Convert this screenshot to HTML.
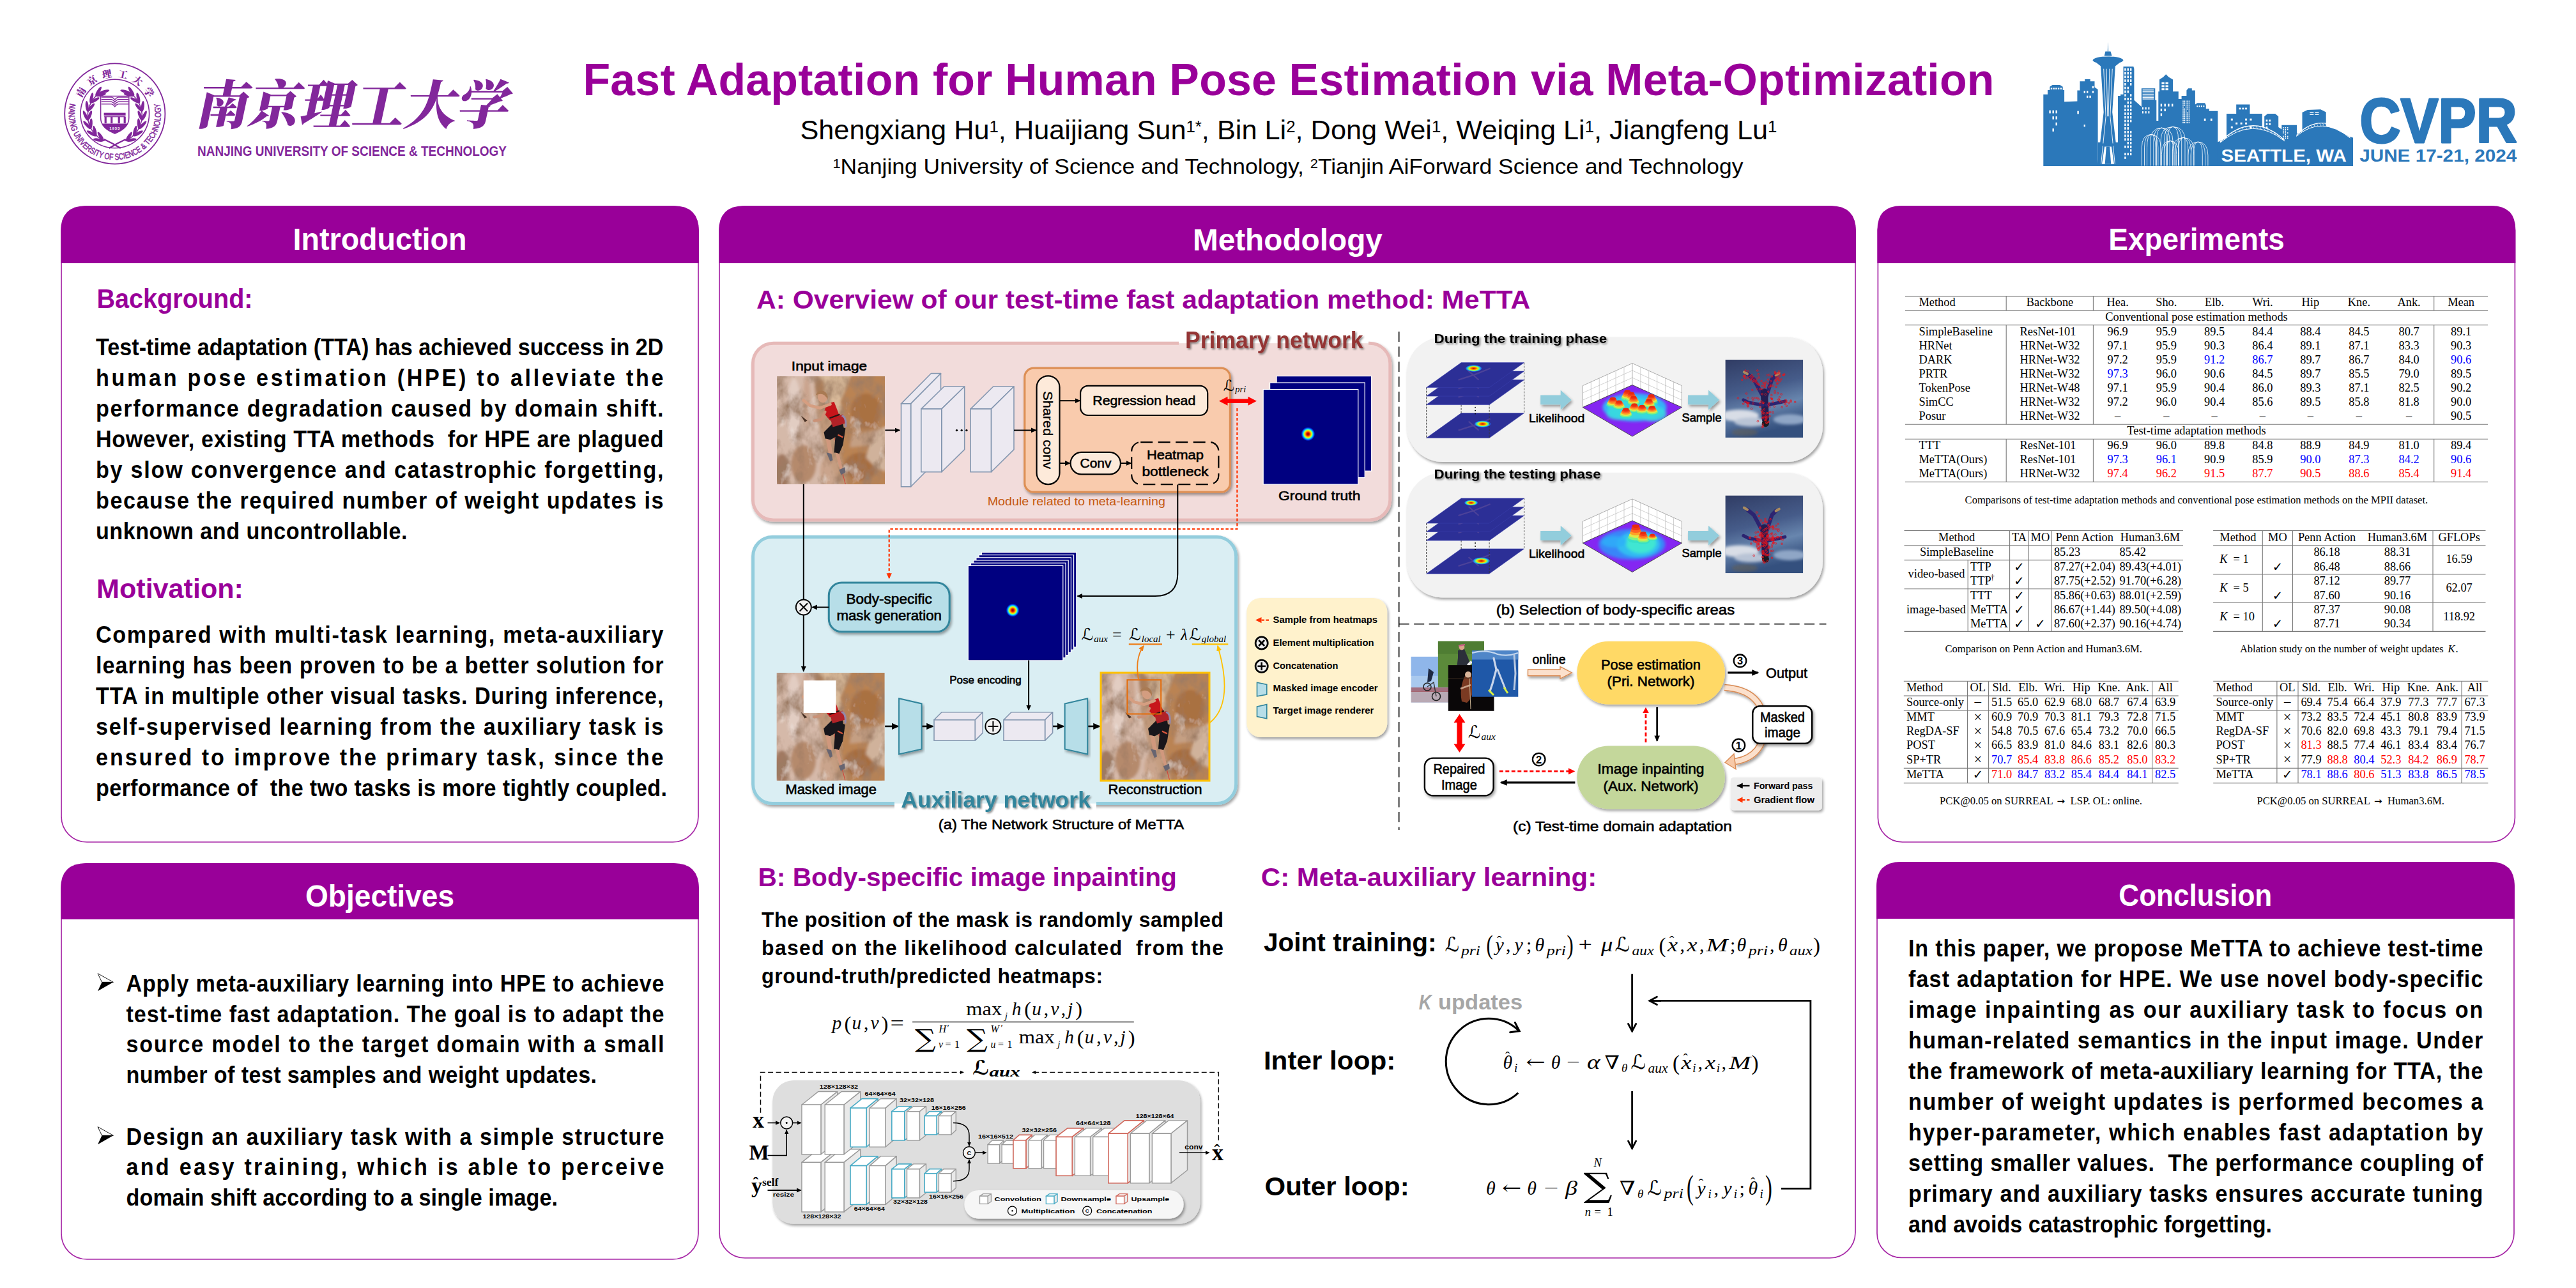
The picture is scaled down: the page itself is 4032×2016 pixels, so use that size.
<!DOCTYPE html>
<html lang="en">
<head>
<meta charset="utf-8">
<title>Fast Adaptation for Human Pose Estimation via Meta-Optimization</title>
<style>
html,body{margin:0;padding:0;background:#fff;}
body{width:4032px;height:2016px;overflow:hidden;font-family:"Liberation Sans", "DejaVu Sans", sans-serif;}
svg{display:block;position:absolute;left:0;top:0;}
text{white-space:pre;}
</style>
</head>
<body>
<svg width="4032" height="2016" viewBox="0 0 4032 2016">
<rect width="4032" height="2016" fill="#fff"/>
<g id="header">
<g id="njust-emblem">
<circle cx="179.8" cy="178.0" r="78.6" fill="#fff" stroke="#82279b" stroke-width="1.8"/>
<circle cx="179.8" cy="178.0" r="53.8" fill="none" stroke="#82279b" stroke-width="1.6"/>
<path id="embArcB" d="M109.74,160.53 A72.2,72.2 0 1 0 249.86,160.53" fill="none"/>
<text font-family='"Liberation Sans", "DejaVu Sans", sans-serif' font-size="13.6" fill="#82279b" stroke="#82279b" stroke-width="0.5" textLength="259.1" lengthAdjust="spacingAndGlyphs"><textPath href="#embArcB" startOffset="1.5">NANJING UNIVERSITY OF SCIENCE &amp; TECHNOLOGY</textPath></text>
<path id="embArcT" d="M127.27,154.61 A57.5,57.5 0 0 1 232.33,154.61" fill="none"/>
<text font-family='"Liberation Serif","Noto Serif CJK SC",serif' font-weight="900" font-size="15" fill="#82279b" textLength="130.5" lengthAdjust="spacing"><textPath href="#embArcT" startOffset="1">南京理工大学</textPath></text>
<path d="M157.6,150.6 L201.8,150.6 L201.8,184.6 Q201.8,200.6 179.8,209.0 Q157.6,200.6 157.6,184.6 Z" fill="#fff" stroke="#82279b" stroke-width="1.5"/>
<path d="M160.1,193.6 L199.3,193.6 Q196.8,202.6 179.8,208.6 Q162.6,202.6 160.1,193.6 Z" fill="#82279b"/>
<text x="179.80" y="202.60" font-family='"Liberation Sans", "DejaVu Sans", sans-serif' font-size="6.2" font-weight="bold" fill="#fff" text-anchor="middle" letter-spacing="0.8">1953</text>
<path d="M158.6,152.1 L174.8,152.1 Q177.8,153.1 179.8,156.1 Q181.8,153.1 184.8,152.1 L200.8,152.1" fill="none" stroke="#82279b" stroke-width="1.4"/>
<path d="M158.6,155.7 L174.8,155.7 Q177.8,156.7 179.8,159.7 Q181.8,156.7 184.8,155.7 L200.8,155.7" fill="none" stroke="#82279b" stroke-width="1.4"/>
<path d="M158.6,159.29999999999998 L174.8,159.29999999999998 Q177.8,160.29999999999998 179.8,163.29999999999998 Q181.8,160.29999999999998 184.8,159.29999999999998 L200.8,159.29999999999998" fill="none" stroke="#82279b" stroke-width="1.4"/>
<path d="M158.6,162.9 L174.8,162.9 Q177.8,163.9 179.8,166.9 Q181.8,163.9 184.8,162.9 L200.8,162.9" fill="none" stroke="#82279b" stroke-width="1.4"/>
<rect x="162.60" y="176.60" width="34.00" height="4.20" fill="#82279b"/>
<rect x="163.10" y="182.10" width="33.00" height="1.20" fill="#82279b"/>
<rect x="163.60" y="182.60" width="3.20" height="10.50" fill="#82279b"/>
<rect x="173.10" y="182.60" width="3.20" height="10.50" fill="#82279b"/>
<rect x="184.60" y="182.60" width="3.20" height="10.50" fill="#82279b"/>
<rect x="193.60" y="182.60" width="3.20" height="10.50" fill="#82279b"/>
<path d="M195.7,220.4 A42.5,42.5 0 0 0 201.1,144.2" fill="none" stroke="#82279b" stroke-width="1.5"/>
<ellipse cx="205.5" cy="219.1" rx="2.4" ry="8.4" fill="#82279b" transform="rotate(80.0 205.5 219.1)"/>
<ellipse cx="201.9" cy="213.7" rx="2.4" ry="8.4" fill="#82279b" transform="rotate(34.0 201.9 213.7)"/>
<ellipse cx="216.4" cy="208.9" rx="2.4" ry="8.4" fill="#82279b" transform="rotate(61.3 216.4 208.9)"/>
<ellipse cx="211.2" cy="205.0" rx="2.4" ry="8.4" fill="#82279b" transform="rotate(15.3 211.2 205.0)"/>
<ellipse cx="223.4" cy="195.7" rx="2.4" ry="8.4" fill="#82279b" transform="rotate(42.7 223.4 195.7)"/>
<ellipse cx="217.2" cy="193.6" rx="2.4" ry="8.4" fill="#82279b" transform="rotate(-3.3 217.2 193.6)"/>
<ellipse cx="225.8" cy="181.0" rx="2.4" ry="8.4" fill="#82279b" transform="rotate(24.0 225.8 181.0)"/>
<ellipse cx="219.3" cy="181.0" rx="2.4" ry="8.4" fill="#82279b" transform="rotate(-22.0 219.3 181.0)"/>
<ellipse cx="223.4" cy="166.3" rx="2.4" ry="8.4" fill="#82279b" transform="rotate(5.3 223.4 166.3)"/>
<ellipse cx="217.2" cy="168.4" rx="2.4" ry="8.4" fill="#82279b" transform="rotate(-40.7 217.2 168.4)"/>
<ellipse cx="216.4" cy="153.1" rx="2.4" ry="8.4" fill="#82279b" transform="rotate(-13.3 216.4 153.1)"/>
<ellipse cx="211.2" cy="157.0" rx="2.4" ry="8.4" fill="#82279b" transform="rotate(-59.3 211.2 157.0)"/>
<ellipse cx="205.5" cy="142.9" rx="2.4" ry="8.4" fill="#82279b" transform="rotate(-32.0 205.5 142.9)"/>
<ellipse cx="201.9" cy="148.3" rx="2.4" ry="8.4" fill="#82279b" transform="rotate(-78.0 201.9 148.3)"/>
<ellipse cx="196.5" cy="143.5" rx="2.4" ry="8.5" fill="#82279b" transform="rotate(-74.0 196.5 143.5)"/>
<path d="M196.8,218.0 Q183.8,224.0 170.8,232.0" stroke="#82279b" stroke-width="2.4" fill="none"/>
<g transform="translate(359.6,0) scale(-1,1)"><path d="M195.7,220.4 A42.5,42.5 0 0 0 201.1,144.2" fill="none" stroke="#82279b" stroke-width="1.5"/><ellipse cx="205.5" cy="219.1" rx="2.4" ry="8.4" fill="#82279b" transform="rotate(80.0 205.5 219.1)"/><ellipse cx="201.9" cy="213.7" rx="2.4" ry="8.4" fill="#82279b" transform="rotate(34.0 201.9 213.7)"/><ellipse cx="216.4" cy="208.9" rx="2.4" ry="8.4" fill="#82279b" transform="rotate(61.3 216.4 208.9)"/><ellipse cx="211.2" cy="205.0" rx="2.4" ry="8.4" fill="#82279b" transform="rotate(15.3 211.2 205.0)"/><ellipse cx="223.4" cy="195.7" rx="2.4" ry="8.4" fill="#82279b" transform="rotate(42.7 223.4 195.7)"/><ellipse cx="217.2" cy="193.6" rx="2.4" ry="8.4" fill="#82279b" transform="rotate(-3.3 217.2 193.6)"/><ellipse cx="225.8" cy="181.0" rx="2.4" ry="8.4" fill="#82279b" transform="rotate(24.0 225.8 181.0)"/><ellipse cx="219.3" cy="181.0" rx="2.4" ry="8.4" fill="#82279b" transform="rotate(-22.0 219.3 181.0)"/><ellipse cx="223.4" cy="166.3" rx="2.4" ry="8.4" fill="#82279b" transform="rotate(5.3 223.4 166.3)"/><ellipse cx="217.2" cy="168.4" rx="2.4" ry="8.4" fill="#82279b" transform="rotate(-40.7 217.2 168.4)"/><ellipse cx="216.4" cy="153.1" rx="2.4" ry="8.4" fill="#82279b" transform="rotate(-13.3 216.4 153.1)"/><ellipse cx="211.2" cy="157.0" rx="2.4" ry="8.4" fill="#82279b" transform="rotate(-59.3 211.2 157.0)"/><ellipse cx="205.5" cy="142.9" rx="2.4" ry="8.4" fill="#82279b" transform="rotate(-32.0 205.5 142.9)"/><ellipse cx="201.9" cy="148.3" rx="2.4" ry="8.4" fill="#82279b" transform="rotate(-78.0 201.9 148.3)"/><ellipse cx="196.5" cy="143.5" rx="2.4" ry="8.5" fill="#82279b" transform="rotate(-74.0 196.5 143.5)"/><path d="M196.8,218.0 Q183.8,224.0 170.8,232.0" stroke="#82279b" stroke-width="2.4" fill="none"/></g>
</g>
<text transform="translate(304,194) skewX(-12)" font-family='"Liberation Serif","Noto Serif CJK SC",serif' font-weight="900" font-size="82" fill="#82279b" textLength="490" lengthAdjust="spacing">南京理工大学</text>
<text x="309.00" y="244.20" font-family='"Liberation Sans", "DejaVu Sans", sans-serif' font-size="22.8" font-weight="bold" fill="#82279b" textLength="484.00" lengthAdjust="spacingAndGlyphs">NANJING UNIVERSITY OF SCIENCE &amp; TECHNOLOGY</text>
<text transform="translate(912.50,148.70) scale(0.9840,1)" font-family='"Liberation Sans", "DejaVu Sans", sans-serif' font-size="71" font-weight="bold" fill="#990099" textLength="2244.92" lengthAdjust="spacing">Fast Adaptation for Human Pose Estimation via Meta-Optimization</text>
<text x="1252.40" y="217.80" font-family='"Liberation Sans", "DejaVu Sans", sans-serif' font-size="42.9" textLength="1529.00" lengthAdjust="spacingAndGlyphs">Shengxiang Hu<tspan font-size="25.5" dy="-11.3">1</tspan><tspan dy="11.3">, Huaijiang Sun</tspan><tspan font-size="25.5" dy="-11.3">1*</tspan><tspan dy="11.3">, Bin Li</tspan><tspan font-size="25.5" dy="-11.3">2</tspan><tspan dy="11.3">, Dong Wei</tspan><tspan font-size="25.5" dy="-11.3">1</tspan><tspan dy="11.3">, Weiqing Li</tspan><tspan font-size="25.5" dy="-11.3">1</tspan><tspan dy="11.3">, Jiangfeng Lu</tspan><tspan font-size="25.5" dy="-11.3">1</tspan></text>
<text x="1303.40" y="271.70" font-family='"Liberation Sans", "DejaVu Sans", sans-serif' font-size="33.9" textLength="1425.00" lengthAdjust="spacingAndGlyphs"><tspan font-size="21" dy="-8.3">1</tspan><tspan dy="8.3">Nanjing University of Science and Technology, </tspan><tspan font-size="21" dy="-8.3">2</tspan><tspan dy="8.3">Tianjin AiForward Science and Technology</tspan></text>
</g>
<g id="cvpr-logo">
<polygon points="3198.3,260.0 3198.3,147.7 3205.0,147.7 3205.0,140.9 3208.4,140.9 3208.4,135.8 3212.5,133.1 3224.3,133.1 3228.7,135.8 3228.7,140.9 3231.1,140.9 3231.1,159.2 3251.4,158.5 3251.4,141.6 3255.5,141.6 3255.5,127.3 3263.2,127.3 3263.2,124.0 3271.7,124.0 3271.7,127.3 3278.5,127.3 3278.5,136.5 3283.6,139.9 3283.6,260.0" fill="#2b78ba"/>
<polygon points="3283.6,260.0 3283.6,222.8 3315.0,222.8 3315.0,150.0 3319.1,150.0 3319.1,147.7 3323.5,147.7 3323.5,104.3 3339.4,104.3 3340.4,107.7 3340.4,156.8 3351.9,166.9 3351.9,138.2 3373.3,138.2 3373.3,156.8 3375.3,156.8 3375.3,189.0 3378.3,189.0 3378.3,143.2 3380.0,143.2 3380.0,124.6 3386.1,120.6 3390.2,116.2 3394.3,120.6 3401.0,124.6 3401.0,143.2 3409.8,143.2 3409.8,155.1 3414.6,155.1 3414.6,150.0 3422.4,150.0 3422.4,141.6 3425.1,138.2 3430.8,138.2 3430.8,141.6 3435.9,141.6 3435.9,163.6 3439.3,161.2 3451.1,161.2 3452.8,164.6 3452.8,170.3 3457.9,170.3 3457.9,173.7 3471.4,173.7 3471.4,222.8 3471.4,260.0" fill="#2b78ba"/>
<polygon points="3470.4,260.0 3470.4,222.8 3485.0,216.0 3485.0,178.1 3500.2,178.1 3500.2,163.6 3521.5,163.6 3521.5,178.1 3540.8,178.1 3540.8,199.1 3544.2,199.1 3544.2,182.2 3549.3,178.1 3561.2,178.1 3566.2,182.2 3566.2,199.1 3571.3,202.5 3571.3,195.7 3595.0,195.7 3595.0,209.3 3603.5,205.9 3603.5,176.1 3611.9,172.0 3632.2,171.3 3640.7,175.4 3640.7,197.4 3657.6,202.5 3674.6,212.6 3683.0,215.4 3683.0,260.0" fill="#2b78ba"/>
<polygon points="3298.8,80.6 3299.5,65.4 3300.1,80.6" fill="#2b78ba"/>
<polygon points="3293.7,87.4 3295.4,80.6 3303.5,80.6 3305.6,87.4" fill="#2b78ba"/>
<ellipse cx="3299.5" cy="94.2" rx="23.7" ry="5.8" fill="#2b78ba"/>
<polygon points="3278.5,95.9 3320.5,95.9 3309.0,105.0 3290.0,105.0" fill="#2b78ba"/>
<polygon points="3288.0,102.6 3311.0,102.6 3306.2,175.4 3314.0,243.1 3316.4,260.0 3282.5,260.0 3284.9,243.1 3292.7,175.4" fill="#2b78ba"/>
<line x1="3292.70" y1="107.70" x2="3296.09" y2="182.18" stroke="#fff" stroke-width="0.9" />
<line x1="3306.24" y1="107.70" x2="3302.86" y2="182.18" stroke="#fff" stroke-width="0.9" />
<line x1="3296.09" y1="182.18" x2="3288.64" y2="256.66" stroke="#fff" stroke-width="0.9" />
<line x1="3302.86" y1="182.18" x2="3310.30" y2="256.66" stroke="#fff" stroke-width="0.9" />
<line x1="3297.10" y1="107.70" x2="3298.79" y2="182.18" stroke="#fff" stroke-width="0.9" />
<line x1="3301.84" y1="107.70" x2="3300.15" y2="182.18" stroke="#fff" stroke-width="0.9" />
<polygon points="3294.1,229.6 3304.9,229.6 3309.0,256.7 3290.0,256.7" fill="#fff"/>
<polygon points="3296.8,229.6 3302.2,229.6 3304.2,256.7 3294.7,256.7" fill="#2b78ba"/>
<polygon points="3285.9,224.5 3313.0,224.5 3313.0,228.2 3285.9,228.2" fill="#2b78ba"/>
<rect x="3325.2" y="107.0" width="2.4" height="3.7" fill="#fff"/>
<rect x="3329.6" y="107.0" width="2.4" height="3.7" fill="#fff"/>
<rect x="3334.0" y="107.0" width="2.4" height="3.7" fill="#fff"/>
<rect x="3325.2" y="112.8" width="2.4" height="3.7" fill="#fff"/>
<rect x="3329.6" y="112.8" width="2.4" height="3.7" fill="#fff"/>
<rect x="3334.0" y="112.8" width="2.4" height="3.7" fill="#fff"/>
<rect x="3325.2" y="118.5" width="2.4" height="3.7" fill="#fff"/>
<rect x="3329.6" y="118.5" width="2.4" height="3.7" fill="#fff"/>
<rect x="3334.0" y="118.5" width="2.4" height="3.7" fill="#fff"/>
<rect x="3325.2" y="124.3" width="2.4" height="3.7" fill="#fff"/>
<rect x="3329.6" y="124.3" width="2.4" height="3.7" fill="#fff"/>
<rect x="3334.0" y="124.3" width="2.4" height="3.7" fill="#fff"/>
<rect x="3325.2" y="130.0" width="2.4" height="3.7" fill="#fff"/>
<rect x="3334.0" y="130.0" width="2.4" height="3.7" fill="#fff"/>
<rect x="3325.2" y="135.8" width="2.4" height="3.7" fill="#fff"/>
<rect x="3329.6" y="135.8" width="2.4" height="3.7" fill="#fff"/>
<rect x="3325.2" y="141.6" width="2.4" height="3.7" fill="#fff"/>
<rect x="3329.6" y="141.6" width="2.4" height="3.7" fill="#fff"/>
<rect x="3325.2" y="147.3" width="2.4" height="3.7" fill="#fff"/>
<rect x="3334.0" y="147.3" width="2.4" height="3.7" fill="#fff"/>
<rect x="3325.2" y="153.1" width="2.4" height="3.7" fill="#fff"/>
<rect x="3329.6" y="153.1" width="2.4" height="3.7" fill="#fff"/>
<rect x="3334.0" y="153.1" width="2.4" height="3.7" fill="#fff"/>
<rect x="3329.6" y="158.8" width="2.4" height="3.7" fill="#fff"/>
<rect x="3334.0" y="158.8" width="2.4" height="3.7" fill="#fff"/>
<rect x="3325.2" y="164.6" width="2.4" height="3.7" fill="#fff"/>
<rect x="3329.6" y="164.6" width="2.4" height="3.7" fill="#fff"/>
<rect x="3334.0" y="164.6" width="2.4" height="3.7" fill="#fff"/>
<rect x="3325.2" y="170.3" width="2.4" height="3.7" fill="#fff"/>
<rect x="3329.6" y="170.3" width="2.4" height="3.7" fill="#fff"/>
<rect x="3334.0" y="170.3" width="2.4" height="3.7" fill="#fff"/>
<rect x="3325.2" y="176.1" width="2.4" height="3.7" fill="#fff"/>
<rect x="3329.6" y="176.1" width="2.4" height="3.7" fill="#fff"/>
<rect x="3334.0" y="176.1" width="2.4" height="3.7" fill="#fff"/>
<rect x="3325.2" y="181.8" width="2.4" height="3.7" fill="#fff"/>
<rect x="3329.6" y="181.8" width="2.4" height="3.7" fill="#fff"/>
<rect x="3334.0" y="181.8" width="2.4" height="3.7" fill="#fff"/>
<rect x="3325.2" y="187.6" width="2.4" height="3.7" fill="#fff"/>
<rect x="3329.6" y="187.6" width="2.4" height="3.7" fill="#fff"/>
<rect x="3334.0" y="187.6" width="2.4" height="3.7" fill="#fff"/>
<rect x="3325.2" y="193.4" width="2.4" height="3.7" fill="#fff"/>
<rect x="3329.6" y="193.4" width="2.4" height="3.7" fill="#fff"/>
<rect x="3325.2" y="199.1" width="2.4" height="3.7" fill="#fff"/>
<rect x="3329.6" y="199.1" width="2.4" height="3.7" fill="#fff"/>
<rect x="3325.2" y="204.9" width="2.4" height="3.7" fill="#fff"/>
<rect x="3329.6" y="204.9" width="2.4" height="3.7" fill="#fff"/>
<rect x="3334.0" y="204.9" width="2.4" height="3.7" fill="#fff"/>
<rect x="3325.2" y="210.6" width="2.4" height="3.7" fill="#fff"/>
<rect x="3329.6" y="210.6" width="2.4" height="3.7" fill="#fff"/>
<rect x="3334.0" y="210.6" width="2.4" height="3.7" fill="#fff"/>
<rect x="3325.2" y="216.4" width="2.4" height="3.7" fill="#fff"/>
<rect x="3329.6" y="216.4" width="2.4" height="3.7" fill="#fff"/>
<rect x="3334.0" y="216.4" width="2.4" height="3.7" fill="#fff"/>
<rect x="3329.6" y="222.1" width="2.4" height="3.7" fill="#fff"/>
<rect x="3334.0" y="222.1" width="2.4" height="3.7" fill="#fff"/>
<rect x="3325.2" y="227.9" width="2.4" height="3.7" fill="#fff"/>
<rect x="3329.6" y="227.9" width="2.4" height="3.7" fill="#fff"/>
<rect x="3334.0" y="227.9" width="2.4" height="3.7" fill="#fff"/>
<rect x="3334.0" y="233.6" width="2.4" height="3.7" fill="#fff"/>
<rect x="3325.2" y="239.4" width="2.4" height="3.7" fill="#fff"/>
<rect x="3329.6" y="239.4" width="2.4" height="3.7" fill="#fff"/>
<rect x="3334.0" y="239.4" width="2.4" height="3.7" fill="#fff"/>
<rect x="3325.2" y="245.1" width="2.4" height="3.7" fill="#fff"/>
<rect x="3353.6" y="140.2" width="17.6" height="1.2" fill="#fff"/>
<rect x="3353.6" y="142.6" width="17.6" height="1.2" fill="#fff"/>
<rect x="3353.6" y="144.9" width="17.6" height="1.2" fill="#fff"/>
<rect x="3353.6" y="147.3" width="17.6" height="1.2" fill="#fff"/>
<rect x="3353.6" y="149.7" width="17.6" height="1.2" fill="#fff"/>
<rect x="3353.6" y="152.1" width="17.6" height="1.2" fill="#fff"/>
<rect x="3353.6" y="154.4" width="17.6" height="1.2" fill="#fff"/>
<rect x="3416.3" y="157.5" width="1.4" height="2.0" fill="#fff"/>
<rect x="3418.6" y="157.5" width="1.4" height="2.0" fill="#fff"/>
<rect x="3421.0" y="157.5" width="1.4" height="2.0" fill="#fff"/>
<rect x="3423.4" y="157.5" width="1.4" height="2.0" fill="#fff"/>
<rect x="3425.7" y="157.5" width="1.4" height="2.0" fill="#fff"/>
<rect x="3416.3" y="160.5" width="1.4" height="2.0" fill="#fff"/>
<rect x="3418.6" y="160.5" width="1.4" height="2.0" fill="#fff"/>
<rect x="3421.0" y="160.5" width="1.4" height="2.0" fill="#fff"/>
<rect x="3423.4" y="160.5" width="1.4" height="2.0" fill="#fff"/>
<rect x="3425.7" y="160.5" width="1.4" height="2.0" fill="#fff"/>
<rect x="3416.3" y="163.6" width="1.4" height="2.0" fill="#fff"/>
<rect x="3418.6" y="163.6" width="1.4" height="2.0" fill="#fff"/>
<rect x="3421.0" y="163.6" width="1.4" height="2.0" fill="#fff"/>
<rect x="3423.4" y="163.6" width="1.4" height="2.0" fill="#fff"/>
<rect x="3425.7" y="163.6" width="1.4" height="2.0" fill="#fff"/>
<rect x="3416.3" y="166.6" width="1.4" height="2.0" fill="#fff"/>
<rect x="3421.0" y="166.6" width="1.4" height="2.0" fill="#fff"/>
<rect x="3423.4" y="166.6" width="1.4" height="2.0" fill="#fff"/>
<rect x="3425.7" y="166.6" width="1.4" height="2.0" fill="#fff"/>
<rect x="3416.3" y="169.7" width="1.4" height="2.0" fill="#fff"/>
<rect x="3418.6" y="169.7" width="1.4" height="2.0" fill="#fff"/>
<rect x="3421.0" y="169.7" width="1.4" height="2.0" fill="#fff"/>
<rect x="3423.4" y="169.7" width="1.4" height="2.0" fill="#fff"/>
<rect x="3425.7" y="169.7" width="1.4" height="2.0" fill="#fff"/>
<rect x="3416.3" y="172.7" width="1.4" height="2.0" fill="#fff"/>
<rect x="3418.6" y="172.7" width="1.4" height="2.0" fill="#fff"/>
<rect x="3421.0" y="172.7" width="1.4" height="2.0" fill="#fff"/>
<rect x="3425.7" y="172.7" width="1.4" height="2.0" fill="#fff"/>
<rect x="3416.3" y="175.7" width="1.4" height="2.0" fill="#fff"/>
<rect x="3418.6" y="175.7" width="1.4" height="2.0" fill="#fff"/>
<rect x="3421.0" y="175.7" width="1.4" height="2.0" fill="#fff"/>
<rect x="3423.4" y="175.7" width="1.4" height="2.0" fill="#fff"/>
<rect x="3425.7" y="175.7" width="1.4" height="2.0" fill="#fff"/>
<rect x="3416.3" y="178.8" width="1.4" height="2.0" fill="#fff"/>
<rect x="3418.6" y="178.8" width="1.4" height="2.0" fill="#fff"/>
<rect x="3421.0" y="178.8" width="1.4" height="2.0" fill="#fff"/>
<rect x="3423.4" y="178.8" width="1.4" height="2.0" fill="#fff"/>
<rect x="3425.7" y="178.8" width="1.4" height="2.0" fill="#fff"/>
<rect x="3416.3" y="181.8" width="1.4" height="2.0" fill="#fff"/>
<rect x="3418.6" y="181.8" width="1.4" height="2.0" fill="#fff"/>
<rect x="3421.0" y="181.8" width="1.4" height="2.0" fill="#fff"/>
<rect x="3423.4" y="181.8" width="1.4" height="2.0" fill="#fff"/>
<rect x="3425.7" y="181.8" width="1.4" height="2.0" fill="#fff"/>
<rect x="3416.3" y="184.9" width="1.4" height="2.0" fill="#fff"/>
<rect x="3418.6" y="184.9" width="1.4" height="2.0" fill="#fff"/>
<rect x="3421.0" y="184.9" width="1.4" height="2.0" fill="#fff"/>
<rect x="3423.4" y="184.9" width="1.4" height="2.0" fill="#fff"/>
<rect x="3425.7" y="184.9" width="1.4" height="2.0" fill="#fff"/>
<rect x="3416.3" y="187.9" width="1.4" height="2.0" fill="#fff"/>
<rect x="3418.6" y="187.9" width="1.4" height="2.0" fill="#fff"/>
<rect x="3421.0" y="187.9" width="1.4" height="2.0" fill="#fff"/>
<rect x="3423.4" y="187.9" width="1.4" height="2.0" fill="#fff"/>
<rect x="3425.7" y="187.9" width="1.4" height="2.0" fill="#fff"/>
<rect x="3416.3" y="191.0" width="1.4" height="2.0" fill="#fff"/>
<rect x="3418.6" y="191.0" width="1.4" height="2.0" fill="#fff"/>
<rect x="3421.0" y="191.0" width="1.4" height="2.0" fill="#fff"/>
<rect x="3423.4" y="191.0" width="1.4" height="2.0" fill="#fff"/>
<rect x="3425.7" y="191.0" width="1.4" height="2.0" fill="#fff"/>
<rect x="3209.8" y="137.5" width="2.4" height="2.4" fill="#fff"/>
<rect x="3213.5" y="137.5" width="2.4" height="2.4" fill="#fff"/>
<rect x="3217.2" y="137.5" width="2.4" height="2.4" fill="#fff"/>
<rect x="3220.9" y="137.5" width="2.4" height="2.4" fill="#fff"/>
<rect x="3224.7" y="137.5" width="2.4" height="2.4" fill="#fff"/>
<rect x="3207.4" y="172.7" width="2.4" height="4.7" fill="#fff"/>
<rect x="3212.5" y="172.7" width="2.4" height="4.7" fill="#fff"/>
<rect x="3217.5" y="172.7" width="2.4" height="4.7" fill="#fff"/>
<rect x="3212.5" y="182.2" width="2.4" height="4.7" fill="#fff"/>
<rect x="3217.5" y="182.2" width="2.4" height="4.7" fill="#fff"/>
<rect x="3217.5" y="191.7" width="2.4" height="4.7" fill="#fff"/>
<rect x="3212.5" y="201.1" width="2.4" height="4.7" fill="#fff"/>
<rect x="3274.8" y="134.8" width="2.4" height="3.4" fill="#fff"/>
<rect x="3261.6" y="142.2" width="2.4" height="3.4" fill="#fff"/>
<rect x="3266.0" y="142.2" width="2.4" height="3.4" fill="#fff"/>
<rect x="3274.8" y="142.2" width="2.4" height="3.4" fill="#fff"/>
<rect x="3266.0" y="149.7" width="2.4" height="3.4" fill="#fff"/>
<rect x="3270.4" y="149.7" width="2.4" height="3.4" fill="#fff"/>
<rect x="3383.4" y="128.7" width="4.4" height="3.0" fill="#fff"/>
<rect x="3389.5" y="128.7" width="4.4" height="3.0" fill="#fff"/>
<rect x="3383.4" y="133.4" width="4.4" height="3.0" fill="#fff"/>
<rect x="3389.5" y="133.4" width="4.4" height="3.0" fill="#fff"/>
<rect x="3383.4" y="138.2" width="4.4" height="3.0" fill="#fff"/>
<rect x="3389.5" y="138.2" width="4.4" height="3.0" fill="#fff"/>
<rect x="3381.7" y="162.5" width="2.4" height="4.1" fill="#fff"/>
<rect x="3387.5" y="162.5" width="2.4" height="4.1" fill="#fff"/>
<rect x="3393.2" y="162.5" width="2.4" height="4.1" fill="#fff"/>
<rect x="3399.0" y="162.5" width="2.4" height="4.1" fill="#fff"/>
<rect x="3381.7" y="170.0" width="2.4" height="4.1" fill="#fff"/>
<rect x="3387.5" y="170.0" width="2.4" height="4.1" fill="#fff"/>
<rect x="3381.7" y="177.4" width="2.4" height="4.1" fill="#fff"/>
<rect x="3353.0" y="168.0" width="2.0" height="3.4" fill="#fff"/>
<rect x="3357.7" y="168.0" width="2.0" height="3.4" fill="#fff"/>
<rect x="3362.4" y="168.0" width="2.0" height="3.4" fill="#fff"/>
<rect x="3353.0" y="174.1" width="2.0" height="3.4" fill="#fff"/>
<rect x="3357.7" y="174.1" width="2.0" height="3.4" fill="#fff"/>
<rect x="3362.4" y="174.1" width="2.0" height="3.4" fill="#fff"/>
<rect x="3438.3" y="165.3" width="2.0" height="2.0" fill="#fff"/>
<rect x="3441.7" y="165.3" width="2.0" height="2.0" fill="#fff"/>
<rect x="3445.0" y="165.3" width="2.0" height="2.0" fill="#fff"/>
<rect x="3448.4" y="165.3" width="2.0" height="2.0" fill="#fff"/>
<rect x="3449.8" y="185.6" width="2.7" height="3.4" fill="#fff"/>
<rect x="3459.9" y="185.6" width="2.7" height="3.4" fill="#fff"/>
<rect x="3504.6" y="168.6" width="3.0" height="2.7" fill="#fff"/>
<rect x="3509.4" y="168.6" width="3.0" height="2.7" fill="#fff"/>
<rect x="3514.1" y="168.6" width="3.0" height="2.7" fill="#fff"/>
<rect x="3491.8" y="185.6" width="3.0" height="3.0" fill="#fff"/>
<rect x="3514.1" y="185.6" width="3.0" height="3.0" fill="#fff"/>
<rect x="3521.5" y="185.6" width="3.0" height="3.0" fill="#fff"/>
<rect x="3499.2" y="191.7" width="3.0" height="3.0" fill="#fff"/>
<rect x="3506.6" y="191.7" width="3.0" height="3.0" fill="#fff"/>
<rect x="3514.1" y="191.7" width="3.0" height="3.0" fill="#fff"/>
<rect x="3491.8" y="197.8" width="3.0" height="3.0" fill="#fff"/>
<rect x="3521.5" y="197.8" width="3.0" height="3.0" fill="#fff"/>
<rect x="3546.6" y="187.3" width="2.7" height="3.0" fill="#fff"/>
<rect x="3551.3" y="187.3" width="2.7" height="3.0" fill="#fff"/>
<rect x="3546.6" y="192.7" width="2.7" height="3.0" fill="#fff"/>
<rect x="3551.3" y="192.7" width="2.7" height="3.0" fill="#fff"/>
<rect x="3546.6" y="198.1" width="2.7" height="3.0" fill="#fff"/>
<rect x="3573.0" y="199.1" width="1.7" height="1.7" fill="#fff"/>
<rect x="3576.4" y="199.1" width="1.7" height="1.7" fill="#fff"/>
<rect x="3579.8" y="199.1" width="1.7" height="1.7" fill="#fff"/>
<rect x="3573.0" y="201.8" width="1.7" height="1.7" fill="#fff"/>
<rect x="3576.4" y="201.8" width="1.7" height="1.7" fill="#fff"/>
<rect x="3579.8" y="201.8" width="1.7" height="1.7" fill="#fff"/>
<rect x="3573.0" y="204.5" width="1.7" height="1.7" fill="#fff"/>
<rect x="3576.4" y="204.5" width="1.7" height="1.7" fill="#fff"/>
<rect x="3573.0" y="207.2" width="1.7" height="1.7" fill="#fff"/>
<rect x="3576.4" y="207.2" width="1.7" height="1.7" fill="#fff"/>
<rect x="3579.8" y="207.2" width="1.7" height="1.7" fill="#fff"/>
<rect x="3576.4" y="209.9" width="1.7" height="1.7" fill="#fff"/>
<rect x="3573.0" y="212.6" width="1.7" height="1.7" fill="#fff"/>
<rect x="3576.4" y="212.6" width="1.7" height="1.7" fill="#fff"/>
<rect x="3579.8" y="212.6" width="1.7" height="1.7" fill="#fff"/>
<rect x="3573.0" y="215.4" width="1.7" height="1.7" fill="#fff"/>
<rect x="3576.4" y="215.4" width="1.7" height="1.7" fill="#fff"/>
<rect x="3579.8" y="215.4" width="1.7" height="1.7" fill="#fff"/>
<rect x="3615.3" y="175.4" width="6.1" height="1.4" fill="#fff"/>
<rect x="3623.4" y="175.4" width="6.1" height="1.4" fill="#fff"/>
<rect x="3615.3" y="178.5" width="6.1" height="1.4" fill="#fff"/>
<rect x="3623.4" y="178.5" width="6.1" height="1.4" fill="#fff"/>
<rect x="3251.4" y="173.7" width="2.4" height="4.7" fill="#fff"/>
<rect x="3261.6" y="195.0" width="2.4" height="3.4" fill="#fff"/>
<path d="M3474.8,222.1 Q3525.6,172.7 3575.7,219.4" fill="none" stroke="#fff" stroke-width="1.3"/>
<path d="M3474.8,223.5 Q3525.6,180.3 3575.7,220.8" fill="none" stroke="#fff" stroke-width="1.0"/>
<line x1="3480.47" y1="216.93" x2="3483.29" y2="216.84" stroke="#fff" stroke-width="0.7" />
<line x1="3486.10" y1="212.33" x2="3488.92" y2="213.06" stroke="#fff" stroke-width="0.7" />
<line x1="3491.73" y1="208.32" x2="3494.55" y2="209.80" stroke="#fff" stroke-width="0.7" />
<line x1="3497.36" y1="204.91" x2="3500.17" y2="207.06" stroke="#fff" stroke-width="0.7" />
<line x1="3502.99" y1="202.09" x2="3505.80" y2="204.84" stroke="#fff" stroke-width="0.7" />
<line x1="3508.60" y1="199.86" x2="3511.41" y2="203.13" stroke="#fff" stroke-width="0.7" />
<line x1="3514.22" y1="198.22" x2="3517.03" y2="201.95" stroke="#fff" stroke-width="0.7" />
<line x1="3519.83" y1="197.18" x2="3522.63" y2="201.28" stroke="#fff" stroke-width="0.7" />
<line x1="3525.44" y1="196.74" x2="3528.24" y2="201.13" stroke="#fff" stroke-width="0.7" />
<line x1="3531.04" y1="196.88" x2="3533.84" y2="201.49" stroke="#fff" stroke-width="0.7" />
<line x1="3536.64" y1="197.62" x2="3539.43" y2="202.38" stroke="#fff" stroke-width="0.7" />
<line x1="3542.23" y1="198.96" x2="3545.03" y2="203.79" stroke="#fff" stroke-width="0.7" />
<line x1="3547.82" y1="200.88" x2="3550.61" y2="205.71" stroke="#fff" stroke-width="0.7" />
<line x1="3553.41" y1="203.40" x2="3556.20" y2="208.15" stroke="#fff" stroke-width="0.7" />
<line x1="3558.99" y1="206.52" x2="3561.78" y2="211.11" stroke="#fff" stroke-width="0.7" />
<line x1="3564.57" y1="210.22" x2="3567.35" y2="214.58" stroke="#fff" stroke-width="0.7" />
<line x1="3570.14" y1="214.52" x2="3572.92" y2="218.58" stroke="#fff" stroke-width="0.7" />
<path d="M3594.3,212.0 Q3633.9,172.0 3678.6,214.7" fill="none" stroke="#fff" stroke-width="1.3"/>
<path d="M3594.3,213.4 Q3633.9,179.6 3678.6,216.1" fill="none" stroke="#fff" stroke-width="1.0"/>
<line x1="3598.74" y1="207.79" x2="3600.96" y2="208.17" stroke="#fff" stroke-width="0.7" />
<line x1="3603.19" y1="204.11" x2="3605.43" y2="205.28" stroke="#fff" stroke-width="0.7" />
<line x1="3607.67" y1="200.95" x2="3609.92" y2="202.82" stroke="#fff" stroke-width="0.7" />
<line x1="3612.18" y1="198.30" x2="3614.45" y2="200.80" stroke="#fff" stroke-width="0.7" />
<line x1="3616.72" y1="196.15" x2="3619.00" y2="199.21" stroke="#fff" stroke-width="0.7" />
<line x1="3621.30" y1="194.52" x2="3623.59" y2="198.06" stroke="#fff" stroke-width="0.7" />
<line x1="3625.90" y1="193.39" x2="3628.21" y2="197.34" stroke="#fff" stroke-width="0.7" />
<line x1="3630.54" y1="192.78" x2="3632.87" y2="197.05" stroke="#fff" stroke-width="0.7" />
<line x1="3635.20" y1="192.67" x2="3637.55" y2="197.20" stroke="#fff" stroke-width="0.7" />
<line x1="3639.90" y1="193.08" x2="3642.26" y2="197.79" stroke="#fff" stroke-width="0.7" />
<line x1="3644.63" y1="194.00" x2="3647.01" y2="198.81" stroke="#fff" stroke-width="0.7" />
<line x1="3649.39" y1="195.42" x2="3651.79" y2="200.26" stroke="#fff" stroke-width="0.7" />
<line x1="3654.19" y1="197.36" x2="3656.59" y2="202.15" stroke="#fff" stroke-width="0.7" />
<line x1="3659.01" y1="199.80" x2="3661.43" y2="204.48" stroke="#fff" stroke-width="0.7" />
<line x1="3663.86" y1="202.75" x2="3666.30" y2="207.24" stroke="#fff" stroke-width="0.7" />
<line x1="3668.75" y1="206.22" x2="3671.21" y2="210.43" stroke="#fff" stroke-width="0.7" />
<line x1="3673.67" y1="210.19" x2="3676.14" y2="214.06" stroke="#fff" stroke-width="0.7" />
<path d="M3352.3,259.4 L3352.3,231.3 Q3352.3,211.0 3367.2,210.3 Q3382.1,211.0 3382.1,231.3 L3382.1,259.4" fill="none" stroke="#fff" stroke-width="0.8"/>
<path d="M3356.5,259.4 L3356.5,231.3 Q3356.5,211.0 3367.2,210.3 Q3377.9,211.0 3377.9,231.3 L3377.9,259.4" fill="none" stroke="#fff" stroke-width="0.8"/>
<path d="M3360.5,259.4 L3360.5,231.3 Q3360.5,211.0 3367.2,210.3 Q3373.9,211.0 3373.9,231.3 L3373.9,259.4" fill="none" stroke="#fff" stroke-width="0.8"/>
<path d="M3365.8,259.4 L3365.8,221.1 Q3365.8,200.8 3383.4,200.1 Q3401.0,200.8 3401.0,221.1 L3401.0,259.4" fill="none" stroke="#fff" stroke-width="0.8"/>
<path d="M3370.8,259.4 L3370.8,221.1 Q3370.8,200.8 3383.4,200.1 Q3396.1,200.8 3396.1,221.1 L3396.1,259.4" fill="none" stroke="#fff" stroke-width="0.8"/>
<path d="M3375.5,259.4 L3375.5,221.1 Q3375.5,200.8 3383.4,200.1 Q3391.3,200.8 3391.3,221.1 L3391.3,259.4" fill="none" stroke="#fff" stroke-width="0.8"/>
<path d="M3382.1,259.4 L3382.1,219.4 Q3382.1,199.1 3401.0,198.4 Q3420.0,199.1 3420.0,219.4 L3420.0,259.4" fill="none" stroke="#fff" stroke-width="0.8"/>
<path d="M3387.4,259.4 L3387.4,219.4 Q3387.4,199.1 3401.0,198.4 Q3414.7,199.1 3414.7,219.4 L3414.7,259.4" fill="none" stroke="#fff" stroke-width="0.8"/>
<path d="M3392.5,259.4 L3392.5,219.4 Q3392.5,199.1 3401.0,198.4 Q3409.6,199.1 3409.6,219.4 L3409.6,259.4" fill="none" stroke="#fff" stroke-width="0.8"/>
<path d="M3400.4,259.4 L3400.4,236.3 Q3400.4,216.0 3417.3,215.4 Q3434.2,216.0 3434.2,236.3 L3434.2,259.4" fill="none" stroke="#fff" stroke-width="0.8"/>
<path d="M3405.1,259.4 L3405.1,236.3 Q3405.1,216.0 3417.3,215.4 Q3429.5,216.0 3429.5,236.3 L3429.5,259.4" fill="none" stroke="#fff" stroke-width="0.8"/>
<path d="M3409.7,259.4 L3409.7,236.3 Q3409.7,216.0 3417.3,215.4 Q3424.9,216.0 3424.9,236.3 L3424.9,259.4" fill="none" stroke="#fff" stroke-width="0.8"/>
<path d="M3424.7,259.4 L3424.7,243.1 Q3424.7,222.8 3440.3,222.1 Q3455.9,222.8 3455.9,243.1 L3455.9,259.4" fill="none" stroke="#fff" stroke-width="0.8"/>
<path d="M3429.1,259.4 L3429.1,243.1 Q3429.1,222.8 3440.3,222.1 Q3451.5,222.8 3451.5,243.1 L3451.5,259.4" fill="none" stroke="#fff" stroke-width="0.8"/>
<path d="M3433.3,259.4 L3433.3,243.1 Q3433.3,222.8 3440.3,222.1 Q3447.3,222.8 3447.3,243.1 L3447.3,259.4" fill="none" stroke="#fff" stroke-width="0.8"/>
<path d="M3383.4,259.4 L3383.4,241.4 Q3383.4,221.1 3397.0,220.4 Q3410.5,221.1 3410.5,241.4 L3410.5,259.4" fill="none" stroke="#fff" stroke-width="0.8"/>
<path d="M3387.2,259.4 L3387.2,241.4 Q3387.2,221.1 3397.0,220.4 Q3406.7,221.1 3406.7,241.4 L3406.7,259.4" fill="none" stroke="#fff" stroke-width="0.8"/>
<path d="M3390.9,259.4 L3390.9,241.4 Q3390.9,221.1 3397.0,220.4 Q3403.1,221.1 3403.1,241.4 L3403.1,259.4" fill="none" stroke="#fff" stroke-width="0.8"/>
<text x="3476.52" y="252.59" font-family='"Liberation Sans", "DejaVu Sans", sans-serif' font-size="27.6" font-weight="bold" fill="#fff" textLength="196.34" lengthAdjust="spacingAndGlyphs">SEATTLE, WA</text>
<text x="3693.51" y="222.80" font-family='"Liberation Sans", "DejaVu Sans", sans-serif' font-size="98.4" font-weight="bold" fill="#2b78ba" textLength="246.11" lengthAdjust="spacingAndGlyphs" stroke="#2b78ba" stroke-width="3.2" stroke-linejoin="round">CVPR</text>
<text x="3693.18" y="252.59" font-family='"Liberation Sans", "DejaVu Sans", sans-serif' font-size="27.6" font-weight="bold" fill="#2b78ba" textLength="246.11" lengthAdjust="spacingAndGlyphs">JUNE 17-21, 2024</text>
</g>
<g id="introduction">
<rect x="96.00" y="323.00" width="997.00" height="995.00" fill="#fff" rx="40" stroke="#a626a6" stroke-width="1.7"/>
<path d="M95,412 L95,362 Q95,322 135,322 L1054,322 Q1094,322 1094,362 L1094,412 Z" fill="#990099"/>
<text transform="translate(594.50,391.00) scale(0.9300,1)" font-family='"Liberation Sans", "DejaVu Sans", sans-serif' font-size="48" font-weight="bold" fill="#fff" text-anchor="middle" textLength="292.47" lengthAdjust="spacingAndGlyphs">Introduction</text>
<text x="151.50" y="482.20" font-family='"Liberation Sans", "DejaVu Sans", sans-serif' font-size="42.3" font-weight="bold" fill="#990099" textLength="244.00" lengthAdjust="spacingAndGlyphs">Background:</text>
<text transform="translate(150.00,555.70) scale(0.9430,1)" font-family='"Liberation Sans", "DejaVu Sans", sans-serif' font-size="36.2" font-weight="bold" textLength="942.21" lengthAdjust="spacing">Test-time adaptation (TTA) has achieved success in 2D</text>
<text transform="translate(150.00,603.70) scale(0.9430,1)" font-family='"Liberation Sans", "DejaVu Sans", sans-serif' font-size="36.2" font-weight="bold" textLength="942.21" lengthAdjust="spacing">human pose estimation (HPE) to alleviate the</text>
<text transform="translate(150.00,651.70) scale(0.9430,1)" font-family='"Liberation Sans", "DejaVu Sans", sans-serif' font-size="36.2" font-weight="bold" textLength="942.21" lengthAdjust="spacing">performance degradation caused by domain shift.</text>
<text transform="translate(150.00,699.70) scale(0.9430,1)" font-family='"Liberation Sans", "DejaVu Sans", sans-serif' font-size="36.2" font-weight="bold" textLength="942.21" lengthAdjust="spacing">However, existing TTA methods  for HPE are plagued</text>
<text transform="translate(150.00,747.70) scale(0.9430,1)" font-family='"Liberation Sans", "DejaVu Sans", sans-serif' font-size="36.2" font-weight="bold" textLength="942.21" lengthAdjust="spacing">by slow convergence and catastrophic forgetting,</text>
<text transform="translate(150.00,795.70) scale(0.9430,1)" font-family='"Liberation Sans", "DejaVu Sans", sans-serif' font-size="36.2" font-weight="bold" textLength="942.21" lengthAdjust="spacing">because the required number of weight updates is</text>
<text transform="translate(150.00,843.70) scale(0.9430,1)" font-family='"Liberation Sans", "DejaVu Sans", sans-serif' font-size="36.2" font-weight="bold" textLength="516.86" lengthAdjust="spacing">unknown and uncontrollable.</text>
<text x="151.00" y="936.20" font-family='"Liberation Sans", "DejaVu Sans", sans-serif' font-size="42.3" font-weight="bold" fill="#990099" textLength="230.00" lengthAdjust="spacingAndGlyphs">Motivation:</text>
<text transform="translate(150.00,1006.20) scale(0.9430,1)" font-family='"Liberation Sans", "DejaVu Sans", sans-serif' font-size="36.2" font-weight="bold" textLength="942.21" lengthAdjust="spacing">Compared with multi-task learning, meta-auxiliary</text>
<text transform="translate(150.00,1054.20) scale(0.9430,1)" font-family='"Liberation Sans", "DejaVu Sans", sans-serif' font-size="36.2" font-weight="bold" textLength="942.21" lengthAdjust="spacing">learning has been proven to be a better solution for</text>
<text transform="translate(150.00,1102.20) scale(0.9430,1)" font-family='"Liberation Sans", "DejaVu Sans", sans-serif' font-size="36.2" font-weight="bold" textLength="942.21" lengthAdjust="spacing">TTA in multiple other visual tasks. During inference,</text>
<text transform="translate(150.00,1150.20) scale(0.9430,1)" font-family='"Liberation Sans", "DejaVu Sans", sans-serif' font-size="36.2" font-weight="bold" textLength="942.21" lengthAdjust="spacing">self-supervised learning from the auxiliary task is</text>
<text transform="translate(150.00,1198.20) scale(0.9430,1)" font-family='"Liberation Sans", "DejaVu Sans", sans-serif' font-size="36.2" font-weight="bold" textLength="942.21" lengthAdjust="spacing">ensured to improve the primary task, since the</text>
<text transform="translate(150.00,1246.20) scale(0.9430,1)" font-family='"Liberation Sans", "DejaVu Sans", sans-serif' font-size="36.2" font-weight="bold" textLength="948.04" lengthAdjust="spacing">performance of  the two tasks is more tightly coupled.</text>
</g>
<g id="objectives">
<rect x="96.00" y="1352.00" width="997.00" height="619.00" fill="#fff" rx="40" stroke="#a626a6" stroke-width="1.7"/>
<path d="M95,1439 L95,1391 Q95,1351 135,1351 L1054,1351 Q1094,1351 1094,1391 L1094,1439 Z" fill="#990099"/>
<text transform="translate(594.50,1419.00) scale(0.9300,1)" font-family='"Liberation Sans", "DejaVu Sans", sans-serif' font-size="48" font-weight="bold" fill="#fff" text-anchor="middle" textLength="250.54" lengthAdjust="spacingAndGlyphs">Objectives</text>
<text transform="translate(197.50,1552.00) scale(0.9430,1)" font-family='"Liberation Sans", "DejaVu Sans", sans-serif' font-size="36.2" font-weight="bold" textLength="892.90" lengthAdjust="spacing">Apply meta-auxiliary learning into HPE to achieve</text>
<text transform="translate(197.50,1599.70) scale(0.9430,1)" font-family='"Liberation Sans", "DejaVu Sans", sans-serif' font-size="36.2" font-weight="bold" textLength="892.90" lengthAdjust="spacing">test-time fast adaptation. The goal is to adapt the</text>
<text transform="translate(197.50,1647.40) scale(0.9430,1)" font-family='"Liberation Sans", "DejaVu Sans", sans-serif' font-size="36.2" font-weight="bold" textLength="892.90" lengthAdjust="spacing">source model to the target domain with a small</text>
<text transform="translate(197.50,1695.10) scale(0.9430,1)" font-family='"Liberation Sans", "DejaVu Sans", sans-serif' font-size="36.2" font-weight="bold" textLength="781.02" lengthAdjust="spacing">number of test samples and weight updates.</text>
<text transform="translate(197.50,1791.70) scale(0.9430,1)" font-family='"Liberation Sans", "DejaVu Sans", sans-serif' font-size="36.2" font-weight="bold" textLength="892.90" lengthAdjust="spacing">Design an auxiliary task with a simple structure</text>
<text transform="translate(197.50,1839.45) scale(0.9430,1)" font-family='"Liberation Sans", "DejaVu Sans", sans-serif' font-size="36.2" font-weight="bold" textLength="892.90" lengthAdjust="spacing">and easy training, which is able to perceive</text>
<text transform="translate(197.50,1887.20) scale(0.9430,1)" font-family='"Liberation Sans", "DejaVu Sans", sans-serif' font-size="36.2" font-weight="bold" textLength="716.33" lengthAdjust="spacing">domain shift according to a single image.</text>
<path d="M153,1523.7 L177.4,1537.3 L159.5,1537.3 Z" fill="#fff" stroke="#000" stroke-width="0.9" stroke-linejoin="miter"/>
<path d="M159.5,1537.3 L177.4,1537.3 L153,1551.3 Z" fill="#000"/>
<path d="M153,1763.7 L177.4,1777.3 L159.5,1777.3 Z" fill="#fff" stroke="#000" stroke-width="0.9" stroke-linejoin="miter"/>
<path d="M159.5,1777.3 L177.4,1777.3 L153,1791.3 Z" fill="#000"/>
</g>
<g id="methodology">
<rect x="1126.00" y="323.00" width="1778.00" height="1646.00" fill="#fff" rx="40" stroke="#a626a6" stroke-width="1.7"/>
<path d="M1125,412 L1125,362 Q1125,322 1165,322 L2865,322 Q2905,322 2905,362 L2905,412 Z" fill="#990099"/>
<text transform="translate(2015.40,392.00) scale(0.9300,1)" font-family='"Liberation Sans", "DejaVu Sans", sans-serif' font-size="48" font-weight="bold" fill="#fff" text-anchor="middle" textLength="319.35" lengthAdjust="spacingAndGlyphs">Methodology</text>
<defs>
<radialGradient id="jet"><stop offset="0" stop-color="#7f0000"/><stop offset="0.2" stop-color="#e01000"/><stop offset="0.38" stop-color="#ff9a00"/><stop offset="0.5" stop-color="#f2f000"/><stop offset="0.62" stop-color="#50ffb0"/><stop offset="0.74" stop-color="#00b0ff"/><stop offset="0.87" stop-color="#0030e0"/><stop offset="1" stop-color="#000080"/></radialGradient>
<filter id="b1" x="-5%" y="-5%" width="110%" height="110%"><feGaussianBlur stdDeviation="0.45"/></filter>
<filter id="b3" x="-10%" y="-10%" width="120%" height="120%"><feGaussianBlur stdDeviation="2.3"/></filter>
<filter id="b6" x="-20%" y="-20%" width="140%" height="140%"><feGaussianBlur stdDeviation="6"/></filter>
<filter id="sh" x="-10%" y="-10%" width="125%" height="130%"><feGaussianBlur in="SourceAlpha" stdDeviation="2.2"/><feOffset dx="2" dy="2.5"/><feComponentTransfer><feFuncA type="linear" slope="0.38"/></feComponentTransfer><feMerge><feMergeNode/><feMergeNode in="SourceGraphic"/></feMerge></filter>
<filter id="tsh" x="-5%" y="-20%" width="112%" height="150%"><feGaussianBlur in="SourceAlpha" stdDeviation="1.4"/><feOffset dx="1.6" dy="1.8"/><feComponentTransfer><feFuncA type="linear" slope="0.45"/></feComponentTransfer><feMerge><feMergeNode/><feMergeNode in="SourceGraphic"/></feMerge></filter>
<filter id="rock" x="0" y="0" width="100%" height="100%"><feTurbulence type="fractalNoise" baseFrequency="0.045 0.03" numOctaves="4" seed="11" result="n"/><feColorMatrix in="n" type="matrix" values="0 0 0 0 0.36  0 0 0 0 0.22  0 0 0 0 0.14  2.3 0 0 0 -0.95" result="dark"/><feColorMatrix in="n" type="matrix" values="0 0 0 0 1  0 0 0 0 0.93  0 0 0 0 0.88  0 -2.0 0 0 0.76" result="light"/><feMerge><feMergeNode in="SourceGraphic"/><feMergeNode in="dark"/><feMergeNode in="light"/></feMerge></filter>
<clipPath id="c170"><rect width="170" height="170"/></clipPath>
<marker id="ah" viewBox="0 0 10 10" refX="8.5" refY="5" markerWidth="4.4" markerHeight="4.4" orient="auto-start-reverse"><path d="M0,0.5 L10,5 L0,9.5 Z" fill="#000"/></marker>
<marker id="ah3" viewBox="0 0 10 10" refX="8.5" refY="5" markerWidth="3.4" markerHeight="3.4" orient="auto-start-reverse"><path d="M0,0.5 L10,5 L0,9.5 Z" fill="#000"/></marker>
<marker id="ahr" viewBox="0 0 10 10" refX="8.5" refY="5" markerWidth="4.2" markerHeight="4.2" orient="auto-start-reverse"><path d="M0,0.5 L10,5 L0,9.5 Z" fill="#ff3300"/></marker>
<marker id="aho" viewBox="0 0 10 10" refX="8.5" refY="5" markerWidth="5" markerHeight="5" orient="auto-start-reverse"><path d="M0,0.5 L10,5 L0,9.5 Z" fill="#ee7d16"/></marker>
<marker id="ahy" viewBox="0 0 10 10" refX="8.5" refY="5" markerWidth="5" markerHeight="5" orient="auto-start-reverse"><path d="M0,0.5 L10,5 L0,9.5 Z" fill="#ffc000"/></marker>
<symbol id="climber" viewBox="0 0 170 170"><g clip-path="url(#c170)"><rect width="170" height="170" fill="#c79f80"/><g filter="url(#rock)"><g filter="url(#b3)"><polygon points="-5,-5 58,-5 62,55 74,115 100,175 -5,175" fill="#dfc3b3"/><ellipse cx="27" cy="55" rx="11" ry="52" fill="#efdcd2" opacity="0.85"/><ellipse cx="47" cy="40" rx="6" ry="40" fill="#cfa88f" opacity="0.8"/><polygon points="66,-5 120,-5 104,40 92,80 84,60" fill="#e2c3a2"/><polygon points="118,-5 175,-5 175,175 112,175 100,118 108,70 100,40" fill="#c28a58"/><ellipse cx="140" cy="55" rx="24" ry="28" fill="#aa6f3e" opacity="0.75"/><ellipse cx="132" cy="142" rx="26" ry="22" fill="#a86c3f" opacity="0.8"/><polygon points="152,86 175,78 175,150 158,146 140,128" fill="#d9bca4"/><polygon points="118,92 160,84 150,108 115,112" fill="#cfae98" opacity="0.8"/><ellipse cx="42" cy="138" rx="20" ry="30" fill="#b48462" opacity="0.8"/><ellipse cx="8" cy="150" rx="12" ry="28" fill="#9a6e52" opacity="0.8"/><ellipse cx="82" cy="150" rx="14" ry="26" fill="#cfa88c" opacity="0.8"/><ellipse cx="68" cy="18" rx="8" ry="14" fill="#a87650" opacity="0.7"/></g></g><g filter="url(#b1)"><path d="M38,62 l10,8 l-4,2 z" fill="#4a3326"/><path d="M86,74 L100,140 L108,170" stroke="#d9483d" stroke-width="1.1" fill="none"/><path d="M98,78 L108,82 L104,108 L98,122 L90,120 L92,96 Z" fill="#17171a"/><path d="M92,120 L98,122 L104,148 L100,150 Z" fill="#d9a084"/><path d="M98,147 l9,-4 l1,8 l-7,4 z" fill="#6b6a78"/><path d="M86,76 L104,74 L106,88 L84,100 L76,98 L74,88 Z" fill="#17171a"/><path d="M77,98 L84,100 L88,122 L82,124 Z" fill="#d9a084"/><path d="M78,120 l8,2 l2,10 l-4,2 z" fill="#6b6a78"/><path d="M84,66 L104,60 L108,74 L88,80 Z" fill="#b8242a"/><path d="M102,62 q8,2 6,18" stroke="#9a8fb5" stroke-width="3" fill="none"/><path d="M96,92 l8,4" stroke="#e05a40" stroke-width="2.4"/><path d="M78,44 L90,40 L97,58 L98,64 L84,70 L74,58 Z" fill="#d0161f"/><path d="M83,66 L99,60" stroke="#2a1518" stroke-width="2.2"/><path d="M84,44 L68,50 L52,46 L42,38" stroke="#dfa689" stroke-width="4.6" fill="none" stroke-linecap="round" stroke-linejoin="round"/><path d="M76,56 L70,68 L59,70" stroke="#d39a7e" stroke-width="4.2" fill="none" stroke-linecap="round" stroke-linejoin="round"/><ellipse cx="72" cy="33" rx="7.6" ry="8.6" fill="#dca587" transform="rotate(-18 72 33)"/><path d="M61,30 q4,-9 12,-7 q8,3 7,14 q-4,-9 -11,-9 q-5,0 -8,2 z" fill="#b08058"/></g><rect width="170" height="170" fill="#402018" opacity="0.06"/></g></symbol>
</defs>
<text x="1184.00" y="483.00" font-family='"Liberation Sans", "DejaVu Sans", sans-serif' font-size="40.8" font-weight="bold" fill="#990099" textLength="1211.20" lengthAdjust="spacingAndGlyphs">A: Overview of our test-time fast adaptation method: MeTTA</text>
<text x="1186.50" y="1387.10" font-family='"Liberation Sans", "DejaVu Sans", sans-serif' font-size="40.8" font-weight="bold" fill="#990099" textLength="655.40" lengthAdjust="spacingAndGlyphs">B: Body-specific image inpainting</text>
<text x="1973.80" y="1387.10" font-family='"Liberation Sans", "DejaVu Sans", sans-serif' font-size="40.8" font-weight="bold" fill="#990099" textLength="525.40" lengthAdjust="spacingAndGlyphs">C: Meta-auxiliary learning:</text>
<g id="fig-a">
<rect x="1178.40" y="537.20" width="997.40" height="276.80" fill="#f2dcdb" rx="32" stroke="#e6b9b8" stroke-width="5" filter="url(#sh)"/>
<rect x="1845.00" y="530.00" width="297.00" height="8.00" fill="#fff"/>
<rect x="1845.00" y="537.20" width="297.00" height="6.00" fill="#f2dcdb"/>
<text x="1855.00" y="544.80" font-family='"Liberation Sans", "DejaVu Sans", sans-serif' font-size="37.5" font-weight="bold" fill="#943634" textLength="278.50" lengthAdjust="spacingAndGlyphs" filter="url(#tsh)">Primary network</text>
<text x="1298.00" y="579.90" font-family='"Liberation Sans", "DejaVu Sans", sans-serif' font-size="20.5" text-anchor="middle" textLength="118.30" lengthAdjust="spacingAndGlyphs" stroke="#000" stroke-width="0.6" >Input image</text>
<use href="#climber" x="1215.6" y="588.9" width="169.8" height="169.2"/>
<line x1="1385.40" y1="673.40" x2="1408.00" y2="673.40" stroke="#000" stroke-width="2" marker-end="url(#ah)"/>
<path d="M1410.5,631.9 L1457.4,584.5 L1472.5,584.5 L1425.6,631.9 Z" fill="#ece9f1" stroke="#8497b0" stroke-width="1.6" stroke-linejoin="round"/>
<path d="M1425.6,631.9 L1472.5,584.5 L1472.5,714.4 L1425.6,761.8 Z" fill="#ece9f1" stroke="#8497b0" stroke-width="1.6" stroke-linejoin="round"/>
<rect x="1410.50" y="631.90" width="15.10" height="129.90" fill="#ece9f1" stroke="#8497b0" stroke-width="1.6"/>
<path d="M1441.8,640.1 L1477.7,605.0 L1509.7,605.0 L1473.8,640.1 Z" fill="#ece9f1" stroke="#8497b0" stroke-width="1.6" stroke-linejoin="round"/>
<path d="M1473.8,640.1 L1509.7,605.0 L1509.7,703.6 L1473.8,738.7 Z" fill="#ece9f1" stroke="#8497b0" stroke-width="1.6" stroke-linejoin="round"/>
<rect x="1441.80" y="640.10" width="32.00" height="98.60" fill="#ece9f1" stroke="#8497b0" stroke-width="1.6"/>
<circle cx="1497.5" cy="673.6" r="1.7" fill="#000"/>
<circle cx="1505.2" cy="673.6" r="1.7" fill="#000"/>
<circle cx="1512.9" cy="673.6" r="1.7" fill="#000"/>
<path d="M1519.1,640.1 L1554.6999999999998,605.0 L1586.9999999999998,605.0 L1551.3999999999999,640.1 Z" fill="#ece9f1" stroke="#8497b0" stroke-width="1.6" stroke-linejoin="round"/>
<path d="M1551.3999999999999,640.1 L1586.9999999999998,605.0 L1586.9999999999998,703.6 L1551.3999999999999,738.7 Z" fill="#ece9f1" stroke="#8497b0" stroke-width="1.6" stroke-linejoin="round"/>
<rect x="1519.10" y="640.10" width="32.30" height="98.60" fill="#ece9f1" stroke="#8497b0" stroke-width="1.6"/>
<rect x="1603.80" y="576.20" width="321.60" height="194.00" fill="#f9cbad" rx="14" stroke="#dd8f55" stroke-width="3.2" filter="url(#sh)"/>
<line x1="1587.00" y1="673.40" x2="1621.50" y2="673.40" stroke="#000" stroke-width="2" marker-end="url(#ah)"/>
<rect x="1622.60" y="588.30" width="35.90" height="169.80" fill="#fdeada" rx="17.9" stroke="#000" stroke-width="2.2"/>
<text transform="translate(1633.2,673.2) rotate(90)" font-family='"Liberation Sans", "DejaVu Sans", sans-serif' font-size="21" text-anchor="middle" textLength="122" lengthAdjust="spacingAndGlyphs" stroke="#000" stroke-width="0.35">Shared conv</text>
<line x1="1658.50" y1="627.20" x2="1690.00" y2="627.20" stroke="#000" stroke-width="2" marker-end="url(#ah)"/>
<rect x="1691.10" y="603.80" width="199.10" height="46.20" fill="#fdeada" rx="12" stroke="#000" stroke-width="2.2"/>
<text x="1790.80" y="633.70" font-family='"Liberation Sans", "DejaVu Sans", sans-serif' font-size="20.5" text-anchor="middle" textLength="161.00" lengthAdjust="spacingAndGlyphs" stroke="#000" stroke-width="0.6" >Regression head</text>
<line x1="1658.50" y1="725.00" x2="1674.50" y2="725.00" stroke="#000" stroke-width="2" marker-end="url(#ah)"/>
<rect x="1675.60" y="707.90" width="78.30" height="34.50" fill="#fdeada" rx="17.2" stroke="#000" stroke-width="2.2"/>
<text x="1715.00" y="732.30" font-family='"Liberation Sans", "DejaVu Sans", sans-serif' font-size="20.5" text-anchor="middle" textLength="49.00" lengthAdjust="spacingAndGlyphs" stroke="#000" stroke-width="0.6" >Conv</text>
<line x1="1753.90" y1="725.00" x2="1770.00" y2="725.00" stroke="#000" stroke-width="2" marker-end="url(#ah)"/>
<rect x="1771.20" y="692.10" width="136.20" height="66.00" fill="none" rx="14" stroke="#000" stroke-width="2.2" stroke-dasharray="19 8.5"/>
<text x="1839.40" y="718.70" font-family='"Liberation Sans", "DejaVu Sans", sans-serif' font-size="20.5" text-anchor="middle" textLength="89.00" lengthAdjust="spacingAndGlyphs" stroke="#000" stroke-width="0.6" >Heatmap</text>
<text x="1839.40" y="744.60" font-family='"Liberation Sans", "DejaVu Sans", sans-serif' font-size="20.5" text-anchor="middle" textLength="104.00" lengthAdjust="spacingAndGlyphs" stroke="#000" stroke-width="0.6" >bottleneck</text>
<text x="1684.80" y="791.30" font-family='"Liberation Sans", "DejaVu Sans", sans-serif' font-size="18.6" fill="#c55a11" text-anchor="middle" textLength="278.20" lengthAdjust="spacingAndGlyphs">Module related to meta-learning</text>
<text x="1915.0" y="611.5" font-family='"DejaVu Sans","DejaVu Serif",sans-serif' font-size="24">ℒ<tspan font-family='"Liberation Serif", "DejaVu Serif", serif' font-style="italic" font-size="14.5" dy="2.9" dx="1">pri</tspan></text>
<path d="M1908,627.7 L1921.5,620.7 L1921.5,624.5 L1953.5,624.5 L1953.5,620.7 L1967,627.7 L1953.5,634.7 L1953.5,630.9 L1921.5,630.9 L1921.5,634.7 Z" fill="#ff0000"/>
<rect x="1998.10" y="588.60" width="148.60" height="148.60" fill="#000080" stroke="#fff" stroke-width="1.2"/>
<rect x="1987.60" y="599.00" width="148.60" height="148.60" fill="#000080" stroke="#fff" stroke-width="1.2"/>
<rect x="1977.20" y="609.50" width="148.60" height="148.60" fill="#000080" stroke="#fff" stroke-width="1.2"/>
<circle cx="2047.3" cy="679.3" r="11" fill="url(#jet)"/>
<text x="2065.20" y="783.40" font-family='"Liberation Sans", "DejaVu Sans", sans-serif' font-size="20.5" text-anchor="middle" textLength="128.30" lengthAdjust="spacingAndGlyphs" stroke="#000" stroke-width="0.6" >Ground truth</text>
<rect x="1178.60" y="840.60" width="756.00" height="417.00" fill="#daeef3" rx="30" stroke="#93cddd" stroke-width="5" filter="url(#sh)"/>
<rect x="1400.00" y="1252.00" width="316.00" height="18.00" fill="#fff"/>
<rect x="1400.00" y="1250.00" width="316.00" height="7.60" fill="#daeef3"/>
<path d="M1936.4,639 L1936.4,828 L1391.7,828 L1391.7,905" fill="none" stroke="#ff3300" stroke-width="2.2" stroke-dasharray="4.5 3" marker-end="url(#ahr)"/>
<line x1="1257.80" y1="758.00" x2="1257.80" y2="938.50" stroke="#000" stroke-width="2" />
<line x1="1257.80" y1="962.50" x2="1257.80" y2="1050.50" stroke="#000" stroke-width="2" marker-end="url(#ah)"/>
<circle cx="1257.8" cy="950.5" r="12" fill="#f2f2f2" stroke="#000" stroke-width="2"/>
<line x1="1251.60" y1="944.30" x2="1264.00" y2="956.70" stroke="#000" stroke-width="2" />
<line x1="1264.00" y1="944.30" x2="1251.60" y2="956.70" stroke="#000" stroke-width="2" />
<rect x="1297.30" y="912.00" width="188.90" height="76.80" fill="#b7dee8" rx="20" stroke="#31859c" stroke-width="3" filter="url(#sh)"/>
<text x="1391.70" y="945.20" font-family='"Liberation Sans", "DejaVu Sans", sans-serif' font-size="21.5" text-anchor="middle" textLength="134.50" lengthAdjust="spacingAndGlyphs" stroke="#000" stroke-width="0.6" >Body-specific</text>
<text x="1391.70" y="971.40" font-family='"Liberation Sans", "DejaVu Sans", sans-serif' font-size="21.5" text-anchor="middle" textLength="164.50" lengthAdjust="spacingAndGlyphs" stroke="#000" stroke-width="0.6" >mask generation</text>
<line x1="1297.30" y1="950.50" x2="1271.50" y2="950.50" stroke="#000" stroke-width="2" marker-end="url(#ah)"/>
<rect x="1536.30" y="864.40" width="148.50" height="148.50" fill="#000080" stroke="#fff" stroke-width="1.2"/>
<rect x="1532.10" y="868.60" width="148.50" height="148.50" fill="#000080" stroke="#fff" stroke-width="1.2"/>
<rect x="1527.90" y="872.80" width="148.50" height="148.50" fill="#000080" stroke="#fff" stroke-width="1.2"/>
<rect x="1523.70" y="877.00" width="148.50" height="148.50" fill="#000080" stroke="#fff" stroke-width="1.2"/>
<rect x="1519.50" y="881.20" width="148.50" height="148.50" fill="#000080" stroke="#fff" stroke-width="1.2"/>
<rect x="1515.30" y="885.40" width="148.50" height="148.50" fill="#000080" stroke="#fff" stroke-width="1.2"/>
<circle cx="1585.1" cy="955.2" r="10.5" fill="url(#jet)"/>
<path d="M1843.3,758.5 L1843.3,898 Q1843.3,933 1808,933 L1686.5,933" fill="none" stroke="#000" stroke-width="2" marker-end="url(#ah)"/>
<text x="1542.50" y="1069.50" font-family='"Liberation Sans", "DejaVu Sans", sans-serif' font-size="17" text-anchor="middle" textLength="112.60" lengthAdjust="spacingAndGlyphs" stroke="#000" stroke-width="0.6" >Pose encoding</text>
<line x1="1610.10" y1="1033.50" x2="1610.10" y2="1111.00" stroke="#000" stroke-width="2" marker-end="url(#ah)"/>
<text x="1692.5" y="1001.7" font-family='"DejaVu Sans","DejaVu Serif",sans-serif' font-size="26">ℒ<tspan font-family='"Liberation Serif", "DejaVu Serif", serif' font-style="italic" font-size="15" dy="3.1" dx="1">aux</tspan></text>
<text x="1741.00" y="1001.70" font-family='"Liberation Serif", "DejaVu Serif", serif' font-size="26">=</text>
<text x="1767.0" y="1001.7" font-family='"DejaVu Sans","DejaVu Serif",sans-serif' font-size="26">ℒ<tspan font-family='"Liberation Serif", "DejaVu Serif", serif' font-style="italic" font-size="15" dy="3.1" dx="1">local</tspan></text>
<text x="1825.00" y="1001.70" font-family='"Liberation Serif", "DejaVu Serif", serif' font-size="26">+</text>
<text x="1848.00" y="1001.70" font-family='"Liberation Serif", "DejaVu Serif", serif' font-size="25" font-style="italic">λ</text>
<text x="1861.0" y="1001.7" font-family='"DejaVu Sans","DejaVu Serif",sans-serif' font-size="26">ℒ<tspan font-family='"Liberation Serif", "DejaVu Serif", serif' font-style="italic" font-size="15" dy="3.1" dx="1">global</tspan></text>
<line x1="1766.80" y1="1008.30" x2="1819.00" y2="1008.30" stroke="#ee7d16" stroke-width="2.2" />
<line x1="1865.70" y1="1008.30" x2="1922.30" y2="1008.30" stroke="#ffc000" stroke-width="2.2" />
<use href="#climber" x="1215.3" y="1052.9" width="169.6" height="168.8"/>
<rect x="1257.70" y="1065.10" width="50.90" height="50.80" fill="#fff"/>
<text x="1300.70" y="1242.70" font-family='"Liberation Sans", "DejaVu Sans", sans-serif' font-size="21.5" text-anchor="middle" textLength="142.60" lengthAdjust="spacingAndGlyphs" stroke="#000" stroke-width="0.6" >Masked image</text>
<line x1="1385.20" y1="1136.90" x2="1405.50" y2="1136.90" stroke="#000" stroke-width="2.6" marker-end="url(#ah)"/>
<path d="M1407.1,1093.3 L1442.6,1101.4 L1442.6,1172.4 L1407.1,1180.5 Z" fill="#b7dee8" stroke="#31859c" stroke-width="2" filter="url(#sh)"/>
<line x1="1443.50" y1="1136.90" x2="1460.00" y2="1136.90" stroke="#000" stroke-width="2.6" marker-end="url(#ah)"/>
<path d="M1462,1126.8 L1474,1114.8 L1538.2,1114.8 L1526.2,1126.8 Z" fill="#ece9f1" stroke="#8497b0" stroke-width="1.6" stroke-linejoin="round"/>
<path d="M1526.2,1126.8 L1538.2,1114.8 L1538.2,1147.1 L1526.2,1159.1 Z" fill="#ece9f1" stroke="#8497b0" stroke-width="1.6" stroke-linejoin="round"/>
<rect x="1462.00" y="1126.80" width="64.20" height="32.30" fill="#ece9f1" stroke="#8497b0" stroke-width="1.6"/>
<circle cx="1554.4" cy="1136.9" r="12" fill="#f2f2f2" stroke="#000" stroke-width="2"/>
<line x1="1546.40" y1="1136.90" x2="1562.40" y2="1136.90" stroke="#000" stroke-width="2" />
<line x1="1554.40" y1="1128.90" x2="1554.40" y2="1144.90" stroke="#000" stroke-width="2" />
<path d="M1571,1126.8 L1583,1114.8 L1647.6,1114.8 L1635.6,1126.8 Z" fill="#ece9f1" stroke="#8497b0" stroke-width="1.6" stroke-linejoin="round"/>
<path d="M1635.6,1126.8 L1647.6,1114.8 L1647.6,1147.1 L1635.6,1159.1 Z" fill="#ece9f1" stroke="#8497b0" stroke-width="1.6" stroke-linejoin="round"/>
<rect x="1571.00" y="1126.80" width="64.60" height="32.30" fill="#ece9f1" stroke="#8497b0" stroke-width="1.6"/>
<line x1="1648.00" y1="1136.90" x2="1664.50" y2="1136.90" stroke="#000" stroke-width="2.6" marker-end="url(#ah)"/>
<path d="M1666.7,1101.4 L1702.2,1093.3 L1702.2,1180.5 L1666.7,1172.4 Z" fill="#b7dee8" stroke="#31859c" stroke-width="2" filter="url(#sh)"/>
<line x1="1703.30" y1="1136.90" x2="1721.00" y2="1136.90" stroke="#000" stroke-width="2.6" marker-end="url(#ah)"/>
<use href="#climber" x="1723" y="1053" width="170" height="169"/>
<rect x="1723.00" y="1053.00" width="170.00" height="169.00" fill="none" stroke="#ffc000" stroke-width="3"/>
<rect x="1764.40" y="1064.20" width="52.80" height="53.30" fill="none" stroke="#e46c0a" stroke-width="2"/>
<text x="1808.00" y="1242.70" font-family='"Liberation Sans", "DejaVu Sans", sans-serif' font-size="21.5" text-anchor="middle" textLength="147.00" lengthAdjust="spacingAndGlyphs" stroke="#000" stroke-width="0.6" >Reconstruction</text>
<path d="M1782,1064 Q1776,1030 1790,1011" fill="none" stroke="#ee7d16" stroke-width="1.8" marker-end="url(#aho)"/>
<path d="M1894,1131 Q1932,1100 1906,1011" fill="none" stroke="#ffc000" stroke-width="1.8" marker-end="url(#ahy)"/>
<text x="1410.30" y="1264.10" font-family='"Liberation Sans", "DejaVu Sans", sans-serif' font-size="35.5" font-weight="bold" fill="#31859c" textLength="296.70" lengthAdjust="spacingAndGlyphs" filter="url(#tsh)">Auxiliary network</text>
<text x="1661.00" y="1297.60" font-family='"Liberation Sans", "DejaVu Sans", sans-serif' font-size="22.5" text-anchor="middle" textLength="384.40" lengthAdjust="spacingAndGlyphs" stroke="#000" stroke-width="0.6" >(a) The Network Structure of MeTTA</text>
<rect x="1951.30" y="935.90" width="220.00" height="218.00" fill="#fff2cc" rx="22" filter="url(#sh)"/>
<line x1="1986.00" y1="970.60" x2="1973.00" y2="970.60" stroke="#ff3300" stroke-width="2.4" stroke-dasharray="4.5 2.5"/>
<path d="M1965,970.6 L1974.5,966 L1974.5,975.2 Z" fill="#ff3300"/>
<text x="1992.50" y="975.30" font-family='"Liberation Sans", "DejaVu Sans", sans-serif' font-size="15.3" font-weight="bold" textLength="163.50" lengthAdjust="spacingAndGlyphs">Sample from heatmaps</text>
<circle cx="1974.7" cy="1006.5" r="9.6" fill="#efefef" stroke="#000" stroke-width="2.7"/>
<line x1="1970.20" y1="1002.00" x2="1979.20" y2="1011.00" stroke="#000" stroke-width="2.6" />
<line x1="1979.20" y1="1002.00" x2="1970.20" y2="1011.00" stroke="#000" stroke-width="2.6" />
<circle cx="1974.7" cy="1042.8" r="9.6" fill="#efefef" stroke="#000" stroke-width="2.7"/>
<line x1="1968.40" y1="1042.80" x2="1981.00" y2="1042.80" stroke="#000" stroke-width="2.6" />
<line x1="1974.70" y1="1036.50" x2="1974.70" y2="1049.10" stroke="#000" stroke-width="2.6" />
<text x="1992.50" y="1011.30" font-family='"Liberation Sans", "DejaVu Sans", sans-serif' font-size="15.3" font-weight="bold" textLength="158.00" lengthAdjust="spacingAndGlyphs">Element multiplication</text>
<text x="1992.50" y="1046.80" font-family='"Liberation Sans", "DejaVu Sans", sans-serif' font-size="15.3" font-weight="bold" textLength="102.00" lengthAdjust="spacingAndGlyphs">Concatenation</text>
<path d="M1967.5,1068.3 L1982.8,1071.5 L1982.8,1087 L1967.5,1089.8 Z" fill="#b7dee8" stroke="#31859c" stroke-width="1.6"/>
<text x="1992.50" y="1082.30" font-family='"Liberation Sans", "DejaVu Sans", sans-serif' font-size="15.3" font-weight="bold" textLength="164.00" lengthAdjust="spacingAndGlyphs">Masked image encoder</text>
<path d="M1967.5,1106 L1982.8,1102.6 L1982.8,1124.8 L1967.5,1121.5 Z" fill="#b7dee8" stroke="#31859c" stroke-width="1.6"/>
<text x="1992.50" y="1117.40" font-family='"Liberation Sans", "DejaVu Sans", sans-serif' font-size="15.3" font-weight="bold" textLength="158.00" lengthAdjust="spacingAndGlyphs">Target image renderer</text>
</g>
<g id="fig-b">
<linearGradient id="skyg" x1="0" y1="0" x2="0.25" y2="1"><stop offset="0" stop-color="#303c64"/><stop offset="0.45" stop-color="#465c8a"/><stop offset="0.7" stop-color="#6886ae"/><stop offset="0.85" stop-color="#4a6692"/><stop offset="1" stop-color="#34507e"/></linearGradient>
<radialGradient id="jet2"><stop offset="0" stop-color="#c01000"/><stop offset="0.3" stop-color="#ff7000"/><stop offset="0.5" stop-color="#e8f000"/><stop offset="0.7" stop-color="#30e8c0"/><stop offset="0.88" stop-color="#2070ff" stop-opacity="0.8"/><stop offset="1" stop-color="#2c2f96" stop-opacity="0"/></radialGradient>
<line x1="2189.70" y1="519.00" x2="2189.70" y2="1299.00" stroke="#000" stroke-width="1.6" stroke-dasharray="16 7.5"/>
<line x1="2189.70" y1="976.80" x2="2858.50" y2="976.80" stroke="#000" stroke-width="1.6" stroke-dasharray="16 7.5"/>
<rect x="2202.00" y="527.70" width="651.00" height="195.20" fill="#f2f2f2" rx="56" filter="url(#sh)"/>
<text x="2244.60" y="536.60" font-family='"Liberation Sans", "DejaVu Sans", sans-serif' font-size="20.6" font-weight="bold" textLength="270.60" lengthAdjust="spacingAndGlyphs" filter="url(#tsh)">During the training phase</text>
<path d="M2232.6,685.6 L2331.1,685.6 L2385.6,646.6 L2287.1,646.6 Z" fill="#2c2f96" stroke="#3b3fae" stroke-width="0.6"/>
<path d="M2282.6,673.6 L2307.6,665.6 L2332.6,655.6 M2298.6,659.6 L2314.6,673.6" fill="none" stroke="#5a4a9a" stroke-width="2.2" opacity="0.7"/>
<ellipse cx="2320.6" cy="663.6" rx="13.5" ry="5.6" fill="url(#jet2)"/>
<line x1="2232.60" y1="606.60" x2="2232.60" y2="685.60" stroke="#333" stroke-width="0.9" stroke-dasharray="3 2"/>
<line x1="2331.10" y1="606.60" x2="2331.10" y2="685.60" stroke="#333" stroke-width="0.9" stroke-dasharray="3 2"/>
<line x1="2385.60" y1="567.60" x2="2385.60" y2="646.60" stroke="#333" stroke-width="0.9" stroke-dasharray="3 2"/>
<line x1="2287.10" y1="633.60" x2="2287.10" y2="646.60" stroke="#333" stroke-width="0.9" stroke-dasharray="3 2"/>
<path d="M2232.6,633.6 L2331.1,633.6 L2385.6,594.6 L2287.1,594.6 Z" fill="#2c2f96" stroke="#3b3fae" stroke-width="0.6"/>
<path d="M2282.6,621.6 L2307.6,613.6 L2332.6,603.6 M2298.6,607.6 L2314.6,621.6" fill="none" stroke="#5a4a9a" stroke-width="2.2" opacity="0.7"/>
<path d="M2232.6,620.1 L2331.1,620.1 L2385.6,581.1 L2287.1,581.1 Z" fill="#2c2f96" stroke="#3b3fae" stroke-width="0.6"/>
<path d="M2282.6,608.1 L2307.6,600.1 L2332.6,590.1 M2298.6,594.1 L2314.6,608.1" fill="none" stroke="#5a4a9a" stroke-width="2.2" opacity="0.7"/>
<path d="M2232.6,606.6 L2331.1,606.6 L2385.6,567.6 L2287.1,567.6 Z" fill="#2c2f96" stroke="#3b3fae" stroke-width="0.6"/>
<path d="M2282.6,594.6 L2307.6,586.6 L2332.6,576.6 M2298.6,580.6 L2314.6,594.6" fill="none" stroke="#5a4a9a" stroke-width="2.2" opacity="0.7"/>
<ellipse cx="2306.6" cy="576.6" rx="13.5" ry="5.6" fill="url(#jet2)"/>
<circle cx="2309.1" cy="637.6" r="0.9" fill="#000"/>
<circle cx="2309.1" cy="642.6" r="0.9" fill="#000"/>
<circle cx="2309.1" cy="647.6" r="0.9" fill="#000"/>
<path d="M2411.2,618.5 L2442.7,618.5 L2442.7,610.4 L2459.7,625.9 L2442.7,641.4 L2442.7,633.3 L2411.2,633.3 Z" fill="#92cddc" filter="url(#sh)"/>
<text x="2436.60" y="660.80" font-family='"Liberation Sans", "DejaVu Sans", sans-serif' font-size="18.6" text-anchor="middle" textLength="87.40" lengthAdjust="spacingAndGlyphs" stroke="#000" stroke-width="0.6" >Likelihood</text>
<path d="M2477.4,603.6 L2554.9,568.6 L2632.4,603.6 L2632.4,637.6 L2554.9,602.6 L2477.4,637.6 Z" fill="#fff" stroke="#8a8a8a" stroke-width="0.7"/>
<line x1="2490.32" y1="597.77" x2="2490.32" y2="631.77" stroke="#aaa" stroke-width="0.55" />
<line x1="2567.82" y1="574.43" x2="2567.82" y2="608.43" stroke="#aaa" stroke-width="0.55" />
<line x1="2503.23" y1="591.93" x2="2503.23" y2="625.93" stroke="#aaa" stroke-width="0.55" />
<line x1="2580.73" y1="580.27" x2="2580.73" y2="614.27" stroke="#aaa" stroke-width="0.55" />
<line x1="2516.15" y1="586.10" x2="2516.15" y2="620.10" stroke="#aaa" stroke-width="0.55" />
<line x1="2593.65" y1="586.10" x2="2593.65" y2="620.10" stroke="#aaa" stroke-width="0.55" />
<line x1="2529.07" y1="580.27" x2="2529.07" y2="614.27" stroke="#aaa" stroke-width="0.55" />
<line x1="2606.57" y1="591.93" x2="2606.57" y2="625.93" stroke="#aaa" stroke-width="0.55" />
<line x1="2541.98" y1="574.43" x2="2541.98" y2="608.43" stroke="#aaa" stroke-width="0.55" />
<line x1="2619.48" y1="597.77" x2="2619.48" y2="631.77" stroke="#aaa" stroke-width="0.55" />
<path d="M2477.4,614.9 L2554.9,579.9 L2632.4,614.9" fill="none" stroke="#aaa" stroke-width="0.55"/>
<path d="M2477.4,626.2 L2554.9,591.2 L2632.4,626.2" fill="none" stroke="#aaa" stroke-width="0.55"/>
<line x1="2554.90" y1="568.60" x2="2554.90" y2="602.60" stroke="#8a8a8a" stroke-width="0.7" />
<path d="M2477.4,637.6 L2554.9,602.6 L2632.4,637.6 L2554.9,683.1 Z" fill="#8426f2" stroke="#444" stroke-width="0.9"/>
<clipPath id="dc0"><path d="M2474.4,637.6 L2474.4,567.6 L2635.4,567.6 L2635.4,637.6 L2554.9,683.6 Z"/></clipPath>
<g clip-path="url(#dc0)">
<g filter="url(#b3)">
<ellipse cx="2558.4" cy="637.6" rx="50" ry="22" fill="#30b8f8" opacity="0.95"/>
<ellipse cx="2556.4" cy="639.6" rx="40" ry="17" fill="#38d8e0" opacity="0.95"/>
<ellipse cx="2586.4" cy="647.6" rx="22" ry="12" fill="#38d8e0" opacity="0.9"/>
<ellipse cx="2536.4" cy="647.6" rx="22" ry="10" fill="#38d8e0" opacity="0.9"/>
</g>
<g filter="url(#b1)">
<ellipse cx="2547.3" cy="624.6" rx="10.5" ry="4.4" fill="#38e0c8"/>
<ellipse cx="2547.3" cy="622.5" rx="9.5" ry="4.0" fill="#86f080"/>
<ellipse cx="2547.3" cy="620.5" rx="8.6" ry="3.7" fill="#e0e848"/>
<ellipse cx="2547.3" cy="618.4" rx="7.6" ry="3.3" fill="#ffa028"/>
<ellipse cx="2547.3" cy="616.4" rx="6.6" ry="2.9" fill="#ff6424"/>
<ellipse cx="2547.3" cy="614.3" rx="5.6" ry="2.5" fill="#f23a18"/>
<ellipse cx="2547.3" cy="612.3" rx="4.6" ry="2.1" fill="#e82a10"/>
<ellipse cx="2553.3" cy="626.4" rx="10.0" ry="4.2" fill="#38e0c8"/>
<ellipse cx="2553.3" cy="624.6" rx="9.1" ry="3.8" fill="#86f080"/>
<ellipse cx="2553.3" cy="622.8" rx="8.1" ry="3.5" fill="#e0e848"/>
<ellipse cx="2553.3" cy="621.0" rx="7.2" ry="3.1" fill="#ffa028"/>
<ellipse cx="2553.3" cy="619.2" rx="6.3" ry="2.8" fill="#ff6424"/>
<ellipse cx="2553.3" cy="617.4" rx="5.4" ry="2.4" fill="#f23a18"/>
<ellipse cx="2553.3" cy="615.6" rx="4.4" ry="2.0" fill="#e82a10"/>
<ellipse cx="2584.6" cy="630.0" rx="10.5" ry="4.4" fill="#38e0c8"/>
<ellipse cx="2584.6" cy="628.2" rx="9.5" ry="4.0" fill="#86f080"/>
<ellipse cx="2584.6" cy="626.4" rx="8.6" ry="3.7" fill="#e0e848"/>
<ellipse cx="2584.6" cy="624.6" rx="7.6" ry="3.3" fill="#ffa028"/>
<ellipse cx="2584.6" cy="622.8" rx="6.6" ry="2.9" fill="#ff6424"/>
<ellipse cx="2584.6" cy="621.0" rx="5.6" ry="2.5" fill="#f23a18"/>
<ellipse cx="2584.6" cy="619.2" rx="4.6" ry="2.1" fill="#e82a10"/>
<ellipse cx="2556.9" cy="631.5" rx="10.0" ry="4.2" fill="#38e0c8"/>
<ellipse cx="2556.9" cy="629.8" rx="9.1" ry="3.8" fill="#86f080"/>
<ellipse cx="2556.9" cy="628.2" rx="8.1" ry="3.5" fill="#e0e848"/>
<ellipse cx="2556.9" cy="626.5" rx="7.2" ry="3.1" fill="#ffa028"/>
<ellipse cx="2556.9" cy="624.8" rx="6.3" ry="2.8" fill="#ff6424"/>
<ellipse cx="2556.9" cy="623.1" rx="5.4" ry="2.4" fill="#f23a18"/>
<ellipse cx="2556.9" cy="621.5" rx="4.4" ry="2.0" fill="#e82a10"/>
<ellipse cx="2524.5" cy="633.9" rx="10.5" ry="4.4" fill="#38e0c8"/>
<ellipse cx="2524.5" cy="632.2" rx="9.5" ry="4.0" fill="#86f080"/>
<ellipse cx="2524.5" cy="630.6" rx="8.6" ry="3.7" fill="#e0e848"/>
<ellipse cx="2524.5" cy="628.9" rx="7.6" ry="3.3" fill="#ffa028"/>
<ellipse cx="2524.5" cy="627.2" rx="6.6" ry="2.9" fill="#ff6424"/>
<ellipse cx="2524.5" cy="625.5" rx="5.6" ry="2.5" fill="#f23a18"/>
<ellipse cx="2524.5" cy="623.9" rx="4.6" ry="2.1" fill="#e82a10"/>
<ellipse cx="2581.0" cy="635.4" rx="10.0" ry="4.2" fill="#38e0c8"/>
<ellipse cx="2581.0" cy="633.9" rx="9.1" ry="3.8" fill="#86f080"/>
<ellipse cx="2581.0" cy="632.3" rx="8.1" ry="3.5" fill="#e0e848"/>
<ellipse cx="2581.0" cy="630.8" rx="7.2" ry="3.1" fill="#ffa028"/>
<ellipse cx="2581.0" cy="629.2" rx="6.3" ry="2.8" fill="#ff6424"/>
<ellipse cx="2581.0" cy="627.7" rx="5.4" ry="2.4" fill="#f23a18"/>
<ellipse cx="2581.0" cy="626.1" rx="4.4" ry="2.0" fill="#e82a10"/>
<ellipse cx="2534.1" cy="637.8" rx="10.0" ry="4.2" fill="#38e0c8"/>
<ellipse cx="2534.1" cy="636.3" rx="9.1" ry="3.8" fill="#86f080"/>
<ellipse cx="2534.1" cy="634.7" rx="8.1" ry="3.5" fill="#e0e848"/>
<ellipse cx="2534.1" cy="633.2" rx="7.2" ry="3.1" fill="#ffa028"/>
<ellipse cx="2534.1" cy="631.6" rx="6.3" ry="2.8" fill="#ff6424"/>
<ellipse cx="2534.1" cy="630.1" rx="5.4" ry="2.4" fill="#f23a18"/>
<ellipse cx="2534.1" cy="628.5" rx="4.4" ry="2.0" fill="#e82a10"/>
<ellipse cx="2558.1" cy="642.6" rx="10.0" ry="4.2" fill="#38e0c8"/>
<ellipse cx="2558.1" cy="641.1" rx="9.1" ry="3.8" fill="#86f080"/>
<ellipse cx="2558.1" cy="639.5" rx="8.1" ry="3.5" fill="#e0e848"/>
<ellipse cx="2558.1" cy="638.0" rx="7.2" ry="3.1" fill="#ffa028"/>
<ellipse cx="2558.1" cy="636.4" rx="6.3" ry="2.8" fill="#ff6424"/>
<ellipse cx="2558.1" cy="634.9" rx="5.4" ry="2.4" fill="#f23a18"/>
<ellipse cx="2558.1" cy="633.3" rx="4.4" ry="2.0" fill="#e82a10"/>
<ellipse cx="2570.2" cy="645.0" rx="10.0" ry="4.2" fill="#38e0c8"/>
<ellipse cx="2570.2" cy="643.5" rx="9.1" ry="3.8" fill="#86f080"/>
<ellipse cx="2570.2" cy="641.9" rx="8.1" ry="3.5" fill="#e0e848"/>
<ellipse cx="2570.2" cy="640.4" rx="7.2" ry="3.1" fill="#ffa028"/>
<ellipse cx="2570.2" cy="638.8" rx="6.3" ry="2.8" fill="#ff6424"/>
<ellipse cx="2570.2" cy="637.3" rx="5.4" ry="2.4" fill="#f23a18"/>
<ellipse cx="2570.2" cy="635.7" rx="4.4" ry="2.0" fill="#e82a10"/>
<ellipse cx="2585.8" cy="646.2" rx="10.0" ry="4.2" fill="#38e0c8"/>
<ellipse cx="2585.8" cy="644.7" rx="9.1" ry="3.8" fill="#86f080"/>
<ellipse cx="2585.8" cy="643.1" rx="8.1" ry="3.5" fill="#e0e848"/>
<ellipse cx="2585.8" cy="641.6" rx="7.2" ry="3.1" fill="#ffa028"/>
<ellipse cx="2585.8" cy="640.0" rx="6.3" ry="2.8" fill="#ff6424"/>
<ellipse cx="2585.8" cy="638.5" rx="5.4" ry="2.4" fill="#f23a18"/>
<ellipse cx="2585.8" cy="636.9" rx="4.4" ry="2.0" fill="#e82a10"/>
<ellipse cx="2544.9" cy="650.7" rx="10.5" ry="4.4" fill="#38e0c8"/>
<ellipse cx="2544.9" cy="649.0" rx="9.5" ry="4.0" fill="#86f080"/>
<ellipse cx="2544.9" cy="647.4" rx="8.6" ry="3.7" fill="#e0e848"/>
<ellipse cx="2544.9" cy="645.7" rx="7.6" ry="3.3" fill="#ffa028"/>
<ellipse cx="2544.9" cy="644.0" rx="6.6" ry="2.9" fill="#ff6424"/>
<ellipse cx="2544.9" cy="642.3" rx="5.6" ry="2.5" fill="#f23a18"/>
<ellipse cx="2544.9" cy="640.7" rx="4.6" ry="2.1" fill="#e82a10"/>
</g></g>
<path d="M2642.1,618.5 L2674.1,618.5 L2674.1,610.4 L2691.1,625.9 L2674.1,641.4 L2674.1,633.3 L2642.1,633.3 Z" fill="#92cddc" filter="url(#sh)"/>
<text x="2663.50" y="659.60" font-family='"Liberation Sans", "DejaVu Sans", sans-serif' font-size="18.6" text-anchor="middle" textLength="62.20" lengthAdjust="spacingAndGlyphs" stroke="#000" stroke-width="0.6" >Sample</text>
<g transform="translate(2700.4,563.0) scale(1.0158)">
<clipPath id="ck11"><rect width="120" height="120"/></clipPath>
<g clip-path="url(#ck11)">
<rect width="120" height="120" fill="url(#skyg)"/>
<g filter="url(#b3)">
<ellipse cx="22" cy="86" rx="30" ry="9" fill="#d8dde6"/>
<ellipse cx="40" cy="96" rx="26" ry="7" fill="#b9c4d6"/>
<ellipse cx="100" cy="92" rx="26" ry="8" fill="#8fa6c6"/>
<ellipse cx="30" cy="112" rx="20" ry="6" fill="#6a604e" opacity="0.5"/>
</g>
<g stroke-linecap="round" fill="none">
<path d="M60,60 L44,30 L34,22" stroke="#2c2470" stroke-width="6"/>
<path d="M62,60 L72,30 L78,24" stroke="#2c2470" stroke-width="6"/>
<path d="M60,50 L62,92" stroke="#231d52" stroke-width="11"/>
<path d="M58,70 L36,66 L28,62" stroke="#2c2470" stroke-width="5"/>
<path d="M64,70 L84,66 L92,64" stroke="#2c2470" stroke-width="5"/>
<circle cx="62" cy="98" r="5.5" fill="#1a1a22" stroke="none"/>
<path d="M34,22 l-5,-3 M78,24 l5,-3" stroke="#a88a60" stroke-width="4"/>
</g>
<circle cx="31.0" cy="28.6" r="1.3" fill="none" stroke="#e8141c" stroke-width="0.8"/>
<circle cx="51.0" cy="22.4" r="1.3" fill="none" stroke="#e8141c" stroke-width="0.8"/>
<circle cx="30.0" cy="25.5" r="1.3" fill="none" stroke="#e8141c" stroke-width="0.8"/>
<circle cx="46.3" cy="33.7" r="1.3" fill="none" stroke="#e8141c" stroke-width="0.8"/>
<circle cx="31.1" cy="16.9" r="1.3" fill="none" stroke="#e8141c" stroke-width="0.8"/>
<circle cx="48.4" cy="29.3" r="1.3" fill="none" stroke="#e8141c" stroke-width="0.8"/>
<circle cx="55.8" cy="32.9" r="1.3" fill="none" stroke="#e8141c" stroke-width="0.8"/>
<circle cx="41.1" cy="24.1" r="1.3" fill="none" stroke="#e8141c" stroke-width="0.8"/>
<circle cx="65.1" cy="24.0" r="1.3" fill="none" stroke="#e8141c" stroke-width="0.8"/>
<circle cx="34.9" cy="18.0" r="1.3" fill="none" stroke="#e8141c" stroke-width="0.8"/>
<circle cx="42.9" cy="27.0" r="1.3" fill="none" stroke="#e8141c" stroke-width="0.8"/>
<circle cx="38.9" cy="25.6" r="1.3" fill="none" stroke="#e8141c" stroke-width="0.8"/>
<circle cx="44.5" cy="30.8" r="1.3" fill="none" stroke="#e8141c" stroke-width="0.8"/>
<circle cx="51.9" cy="27.5" r="1.3" fill="none" stroke="#e8141c" stroke-width="0.8"/>
<circle cx="25.9" cy="30.9" r="1.3" fill="none" stroke="#e8141c" stroke-width="0.8"/>
<circle cx="29.2" cy="24.8" r="1.3" fill="none" stroke="#e8141c" stroke-width="0.8"/>
<circle cx="28.7" cy="26.0" r="1.3" fill="none" stroke="#e8141c" stroke-width="0.8"/>
<circle cx="35.0" cy="27.5" r="1.3" fill="none" stroke="#e8141c" stroke-width="0.8"/>
<circle cx="71.7" cy="25.7" r="1.3" fill="none" stroke="#e8141c" stroke-width="0.8"/>
<circle cx="49.6" cy="16.7" r="1.3" fill="none" stroke="#e8141c" stroke-width="0.8"/>
<circle cx="39.4" cy="30.6" r="1.3" fill="none" stroke="#e8141c" stroke-width="0.8"/>
<circle cx="41.2" cy="28.6" r="1.3" fill="none" stroke="#e8141c" stroke-width="0.8"/>
<circle cx="76.8" cy="19.0" r="1.3" fill="none" stroke="#e8141c" stroke-width="0.8"/>
<circle cx="80.5" cy="20.3" r="1.3" fill="none" stroke="#e8141c" stroke-width="0.8"/>
<circle cx="91.0" cy="22.5" r="1.3" fill="none" stroke="#e8141c" stroke-width="0.8"/>
<circle cx="81.5" cy="26.0" r="1.3" fill="none" stroke="#e8141c" stroke-width="0.8"/>
<circle cx="83.6" cy="21.8" r="1.3" fill="none" stroke="#e8141c" stroke-width="0.8"/>
<circle cx="84.0" cy="25.1" r="1.3" fill="none" stroke="#e8141c" stroke-width="0.8"/>
<circle cx="86.1" cy="30.4" r="1.3" fill="none" stroke="#e8141c" stroke-width="0.8"/>
<circle cx="77.1" cy="20.5" r="1.3" fill="none" stroke="#e8141c" stroke-width="0.8"/>
<circle cx="82.1" cy="29.3" r="1.3" fill="none" stroke="#e8141c" stroke-width="0.8"/>
<circle cx="89.1" cy="23.4" r="1.3" fill="none" stroke="#e8141c" stroke-width="0.8"/>
<circle cx="80.4" cy="29.6" r="1.3" fill="none" stroke="#e8141c" stroke-width="0.8"/>
<circle cx="78.3" cy="27.5" r="1.3" fill="none" stroke="#e8141c" stroke-width="0.8"/>
<circle cx="77.5" cy="21.8" r="1.3" fill="none" stroke="#e8141c" stroke-width="0.8"/>
<circle cx="67.9" cy="23.2" r="1.3" fill="none" stroke="#e8141c" stroke-width="0.8"/>
<circle cx="80.7" cy="36.6" r="1.3" fill="none" stroke="#e8141c" stroke-width="0.8"/>
<circle cx="83.8" cy="33.4" r="1.3" fill="none" stroke="#e8141c" stroke-width="0.8"/>
<circle cx="82.2" cy="30.9" r="1.3" fill="none" stroke="#e8141c" stroke-width="0.8"/>
<circle cx="77.5" cy="31.4" r="1.3" fill="none" stroke="#e8141c" stroke-width="0.8"/>
<circle cx="90.2" cy="23.7" r="1.3" fill="none" stroke="#e8141c" stroke-width="0.8"/>
<circle cx="70.4" cy="39.7" r="1.3" fill="none" stroke="#e8141c" stroke-width="0.8"/>
<circle cx="78.0" cy="32.8" r="1.3" fill="none" stroke="#e8141c" stroke-width="0.8"/>
<circle cx="83.0" cy="18.0" r="1.3" fill="none" stroke="#e8141c" stroke-width="0.8"/>
<circle cx="53.5" cy="72.9" r="1.3" fill="none" stroke="#e8141c" stroke-width="0.8"/>
<circle cx="35.4" cy="67.8" r="1.3" fill="none" stroke="#e8141c" stroke-width="0.8"/>
<circle cx="35.0" cy="59.6" r="1.3" fill="none" stroke="#e8141c" stroke-width="0.8"/>
<circle cx="33.1" cy="65.9" r="1.3" fill="none" stroke="#e8141c" stroke-width="0.8"/>
<circle cx="42.9" cy="67.5" r="1.3" fill="none" stroke="#e8141c" stroke-width="0.8"/>
<circle cx="34.5" cy="70.8" r="1.3" fill="none" stroke="#e8141c" stroke-width="0.8"/>
<circle cx="27.9" cy="68.0" r="1.3" fill="none" stroke="#e8141c" stroke-width="0.8"/>
<circle cx="42.9" cy="62.5" r="1.3" fill="none" stroke="#e8141c" stroke-width="0.8"/>
<circle cx="19.7" cy="59.5" r="1.3" fill="none" stroke="#e8141c" stroke-width="0.8"/>
<circle cx="35.9" cy="66.6" r="1.3" fill="none" stroke="#e8141c" stroke-width="0.8"/>
<circle cx="46.4" cy="59.0" r="1.3" fill="none" stroke="#e8141c" stroke-width="0.8"/>
<circle cx="34.0" cy="67.2" r="1.3" fill="none" stroke="#e8141c" stroke-width="0.8"/>
<circle cx="32.7" cy="52.2" r="1.3" fill="none" stroke="#e8141c" stroke-width="0.8"/>
<circle cx="40.5" cy="75.6" r="1.3" fill="none" stroke="#e8141c" stroke-width="0.8"/>
<circle cx="42.0" cy="59.4" r="1.3" fill="none" stroke="#e8141c" stroke-width="0.8"/>
<circle cx="30.7" cy="65.1" r="1.3" fill="none" stroke="#e8141c" stroke-width="0.8"/>
<circle cx="53.9" cy="67.1" r="1.3" fill="none" stroke="#e8141c" stroke-width="0.8"/>
<circle cx="34.9" cy="71.8" r="1.3" fill="none" stroke="#e8141c" stroke-width="0.8"/>
<circle cx="87.3" cy="73.3" r="1.3" fill="none" stroke="#e8141c" stroke-width="0.8"/>
<circle cx="81.8" cy="61.6" r="1.3" fill="none" stroke="#e8141c" stroke-width="0.8"/>
<circle cx="94.5" cy="71.1" r="1.3" fill="none" stroke="#e8141c" stroke-width="0.8"/>
<circle cx="93.9" cy="65.5" r="1.3" fill="none" stroke="#e8141c" stroke-width="0.8"/>
<circle cx="71.6" cy="60.4" r="1.3" fill="none" stroke="#e8141c" stroke-width="0.8"/>
<circle cx="82.5" cy="61.3" r="1.3" fill="none" stroke="#e8141c" stroke-width="0.8"/>
<circle cx="93.3" cy="62.3" r="1.3" fill="none" stroke="#e8141c" stroke-width="0.8"/>
<circle cx="95.1" cy="64.4" r="1.3" fill="none" stroke="#e8141c" stroke-width="0.8"/>
<circle cx="85.0" cy="64.6" r="1.3" fill="none" stroke="#e8141c" stroke-width="0.8"/>
<circle cx="91.9" cy="68.3" r="1.3" fill="none" stroke="#e8141c" stroke-width="0.8"/>
<circle cx="83.7" cy="62.8" r="1.3" fill="none" stroke="#e8141c" stroke-width="0.8"/>
<circle cx="75.7" cy="72.0" r="1.3" fill="none" stroke="#e8141c" stroke-width="0.8"/>
<circle cx="101.1" cy="63.1" r="1.3" fill="none" stroke="#e8141c" stroke-width="0.8"/>
<circle cx="83.7" cy="57.8" r="1.3" fill="none" stroke="#e8141c" stroke-width="0.8"/>
<circle cx="89.5" cy="65.0" r="1.3" fill="none" stroke="#e8141c" stroke-width="0.8"/>
<circle cx="107.6" cy="65.2" r="1.3" fill="none" stroke="#e8141c" stroke-width="0.8"/>
<circle cx="81.0" cy="51.8" r="1.3" fill="none" stroke="#e8141c" stroke-width="0.8"/>
<circle cx="100.7" cy="64.9" r="1.3" fill="none" stroke="#e8141c" stroke-width="0.8"/>
<circle cx="73.5" cy="64.9" r="1.3" fill="none" stroke="#e8141c" stroke-width="0.8"/>
<circle cx="73.5" cy="81.4" r="1.3" fill="none" stroke="#e8141c" stroke-width="0.8"/>
<circle cx="98.1" cy="66.9" r="1.3" fill="none" stroke="#e8141c" stroke-width="0.8"/>
<circle cx="86.4" cy="53.3" r="1.3" fill="none" stroke="#e8141c" stroke-width="0.8"/>
<circle cx="61.1" cy="36.5" r="1.3" fill="none" stroke="#e8141c" stroke-width="0.8"/>
<circle cx="66.2" cy="30.6" r="1.3" fill="none" stroke="#e8141c" stroke-width="0.8"/>
<circle cx="55.6" cy="64.2" r="1.3" fill="none" stroke="#e8141c" stroke-width="0.8"/>
<circle cx="73.5" cy="40.2" r="1.3" fill="none" stroke="#e8141c" stroke-width="0.8"/>
<circle cx="51.3" cy="60.8" r="1.3" fill="none" stroke="#e8141c" stroke-width="0.8"/>
<circle cx="68.0" cy="42.1" r="1.3" fill="none" stroke="#e8141c" stroke-width="0.8"/>
<circle cx="57.1" cy="45.1" r="1.3" fill="none" stroke="#e8141c" stroke-width="0.8"/>
<circle cx="53.7" cy="45.2" r="1.3" fill="none" stroke="#e8141c" stroke-width="0.8"/>
<circle cx="70.8" cy="58.9" r="1.3" fill="none" stroke="#e8141c" stroke-width="0.8"/>
<circle cx="76.4" cy="51.1" r="1.3" fill="none" stroke="#e8141c" stroke-width="0.8"/>
<circle cx="61.1" cy="42.2" r="1.3" fill="none" stroke="#e8141c" stroke-width="0.8"/>
<circle cx="61.1" cy="38.9" r="1.3" fill="none" stroke="#e8141c" stroke-width="0.8"/>
<circle cx="49.6" cy="59.0" r="1.3" fill="none" stroke="#e8141c" stroke-width="0.8"/>
<circle cx="72.1" cy="60.4" r="1.3" fill="none" stroke="#e8141c" stroke-width="0.8"/>
<circle cx="71.3" cy="54.5" r="1.3" fill="none" stroke="#e8141c" stroke-width="0.8"/>
<circle cx="57.0" cy="52.9" r="1.3" fill="none" stroke="#e8141c" stroke-width="0.8"/>
<circle cx="59.4" cy="40.9" r="1.3" fill="none" stroke="#e8141c" stroke-width="0.8"/>
<circle cx="50.2" cy="37.2" r="1.3" fill="none" stroke="#e8141c" stroke-width="0.8"/>
<circle cx="62.0" cy="53.5" r="1.3" fill="none" stroke="#e8141c" stroke-width="0.8"/>
<circle cx="58.7" cy="66.3" r="1.3" fill="none" stroke="#e8141c" stroke-width="0.8"/>
<circle cx="63.1" cy="93.2" r="1.3" fill="none" stroke="#e8141c" stroke-width="0.8"/>
<circle cx="69.3" cy="80.6" r="1.3" fill="none" stroke="#e8141c" stroke-width="0.8"/>
<circle cx="50.2" cy="94.8" r="1.3" fill="none" stroke="#e8141c" stroke-width="0.8"/>
<circle cx="57.9" cy="99.8" r="1.3" fill="none" stroke="#e8141c" stroke-width="0.8"/>
<circle cx="64.0" cy="97.1" r="1.3" fill="none" stroke="#e8141c" stroke-width="0.8"/>
<circle cx="66.6" cy="69.3" r="1.3" fill="none" stroke="#e8141c" stroke-width="0.8"/>
<circle cx="66.3" cy="81.9" r="1.3" fill="none" stroke="#e8141c" stroke-width="0.8"/>
<circle cx="57.5" cy="84.1" r="1.3" fill="none" stroke="#e8141c" stroke-width="0.8"/>
<circle cx="66.6" cy="96.0" r="1.3" fill="none" stroke="#e8141c" stroke-width="0.8"/>
<circle cx="68.1" cy="73.1" r="1.3" fill="none" stroke="#e8141c" stroke-width="0.8"/>
<circle cx="58.5" cy="66.6" r="1.3" fill="none" stroke="#e8141c" stroke-width="0.8"/>
<circle cx="61.4" cy="93.4" r="1.3" fill="none" stroke="#e8141c" stroke-width="0.8"/>
<circle cx="57.4" cy="90.2" r="1.3" fill="none" stroke="#e8141c" stroke-width="0.8"/>
<circle cx="63.4" cy="97.1" r="1.3" fill="none" stroke="#e8141c" stroke-width="0.8"/>
<circle cx="57.1" cy="80.5" r="1.3" fill="none" stroke="#e8141c" stroke-width="0.8"/>
<circle cx="57.4" cy="103.8" r="1.3" fill="none" stroke="#e8141c" stroke-width="0.8"/>
<circle cx="68.5" cy="86.9" r="1.3" fill="none" stroke="#e8141c" stroke-width="0.8"/>
<circle cx="63.4" cy="89.0" r="1.3" fill="none" stroke="#e8141c" stroke-width="0.8"/>
<circle cx="63.2" cy="86.1" r="1.3" fill="none" stroke="#e8141c" stroke-width="0.8"/>
<circle cx="60.0" cy="76.7" r="1.3" fill="none" stroke="#e8141c" stroke-width="0.8"/>
<circle cx="58.1" cy="102.9" r="1.3" fill="none" stroke="#e8141c" stroke-width="0.8"/>
<circle cx="65.2" cy="88.6" r="1.3" fill="none" stroke="#e8141c" stroke-width="0.8"/>
<circle cx="60.7" cy="88.6" r="1.3" fill="none" stroke="#e8141c" stroke-width="0.8"/>
<circle cx="64.1" cy="82.2" r="1.3" fill="none" stroke="#e8141c" stroke-width="0.8"/>
<circle cx="63.2" cy="90.2" r="1.3" fill="none" stroke="#e8141c" stroke-width="0.8"/>
<circle cx="57.5" cy="80.9" r="1.3" fill="none" stroke="#e8141c" stroke-width="0.8"/>
<circle cx="56.0" cy="78.4" r="1.3" fill="none" stroke="#e8141c" stroke-width="0.8"/>
<circle cx="67.3" cy="66.8" r="1.3" fill="none" stroke="#e8141c" stroke-width="0.8"/>
<circle cx="60.4" cy="82.5" r="1.3" fill="none" stroke="#e8141c" stroke-width="0.8"/>
<circle cx="58.3" cy="88.9" r="1.3" fill="none" stroke="#e8141c" stroke-width="0.8"/>
<circle cx="56.8" cy="40.5" r="1.3" fill="none" stroke="#e8141c" stroke-width="0.8"/>
<circle cx="49.2" cy="36.3" r="1.3" fill="none" stroke="#e8141c" stroke-width="0.8"/>
<circle cx="49.2" cy="45.5" r="1.3" fill="none" stroke="#e8141c" stroke-width="0.8"/>
<circle cx="47.6" cy="33.1" r="1.3" fill="none" stroke="#e8141c" stroke-width="0.8"/>
<circle cx="42.4" cy="33.4" r="1.3" fill="none" stroke="#e8141c" stroke-width="0.8"/>
<circle cx="41.7" cy="46.6" r="1.3" fill="none" stroke="#e8141c" stroke-width="0.8"/>
<circle cx="52.1" cy="38.6" r="1.3" fill="none" stroke="#e8141c" stroke-width="0.8"/>
<circle cx="58.8" cy="36.1" r="1.3" fill="none" stroke="#e8141c" stroke-width="0.8"/>
<circle cx="76.5" cy="48.8" r="1.3" fill="none" stroke="#e8141c" stroke-width="0.8"/>
<circle cx="62.7" cy="34.7" r="1.3" fill="none" stroke="#e8141c" stroke-width="0.8"/>
<circle cx="66.4" cy="49.4" r="1.3" fill="none" stroke="#e8141c" stroke-width="0.8"/>
<circle cx="79.8" cy="36.6" r="1.3" fill="none" stroke="#e8141c" stroke-width="0.8"/>
<circle cx="78.3" cy="41.7" r="1.3" fill="none" stroke="#e8141c" stroke-width="0.8"/>
<circle cx="69.6" cy="40.7" r="1.3" fill="none" stroke="#e8141c" stroke-width="0.8"/>
<circle cx="70.1" cy="33.1" r="1.3" fill="none" stroke="#e8141c" stroke-width="0.8"/>
<circle cx="66.0" cy="36.6" r="1.3" fill="none" stroke="#e8141c" stroke-width="0.8"/>
</g></g>
<rect x="2202.00" y="740.10" width="651.00" height="195.20" fill="#f2f2f2" rx="56" filter="url(#sh)"/>
<text x="2244.60" y="749.00" font-family='"Liberation Sans", "DejaVu Sans", sans-serif' font-size="20.6" font-weight="bold" textLength="261.00" lengthAdjust="spacingAndGlyphs" filter="url(#tsh)">During the testing phase</text>
<path d="M2232.6,898.0 L2331.1,898.0 L2385.6,859.0 L2287.1,859.0 Z" fill="#2c2f96" stroke="#3b3fae" stroke-width="0.6"/>
<path d="M2282.6,886.0 L2307.6,878.0 L2332.6,868.0 M2298.6,872.0 L2314.6,886.0" fill="none" stroke="#5a4a9a" stroke-width="2.2" opacity="0.7"/>
<ellipse cx="2318.6" cy="878.0" rx="14.2" ry="5.9" fill="url(#jet2)"/>
<line x1="2232.60" y1="819.00" x2="2232.60" y2="898.00" stroke="#333" stroke-width="0.9" stroke-dasharray="3 2"/>
<line x1="2331.10" y1="819.00" x2="2331.10" y2="898.00" stroke="#333" stroke-width="0.9" stroke-dasharray="3 2"/>
<line x1="2385.60" y1="780.00" x2="2385.60" y2="859.00" stroke="#333" stroke-width="0.9" stroke-dasharray="3 2"/>
<line x1="2287.10" y1="846.00" x2="2287.10" y2="859.00" stroke="#333" stroke-width="0.9" stroke-dasharray="3 2"/>
<path d="M2232.6,846.0 L2331.1,846.0 L2385.6,807.0 L2287.1,807.0 Z" fill="#2c2f96" stroke="#3b3fae" stroke-width="0.6"/>
<path d="M2282.6,834.0 L2307.6,826.0 L2332.6,816.0 M2298.6,820.0 L2314.6,834.0" fill="none" stroke="#5a4a9a" stroke-width="2.2" opacity="0.7"/>
<path d="M2232.6,832.5 L2331.1,832.5 L2385.6,793.5 L2287.1,793.5 Z" fill="#2c2f96" stroke="#3b3fae" stroke-width="0.6"/>
<path d="M2282.6,820.5 L2307.6,812.5 L2332.6,802.5 M2298.6,806.5 L2314.6,820.5" fill="none" stroke="#5a4a9a" stroke-width="2.2" opacity="0.7"/>
<path d="M2232.6,819.0 L2331.1,819.0 L2385.6,780.0 L2287.1,780.0 Z" fill="#2c2f96" stroke="#3b3fae" stroke-width="0.6"/>
<path d="M2282.6,807.0 L2307.6,799.0 L2332.6,789.0 M2298.6,793.0 L2314.6,807.0" fill="none" stroke="#5a4a9a" stroke-width="2.2" opacity="0.7"/>
<ellipse cx="2302.6" cy="787.0" rx="11.2" ry="4.7" fill="url(#jet2)"/>
<circle cx="2309.1" cy="850.0" r="0.9" fill="#000"/>
<circle cx="2309.1" cy="855.0" r="0.9" fill="#000"/>
<circle cx="2309.1" cy="860.0" r="0.9" fill="#000"/>
<path d="M2411.2,830.9 L2442.7,830.9 L2442.7,822.8 L2459.7,838.3 L2442.7,853.8 L2442.7,845.6999999999999 L2411.2,845.6999999999999 Z" fill="#92cddc" filter="url(#sh)"/>
<text x="2436.60" y="873.20" font-family='"Liberation Sans", "DejaVu Sans", sans-serif' font-size="18.6" text-anchor="middle" textLength="87.40" lengthAdjust="spacingAndGlyphs" stroke="#000" stroke-width="0.6" >Likelihood</text>
<path d="M2477.4,816.0 L2554.9,781.0 L2632.4,816.0 L2632.4,850.0 L2554.9,815.0 L2477.4,850.0 Z" fill="#fff" stroke="#8a8a8a" stroke-width="0.7"/>
<line x1="2490.32" y1="810.17" x2="2490.32" y2="844.17" stroke="#aaa" stroke-width="0.55" />
<line x1="2567.82" y1="786.83" x2="2567.82" y2="820.83" stroke="#aaa" stroke-width="0.55" />
<line x1="2503.23" y1="804.33" x2="2503.23" y2="838.33" stroke="#aaa" stroke-width="0.55" />
<line x1="2580.73" y1="792.67" x2="2580.73" y2="826.67" stroke="#aaa" stroke-width="0.55" />
<line x1="2516.15" y1="798.50" x2="2516.15" y2="832.50" stroke="#aaa" stroke-width="0.55" />
<line x1="2593.65" y1="798.50" x2="2593.65" y2="832.50" stroke="#aaa" stroke-width="0.55" />
<line x1="2529.07" y1="792.67" x2="2529.07" y2="826.67" stroke="#aaa" stroke-width="0.55" />
<line x1="2606.57" y1="804.33" x2="2606.57" y2="838.33" stroke="#aaa" stroke-width="0.55" />
<line x1="2541.98" y1="786.83" x2="2541.98" y2="820.83" stroke="#aaa" stroke-width="0.55" />
<line x1="2619.48" y1="810.17" x2="2619.48" y2="844.17" stroke="#aaa" stroke-width="0.55" />
<path d="M2477.4,827.3 L2554.9,792.3 L2632.4,827.3" fill="none" stroke="#aaa" stroke-width="0.55"/>
<path d="M2477.4,838.6 L2554.9,803.6 L2632.4,838.6" fill="none" stroke="#aaa" stroke-width="0.55"/>
<line x1="2554.90" y1="781.00" x2="2554.90" y2="815.00" stroke="#8a8a8a" stroke-width="0.7" />
<path d="M2477.4,850.0 L2554.9,815.0 L2632.4,850.0 L2554.9,895.5 Z" fill="#8426f2" stroke="#444" stroke-width="0.9"/>
<clipPath id="dc1"><path d="M2474.4,850.0 L2474.4,780.0 L2635.4,780.0 L2635.4,850.0 L2554.9,896.0 Z"/></clipPath>
<g clip-path="url(#dc1)">
<g filter="url(#b3)">
<ellipse cx="2554.4" cy="852.0" rx="52" ry="24" fill="#3090f8" opacity="0.9"/>
<ellipse cx="2564.4" cy="852.0" rx="34" ry="20" fill="#30c0f0" opacity="0.95"/>
<ellipse cx="2568.4" cy="850.0" rx="24" ry="16" fill="#40e8d0" opacity="0.95"/>
<ellipse cx="2526.4" cy="848.0" rx="20" ry="9" fill="#30b0f8" opacity="0.8"/>
</g>
<g filter="url(#b1)">
<ellipse cx="2560.4" cy="844.3" rx="13.0" ry="5.5" fill="#38e0c8"/>
<ellipse cx="2560.4" cy="840.8" rx="11.8" ry="5.0" fill="#86f080"/>
<ellipse cx="2560.4" cy="837.4" rx="10.6" ry="4.5" fill="#e0e848"/>
<ellipse cx="2560.4" cy="833.9" rx="9.4" ry="4.1" fill="#ffa028"/>
<ellipse cx="2560.4" cy="830.4" rx="8.2" ry="3.6" fill="#ff6424"/>
<ellipse cx="2560.4" cy="826.9" rx="7.0" ry="3.1" fill="#f23a18"/>
<ellipse cx="2560.4" cy="823.5" rx="5.8" ry="2.7" fill="#e82a10"/>
<ellipse cx="2571.9" cy="847.3" rx="10.5" ry="4.4" fill="#38e0c8"/>
<ellipse cx="2571.9" cy="845.1" rx="9.5" ry="4.0" fill="#86f080"/>
<ellipse cx="2571.9" cy="842.9" rx="8.6" ry="3.7" fill="#e0e848"/>
<ellipse cx="2571.9" cy="840.7" rx="7.6" ry="3.3" fill="#ffa028"/>
<ellipse cx="2571.9" cy="838.6" rx="6.6" ry="2.9" fill="#ff6424"/>
<ellipse cx="2571.9" cy="836.4" rx="5.6" ry="2.5" fill="#f23a18"/>
<ellipse cx="2571.9" cy="834.2" rx="4.6" ry="2.1" fill="#e82a10"/>
<ellipse cx="2586.4" cy="843.2" rx="8.0" ry="3.4" fill="#38e0c8"/>
<ellipse cx="2586.4" cy="842.2" rx="7.3" ry="3.1" fill="#86f080"/>
<ellipse cx="2586.4" cy="841.1" rx="6.5" ry="2.8" fill="#e0e848"/>
<ellipse cx="2586.4" cy="840.1" rx="5.8" ry="2.5" fill="#ffa028"/>
<ellipse cx="2586.4" cy="839.1" rx="5.0" ry="2.2" fill="#ff6424"/>
<ellipse cx="2586.4" cy="838.1" rx="4.3" ry="1.9" fill="#f23a18"/>
<ellipse cx="2586.4" cy="837.0" rx="3.5" ry="1.6" fill="#e82a10"/>
</g></g>
<path d="M2642.1,830.9 L2674.1,830.9 L2674.1,822.8 L2691.1,838.3 L2674.1,853.8 L2674.1,845.6999999999999 L2642.1,845.6999999999999 Z" fill="#92cddc" filter="url(#sh)"/>
<text x="2663.50" y="872.00" font-family='"Liberation Sans", "DejaVu Sans", sans-serif' font-size="18.6" text-anchor="middle" textLength="62.20" lengthAdjust="spacingAndGlyphs" stroke="#000" stroke-width="0.6" >Sample</text>
<g transform="translate(2700.4,775.4) scale(1.0158)">
<clipPath id="ck12"><rect width="120" height="120"/></clipPath>
<g clip-path="url(#ck12)">
<rect width="120" height="120" fill="url(#skyg)"/>
<g filter="url(#b3)">
<ellipse cx="22" cy="86" rx="30" ry="9" fill="#d8dde6"/>
<ellipse cx="40" cy="96" rx="26" ry="7" fill="#b9c4d6"/>
<ellipse cx="100" cy="92" rx="26" ry="8" fill="#8fa6c6"/>
<ellipse cx="30" cy="112" rx="20" ry="6" fill="#6a604e" opacity="0.5"/>
</g>
<g stroke-linecap="round" fill="none">
<path d="M60,60 L44,30 L34,22" stroke="#2c2470" stroke-width="6"/>
<path d="M62,60 L72,30 L78,24" stroke="#2c2470" stroke-width="6"/>
<path d="M60,50 L62,92" stroke="#231d52" stroke-width="11"/>
<path d="M58,70 L36,66 L28,62" stroke="#2c2470" stroke-width="5"/>
<path d="M64,70 L84,66 L92,64" stroke="#2c2470" stroke-width="5"/>
<circle cx="62" cy="98" r="5.5" fill="#1a1a22" stroke="none"/>
<path d="M34,22 l-5,-3 M78,24 l5,-3" stroke="#a88a60" stroke-width="4"/>
</g>
<circle cx="46.4" cy="64.1" r="1.3" fill="none" stroke="#e8141c" stroke-width="0.8"/>
<circle cx="55.8" cy="57.7" r="1.3" fill="none" stroke="#e8141c" stroke-width="0.8"/>
<circle cx="65.7" cy="62.6" r="1.3" fill="none" stroke="#e8141c" stroke-width="0.8"/>
<circle cx="55.8" cy="78.2" r="1.3" fill="none" stroke="#e8141c" stroke-width="0.8"/>
<circle cx="54.0" cy="50.6" r="1.3" fill="none" stroke="#e8141c" stroke-width="0.8"/>
<circle cx="47.0" cy="57.3" r="1.3" fill="none" stroke="#e8141c" stroke-width="0.8"/>
<circle cx="63.3" cy="69.7" r="1.3" fill="none" stroke="#e8141c" stroke-width="0.8"/>
<circle cx="67.1" cy="78.7" r="1.3" fill="none" stroke="#e8141c" stroke-width="0.8"/>
<circle cx="71.8" cy="68.0" r="1.3" fill="none" stroke="#e8141c" stroke-width="0.8"/>
<circle cx="68.9" cy="68.2" r="1.3" fill="none" stroke="#e8141c" stroke-width="0.8"/>
<circle cx="53.8" cy="69.8" r="1.3" fill="none" stroke="#e8141c" stroke-width="0.8"/>
<circle cx="58.9" cy="60.5" r="1.3" fill="none" stroke="#e8141c" stroke-width="0.8"/>
<circle cx="74.5" cy="69.4" r="1.3" fill="none" stroke="#e8141c" stroke-width="0.8"/>
<circle cx="54.5" cy="61.8" r="1.3" fill="none" stroke="#e8141c" stroke-width="0.8"/>
<circle cx="77.3" cy="60.2" r="1.3" fill="none" stroke="#e8141c" stroke-width="0.8"/>
<circle cx="64.4" cy="68.1" r="1.3" fill="none" stroke="#e8141c" stroke-width="0.8"/>
<circle cx="62.6" cy="67.8" r="1.3" fill="none" stroke="#e8141c" stroke-width="0.8"/>
<circle cx="54.5" cy="58.3" r="1.3" fill="none" stroke="#e8141c" stroke-width="0.8"/>
<circle cx="57.1" cy="59.2" r="1.3" fill="none" stroke="#e8141c" stroke-width="0.8"/>
<circle cx="65.0" cy="76.6" r="1.3" fill="none" stroke="#e8141c" stroke-width="0.8"/>
<circle cx="51.2" cy="67.5" r="1.3" fill="none" stroke="#e8141c" stroke-width="0.8"/>
<circle cx="50.5" cy="56.2" r="1.3" fill="none" stroke="#e8141c" stroke-width="0.8"/>
<circle cx="56.5" cy="63.5" r="1.3" fill="none" stroke="#e8141c" stroke-width="0.8"/>
<circle cx="54.9" cy="38.7" r="1.3" fill="none" stroke="#e8141c" stroke-width="0.8"/>
<circle cx="69.7" cy="60.0" r="1.3" fill="none" stroke="#e8141c" stroke-width="0.8"/>
<circle cx="53.3" cy="68.7" r="1.3" fill="none" stroke="#e8141c" stroke-width="0.8"/>
<circle cx="53.6" cy="49.5" r="1.3" fill="none" stroke="#e8141c" stroke-width="0.8"/>
<circle cx="62.4" cy="66.3" r="1.3" fill="none" stroke="#e8141c" stroke-width="0.8"/>
<circle cx="51.7" cy="70.2" r="1.3" fill="none" stroke="#e8141c" stroke-width="0.8"/>
<circle cx="61.5" cy="52.1" r="1.3" fill="none" stroke="#e8141c" stroke-width="0.8"/>
<circle cx="72.6" cy="64.9" r="1.3" fill="none" stroke="#e8141c" stroke-width="0.8"/>
<circle cx="49.2" cy="66.6" r="1.3" fill="none" stroke="#e8141c" stroke-width="0.8"/>
<circle cx="59.5" cy="71.4" r="1.3" fill="none" stroke="#e8141c" stroke-width="0.8"/>
<circle cx="47.5" cy="72.0" r="1.3" fill="none" stroke="#e8141c" stroke-width="0.8"/>
<circle cx="66.1" cy="68.8" r="1.3" fill="none" stroke="#e8141c" stroke-width="0.8"/>
<circle cx="63.4" cy="74.5" r="1.3" fill="none" stroke="#e8141c" stroke-width="0.8"/>
<circle cx="64.3" cy="63.7" r="1.3" fill="none" stroke="#e8141c" stroke-width="0.8"/>
<circle cx="51.6" cy="72.6" r="1.3" fill="none" stroke="#e8141c" stroke-width="0.8"/>
<circle cx="66.4" cy="65.2" r="1.3" fill="none" stroke="#e8141c" stroke-width="0.8"/>
<circle cx="59.7" cy="69.1" r="1.3" fill="none" stroke="#e8141c" stroke-width="0.8"/>
<circle cx="38.0" cy="65.4" r="1.3" fill="none" stroke="#e8141c" stroke-width="0.8"/>
<circle cx="38.2" cy="64.7" r="1.3" fill="none" stroke="#e8141c" stroke-width="0.8"/>
<circle cx="67.0" cy="79.8" r="1.3" fill="none" stroke="#e8141c" stroke-width="0.8"/>
<circle cx="54.6" cy="66.4" r="1.3" fill="none" stroke="#e8141c" stroke-width="0.8"/>
<circle cx="57.8" cy="42.2" r="1.3" fill="none" stroke="#e8141c" stroke-width="0.8"/>
<circle cx="64.3" cy="62.3" r="1.3" fill="none" stroke="#e8141c" stroke-width="0.8"/>
<circle cx="58.9" cy="53.8" r="1.3" fill="none" stroke="#e8141c" stroke-width="0.8"/>
<circle cx="58.1" cy="63.2" r="1.3" fill="none" stroke="#e8141c" stroke-width="0.8"/>
<circle cx="68.8" cy="65.1" r="1.3" fill="none" stroke="#e8141c" stroke-width="0.8"/>
<circle cx="86.7" cy="58.7" r="1.3" fill="none" stroke="#e8141c" stroke-width="0.8"/>
<circle cx="56.2" cy="62.0" r="1.3" fill="none" stroke="#e8141c" stroke-width="0.8"/>
<circle cx="51.8" cy="76.2" r="1.3" fill="none" stroke="#e8141c" stroke-width="0.8"/>
<circle cx="63.6" cy="50.8" r="1.3" fill="none" stroke="#e8141c" stroke-width="0.8"/>
<circle cx="59.3" cy="72.9" r="1.3" fill="none" stroke="#e8141c" stroke-width="0.8"/>
<circle cx="46.9" cy="63.8" r="1.3" fill="none" stroke="#e8141c" stroke-width="0.8"/>
<circle cx="60.7" cy="103.3" r="1.3" fill="none" stroke="#e8141c" stroke-width="0.8"/>
<circle cx="65.3" cy="81.1" r="1.3" fill="none" stroke="#e8141c" stroke-width="0.8"/>
<circle cx="58.3" cy="99.7" r="1.3" fill="none" stroke="#e8141c" stroke-width="0.8"/>
<circle cx="59.0" cy="102.9" r="1.3" fill="none" stroke="#e8141c" stroke-width="0.8"/>
<circle cx="51.2" cy="82.8" r="1.3" fill="none" stroke="#e8141c" stroke-width="0.8"/>
<circle cx="60.6" cy="78.7" r="1.3" fill="none" stroke="#e8141c" stroke-width="0.8"/>
<circle cx="60.8" cy="90.0" r="1.3" fill="none" stroke="#e8141c" stroke-width="0.8"/>
<circle cx="57.6" cy="72.8" r="1.3" fill="none" stroke="#e8141c" stroke-width="0.8"/>
<circle cx="71.9" cy="96.3" r="1.3" fill="none" stroke="#e8141c" stroke-width="0.8"/>
<circle cx="57.4" cy="86.9" r="1.3" fill="none" stroke="#e8141c" stroke-width="0.8"/>
<circle cx="44.1" cy="92.8" r="1.3" fill="none" stroke="#e8141c" stroke-width="0.8"/>
<circle cx="52.9" cy="79.9" r="1.3" fill="none" stroke="#e8141c" stroke-width="0.8"/>
<circle cx="77.7" cy="74.1" r="1.3" fill="none" stroke="#e8141c" stroke-width="0.8"/>
<circle cx="62.5" cy="75.7" r="1.3" fill="none" stroke="#e8141c" stroke-width="0.8"/>
<circle cx="49.2" cy="74.9" r="1.3" fill="none" stroke="#e8141c" stroke-width="0.8"/>
<circle cx="64.3" cy="73.8" r="1.3" fill="none" stroke="#e8141c" stroke-width="0.8"/>
<circle cx="58.1" cy="90.3" r="1.3" fill="none" stroke="#e8141c" stroke-width="0.8"/>
<circle cx="61.2" cy="73.7" r="1.3" fill="none" stroke="#e8141c" stroke-width="0.8"/>
<circle cx="73.0" cy="85.4" r="1.3" fill="none" stroke="#e8141c" stroke-width="0.8"/>
<circle cx="72.3" cy="75.9" r="1.3" fill="none" stroke="#e8141c" stroke-width="0.8"/>
<circle cx="74.3" cy="73.4" r="1.3" fill="none" stroke="#e8141c" stroke-width="0.8"/>
<circle cx="49.9" cy="80.9" r="1.3" fill="none" stroke="#e8141c" stroke-width="0.8"/>
<circle cx="59.7" cy="86.5" r="1.3" fill="none" stroke="#e8141c" stroke-width="0.8"/>
<circle cx="58.3" cy="89.5" r="1.3" fill="none" stroke="#e8141c" stroke-width="0.8"/>
<circle cx="71.8" cy="79.1" r="1.3" fill="none" stroke="#e8141c" stroke-width="0.8"/>
<circle cx="52.6" cy="81.1" r="1.3" fill="none" stroke="#e8141c" stroke-width="0.8"/>
<circle cx="68.1" cy="91.0" r="1.3" fill="none" stroke="#e8141c" stroke-width="0.8"/>
<circle cx="59.9" cy="76.4" r="1.3" fill="none" stroke="#e8141c" stroke-width="0.8"/>
<circle cx="62.2" cy="92.2" r="1.3" fill="none" stroke="#e8141c" stroke-width="0.8"/>
<circle cx="57.3" cy="94.9" r="1.3" fill="none" stroke="#e8141c" stroke-width="0.8"/>
<circle cx="63.9" cy="86.7" r="1.3" fill="none" stroke="#e8141c" stroke-width="0.8"/>
<circle cx="57.9" cy="95.4" r="1.3" fill="none" stroke="#e8141c" stroke-width="0.8"/>
<circle cx="62.6" cy="72.3" r="1.3" fill="none" stroke="#e8141c" stroke-width="0.8"/>
<circle cx="68.1" cy="81.0" r="1.3" fill="none" stroke="#e8141c" stroke-width="0.8"/>
<circle cx="70.0" cy="85.7" r="1.3" fill="none" stroke="#e8141c" stroke-width="0.8"/>
<circle cx="57.9" cy="85.7" r="1.3" fill="none" stroke="#e8141c" stroke-width="0.8"/>
<circle cx="58.8" cy="77.7" r="1.3" fill="none" stroke="#e8141c" stroke-width="0.8"/>
<circle cx="62.5" cy="91.1" r="1.3" fill="none" stroke="#e8141c" stroke-width="0.8"/>
<circle cx="62.8" cy="83.7" r="1.3" fill="none" stroke="#e8141c" stroke-width="0.8"/>
<circle cx="58.4" cy="89.0" r="1.3" fill="none" stroke="#e8141c" stroke-width="0.8"/>
<circle cx="64.2" cy="92.1" r="1.3" fill="none" stroke="#e8141c" stroke-width="0.8"/>
<circle cx="64.9" cy="101.6" r="1.3" fill="none" stroke="#e8141c" stroke-width="0.8"/>
<circle cx="51.2" cy="83.9" r="1.3" fill="none" stroke="#e8141c" stroke-width="0.8"/>
<circle cx="66.1" cy="91.6" r="1.3" fill="none" stroke="#e8141c" stroke-width="0.8"/>
<circle cx="51.4" cy="74.5" r="1.3" fill="none" stroke="#e8141c" stroke-width="0.8"/>
<circle cx="72.0" cy="64.9" r="1.3" fill="none" stroke="#e8141c" stroke-width="0.8"/>
<circle cx="81.2" cy="44.1" r="1.3" fill="none" stroke="#e8141c" stroke-width="0.8"/>
<circle cx="73.4" cy="65.8" r="1.3" fill="none" stroke="#e8141c" stroke-width="0.8"/>
<circle cx="72.6" cy="48.0" r="1.3" fill="none" stroke="#e8141c" stroke-width="0.8"/>
<circle cx="66.5" cy="45.5" r="1.3" fill="none" stroke="#e8141c" stroke-width="0.8"/>
<circle cx="82.0" cy="54.2" r="1.3" fill="none" stroke="#e8141c" stroke-width="0.8"/>
<circle cx="68.9" cy="49.3" r="1.3" fill="none" stroke="#e8141c" stroke-width="0.8"/>
<circle cx="71.2" cy="49.0" r="1.3" fill="none" stroke="#e8141c" stroke-width="0.8"/>
<circle cx="64.4" cy="56.0" r="1.3" fill="none" stroke="#e8141c" stroke-width="0.8"/>
<circle cx="70.5" cy="60.0" r="1.3" fill="none" stroke="#e8141c" stroke-width="0.8"/>
<circle cx="73.5" cy="65.9" r="1.3" fill="none" stroke="#e8141c" stroke-width="0.8"/>
<circle cx="72.0" cy="58.5" r="1.3" fill="none" stroke="#e8141c" stroke-width="0.8"/>
<circle cx="74.2" cy="49.8" r="1.3" fill="none" stroke="#e8141c" stroke-width="0.8"/>
<circle cx="82.0" cy="51.8" r="1.3" fill="none" stroke="#e8141c" stroke-width="0.8"/>
<circle cx="59.5" cy="66.4" r="1.3" fill="none" stroke="#e8141c" stroke-width="0.8"/>
<circle cx="77.6" cy="51.8" r="1.3" fill="none" stroke="#e8141c" stroke-width="0.8"/>
<circle cx="80.1" cy="64.1" r="1.3" fill="none" stroke="#e8141c" stroke-width="0.8"/>
<circle cx="78.0" cy="46.8" r="1.3" fill="none" stroke="#e8141c" stroke-width="0.8"/>
<circle cx="73.8" cy="47.9" r="1.3" fill="none" stroke="#e8141c" stroke-width="0.8"/>
<circle cx="67.4" cy="51.8" r="1.3" fill="none" stroke="#e8141c" stroke-width="0.8"/>
<circle cx="65.5" cy="60.3" r="1.3" fill="none" stroke="#e8141c" stroke-width="0.8"/>
<circle cx="66.0" cy="61.4" r="1.3" fill="none" stroke="#e8141c" stroke-width="0.8"/>
<circle cx="73.7" cy="51.4" r="1.3" fill="none" stroke="#e8141c" stroke-width="0.8"/>
<circle cx="73.7" cy="61.9" r="1.3" fill="none" stroke="#e8141c" stroke-width="0.8"/>
<circle cx="81.6" cy="54.2" r="1.3" fill="none" stroke="#e8141c" stroke-width="0.8"/>
<circle cx="56.8" cy="71.1" r="1.3" fill="none" stroke="#e8141c" stroke-width="0.8"/>
<circle cx="53.8" cy="61.4" r="1.3" fill="none" stroke="#e8141c" stroke-width="0.8"/>
<circle cx="39.8" cy="74.3" r="1.3" fill="none" stroke="#e8141c" stroke-width="0.8"/>
<circle cx="44.9" cy="70.6" r="1.3" fill="none" stroke="#e8141c" stroke-width="0.8"/>
<circle cx="53.5" cy="60.9" r="1.3" fill="none" stroke="#e8141c" stroke-width="0.8"/>
<circle cx="49.0" cy="78.0" r="1.3" fill="none" stroke="#e8141c" stroke-width="0.8"/>
<circle cx="51.1" cy="68.7" r="1.3" fill="none" stroke="#e8141c" stroke-width="0.8"/>
<circle cx="49.7" cy="68.2" r="1.3" fill="none" stroke="#e8141c" stroke-width="0.8"/>
<circle cx="50.9" cy="74.8" r="1.3" fill="none" stroke="#e8141c" stroke-width="0.8"/>
<circle cx="44.9" cy="71.1" r="1.3" fill="none" stroke="#e8141c" stroke-width="0.8"/>
<circle cx="48.1" cy="72.0" r="1.3" fill="none" stroke="#e8141c" stroke-width="0.8"/>
<circle cx="51.3" cy="62.8" r="1.3" fill="none" stroke="#e8141c" stroke-width="0.8"/>
<circle cx="87.3" cy="74.6" r="1.3" fill="none" stroke="#e8141c" stroke-width="0.8"/>
<circle cx="73.6" cy="68.8" r="1.3" fill="none" stroke="#e8141c" stroke-width="0.8"/>
<circle cx="71.4" cy="68.7" r="1.3" fill="none" stroke="#e8141c" stroke-width="0.8"/>
<circle cx="82.2" cy="64.4" r="1.3" fill="none" stroke="#e8141c" stroke-width="0.8"/>
<circle cx="75.6" cy="65.8" r="1.3" fill="none" stroke="#e8141c" stroke-width="0.8"/>
<circle cx="76.0" cy="66.3" r="1.3" fill="none" stroke="#e8141c" stroke-width="0.8"/>
<circle cx="73.8" cy="73.1" r="1.3" fill="none" stroke="#e8141c" stroke-width="0.8"/>
<circle cx="78.9" cy="66.1" r="1.3" fill="none" stroke="#e8141c" stroke-width="0.8"/>
<circle cx="86.2" cy="67.4" r="1.3" fill="none" stroke="#e8141c" stroke-width="0.8"/>
<circle cx="85.7" cy="64.0" r="1.3" fill="none" stroke="#e8141c" stroke-width="0.8"/>
<circle cx="88.7" cy="67.9" r="1.3" fill="none" stroke="#e8141c" stroke-width="0.8"/>
<circle cx="74.5" cy="72.3" r="1.3" fill="none" stroke="#e8141c" stroke-width="0.8"/>
<circle cx="52.2" cy="31.6" r="1.3" fill="none" stroke="#e8141c" stroke-width="0.8"/>
<circle cx="61.7" cy="36.4" r="1.3" fill="none" stroke="#e8141c" stroke-width="0.8"/>
<circle cx="62.7" cy="41.5" r="1.3" fill="none" stroke="#e8141c" stroke-width="0.8"/>
<circle cx="61.8" cy="41.4" r="1.3" fill="none" stroke="#e8141c" stroke-width="0.8"/>
<circle cx="64.5" cy="40.3" r="1.3" fill="none" stroke="#e8141c" stroke-width="0.8"/>
<circle cx="66.9" cy="47.9" r="1.3" fill="none" stroke="#e8141c" stroke-width="0.8"/>
<circle cx="48.4" cy="26.2" r="1.3" fill="none" stroke="#e8141c" stroke-width="0.8"/>
<circle cx="69.6" cy="36.7" r="1.3" fill="none" stroke="#e8141c" stroke-width="0.8"/>
<circle cx="61.4" cy="39.4" r="1.3" fill="none" stroke="#e8141c" stroke-width="0.8"/>
<circle cx="61.9" cy="58.1" r="1.3" fill="none" stroke="#e8141c" stroke-width="0.8"/>
</g></g>
<text x="2528.40" y="962.40" font-family='"Liberation Sans", "DejaVu Sans", sans-serif' font-size="22.5" text-anchor="middle" textLength="373.40" lengthAdjust="spacingAndGlyphs" stroke="#000" stroke-width="0.6" >(b) Selection of body-specific areas</text>
</g>
<g id="fig-c">
<g>
<rect x="2208.70" y="1027.90" width="72.00" height="71.60" fill="#a9c9ee"/>
<rect x="2208.70" y="1027.90" width="72.00" height="30.00" fill="#8fb6ea"/>
<rect x="2208.70" y="1082.00" width="72.00" height="17.50" fill="#b9a9b4"/>
<rect x="2208.70" y="1076.00" width="72.00" height="7.00" fill="#a04a52" opacity="0.7"/>
<path d="M2236,1046 l8,6 l-4,14 l-6,2 z" fill="#1e2a44"/>
<circle cx="2234" cy="1075" r="6" fill="none" stroke="#222" stroke-width="1.6"/><circle cx="2248" cy="1090" r="6.5" fill="none" stroke="#222" stroke-width="1.6"/>
<path d="M2234,1075 L2244,1068 L2248,1090" fill="none" stroke="#333" stroke-width="1.4"/>
<rect x="2250.90" y="1003.70" width="72.00" height="72.00" fill="#5b8a3a"/>
<rect x="2250.90" y="1003.70" width="72.00" height="20.00" fill="#4f7d33"/>
<path d="M2282,1018 l10,-2 l6,14 l4,12 l-22,4 l2,-16 z" fill="#2b2f3a"/>
<circle cx="2288" cy="1013" r="4.4" fill="#d9a38a"/>
<path d="M2283,1011 l10,-2" fill="none" stroke="#d05a8a" stroke-width="2.2"/>
<path d="M2296,1040 l6,-6 l3,3 l-6,6 z" fill="#e8e8e8"/>
<rect x="2266.80" y="1041.10" width="71.70" height="71.70" fill="#0a0708"/>
<path d="M2292,1060 q6,-10 12,0 l2,18 q-2,16 -10,22 l-8,-2 q-4,-20 4,-38 z" fill="#7a3a22"/>
<circle cx="2298" cy="1056" r="5" fill="#d8b49a"/>
<path d="M2286,1078 l16,-6" fill="none" stroke="#c9a088" stroke-width="2.6"/>
<line x1="2300.00" y1="1062.00" x2="2302.00" y2="1110.00" stroke="#c8b090" stroke-width="1" />
<line x1="2267.00" y1="1062.00" x2="2338.00" y2="1060.00" stroke="#3a2a20" stroke-width="1" />
<rect x="2304.00" y="1018.40" width="72.30" height="72.30" fill="#1f58a8"/>
<rect x="2304.00" y="1018.40" width="72.30" height="14.00" fill="#4f86c8"/>
<path d="M2304,1022 q20,-6 40,2 q16,4 32,-2" fill="none" stroke="#dfeaf8" stroke-width="2.2" opacity="0.8"/>
<path d="M2338,1030 l4,18 l-6,22 l-4,12" fill="none" stroke="#c8d4ea" stroke-width="3.2" stroke-linecap="round"/>
<path d="M2344,1048 l8,20 l4,10" fill="none" stroke="#c8d4ea" stroke-width="3" stroke-linecap="round"/>
<path d="M2330,1080 l8,8 M2354,1076 l6,9" fill="none" stroke="#d8f040" stroke-width="3"/>
<path d="M2370,1024 l2,30 l-2,26" fill="none" stroke="#b8c8e0" stroke-width="3"/>
</g>
<text x="2424.50" y="1039.40" font-family='"Liberation Sans", "DejaVu Sans", sans-serif' font-size="21" text-anchor="middle" textLength="52.20" lengthAdjust="spacingAndGlyphs" stroke="#000" stroke-width="0.6" >online</text>
<path d="M2391.5,1048 L2442,1048 L2442,1043.5 L2460.3,1052.9 L2442,1062.3 L2442,1057.8 L2391.5,1057.8 Z" fill="#fbe0cc" stroke="#d98a52" stroke-width="1.4" filter="url(#sh)"/>
<path d="M2699,1076 Q2760,1080 2762,1135 Q2762,1184 2716,1192" fill="none" stroke="#d98a52" stroke-width="10.5" fill="none" filter="url(#sh)"/>
<path d="M2699,1076 Q2760,1080 2762,1135 Q2762,1184 2716,1192" fill="none" stroke="#fbe0cc" stroke-width="7.5"/>
<path d="M2700,1193.5 L2714,1180 L2717,1204 Z" fill="#f7c9a8" stroke="#d98a52" stroke-width="1.4"/>
<rect x="2468.30" y="1003.70" width="231.60" height="98.80" fill="#ffd966" rx="49.4" filter="url(#sh)"/>
<text x="2584.00" y="1047.60" font-family='"Liberation Sans", "DejaVu Sans", sans-serif' font-size="21.5" text-anchor="middle" textLength="156.00" lengthAdjust="spacingAndGlyphs" stroke="#000" stroke-width="0.6" >Pose estimation</text>
<text x="2584.00" y="1074.20" font-family='"Liberation Sans", "DejaVu Sans", sans-serif' font-size="21.5" text-anchor="middle" textLength="137.00" lengthAdjust="spacingAndGlyphs" stroke="#000" stroke-width="0.6" >(Pri. Network)</text>
<rect x="2468.30" y="1167.40" width="231.60" height="98.80" fill="#c4d79b" rx="49.4" filter="url(#sh)"/>
<text x="2584.00" y="1211.40" font-family='"Liberation Sans", "DejaVu Sans", sans-serif' font-size="21.5" text-anchor="middle" textLength="167.00" lengthAdjust="spacingAndGlyphs" stroke="#000" stroke-width="0.6" >Image inpainting</text>
<text x="2584.00" y="1237.90" font-family='"Liberation Sans", "DejaVu Sans", sans-serif' font-size="21.5" text-anchor="middle" textLength="149.00" lengthAdjust="spacingAndGlyphs" stroke="#000" stroke-width="0.6" >(Aux. Network)</text>
<circle cx="2723.5" cy="1034.3" r="9.8" fill="none" stroke="#000" stroke-width="2.3"/>
<text x="2723.50" y="1040.30" font-family='"Liberation Sans", "DejaVu Sans", sans-serif' font-size="16.5" font-weight="bold" text-anchor="middle">3</text>
<line x1="2704.30" y1="1052.90" x2="2751.50" y2="1052.90" stroke="#000" stroke-width="3.2" marker-end="url(#ah3)"/>
<text x="2796.60" y="1060.90" font-family='"Liberation Sans", "DejaVu Sans", sans-serif' font-size="21.5" text-anchor="middle" textLength="65.00" lengthAdjust="spacingAndGlyphs" stroke="#000" stroke-width="0.6" >Output</text>
<rect x="2743.30" y="1105.20" width="92.90" height="58.40" fill="#fff" rx="11" stroke="#000" stroke-width="2.4" filter="url(#sh)"/>
<text x="2789.90" y="1130.00" font-family='"Liberation Sans", "DejaVu Sans", sans-serif' font-size="21.5" text-anchor="middle" textLength="70.00" lengthAdjust="spacingAndGlyphs" stroke="#000" stroke-width="0.6" >Masked</text>
<text x="2789.90" y="1154.40" font-family='"Liberation Sans", "DejaVu Sans", sans-serif' font-size="21.5" text-anchor="middle" textLength="56.00" lengthAdjust="spacingAndGlyphs" stroke="#000" stroke-width="0.6" >image</text>
<circle cx="2721.4" cy="1166.5" r="9.8" fill="none" stroke="#000" stroke-width="2.3"/>
<text x="2721.40" y="1172.50" font-family='"Liberation Sans", "DejaVu Sans", sans-serif' font-size="16.5" font-weight="bold" text-anchor="middle">1</text>
<line x1="2593.70" y1="1106.90" x2="2593.70" y2="1159.50" stroke="#000" stroke-width="2.8" marker-end="url(#ah3)"/>
<line x1="2576.00" y1="1162.00" x2="2576.00" y2="1114.00" stroke="#ff0000" stroke-width="2.8" stroke-dasharray="6 3.5"/>
<path d="M2576,1107 L2580.8,1116 L2571.2,1116 Z" fill="#ff0000"/>
<circle cx="2408.7" cy="1188.6" r="9.8" fill="none" stroke="#000" stroke-width="2.3"/>
<text x="2408.70" y="1194.60" font-family='"Liberation Sans", "DejaVu Sans", sans-serif' font-size="16.5" font-weight="bold" text-anchor="middle">2</text>
<line x1="2346.80" y1="1207.20" x2="2455.00" y2="1207.20" stroke="#ff0000" stroke-width="2.8" stroke-dasharray="6 3.5"/>
<path d="M2465.4,1207.2 L2455,1202.2 L2455,1212.2 Z" fill="#ff0000"/>
<line x1="2465.40" y1="1224.90" x2="2349.50" y2="1224.90" stroke="#000" stroke-width="3.2" marker-end="url(#ah3)"/>
<rect x="2229.90" y="1186.60" width="107.70" height="58.70" fill="#fff" rx="13" stroke="#000" stroke-width="2.4" filter="url(#sh)"/>
<text x="2283.90" y="1211.40" font-family='"Liberation Sans", "DejaVu Sans", sans-serif' font-size="21.5" text-anchor="middle" textLength="81.00" lengthAdjust="spacingAndGlyphs" stroke="#000" stroke-width="0.6" >Repaired</text>
<text x="2283.90" y="1235.60" font-family='"Liberation Sans", "DejaVu Sans", sans-serif' font-size="21.5" text-anchor="middle" textLength="56.00" lengthAdjust="spacingAndGlyphs" stroke="#000" stroke-width="0.6" >Image</text>
<path d="M2284.5,1117.8 L2293.5,1131 L2288.6,1131 L2288.6,1164.5 L2293.5,1164.5 L2284.5,1177.7 L2275.5,1164.5 L2280.4,1164.5 L2280.4,1131 L2275.5,1131 Z" fill="#ff0000"/>
<text x="2298.0" y="1154.7" font-family='"DejaVu Sans","DejaVu Serif",sans-serif' font-size="27">ℒ<tspan font-family='"Liberation Serif", "DejaVu Serif", serif' font-style="italic" font-size="15.5" dy="3.2" dx="1">aux</tspan></text>
<rect x="2708.80" y="1216.70" width="143.00" height="51.60" fill="#ededed" rx="5" filter="url(#sh)"/>
<line x1="2738.50" y1="1229.90" x2="2719.50" y2="1229.90" stroke="#000" stroke-width="2.2" marker-end="url(#ah)"/>
<text x="2745.00" y="1235.00" font-family='"Liberation Sans", "DejaVu Sans", sans-serif' font-size="14.6" font-weight="bold" textLength="92.40" lengthAdjust="spacingAndGlyphs">Forward pass</text>
<line x1="2738.50" y1="1252.10" x2="2726.00" y2="1252.10" stroke="#ff3300" stroke-width="2.4" stroke-dasharray="4.5 2.5"/>
<path d="M2718.5,1252.1 L2727.5,1247.6 L2727.5,1256.6 Z" fill="#ff3300"/>
<text x="2745.00" y="1257.10" font-family='"Liberation Sans", "DejaVu Sans", sans-serif' font-size="14.6" font-weight="bold" textLength="95.00" lengthAdjust="spacingAndGlyphs">Gradient flow</text>
<text x="2539.40" y="1300.50" font-family='"Liberation Sans", "DejaVu Sans", sans-serif' font-size="22.5" text-anchor="middle" textLength="342.80" lengthAdjust="spacingAndGlyphs" stroke="#000" stroke-width="0.6" >(c) Test-time domain adaptation</text>
</g>
<g id="sec-b">
<text transform="translate(1192.10,1450.70) scale(0.9430,1)" font-family='"Liberation Sans", "DejaVu Sans", sans-serif' font-size="33.8" font-weight="bold" textLength="766.60" lengthAdjust="spacing">The position of the mask is randomly sampled</text>
<text transform="translate(1192.10,1494.70) scale(0.9430,1)" font-family='"Liberation Sans", "DejaVu Sans", sans-serif' font-size="33.8" font-weight="bold" textLength="766.60" lengthAdjust="spacing">based on the likelihood calculated  from the</text>
<text transform="translate(1192.10,1538.70) scale(0.9430,1)" font-family='"Liberation Sans", "DejaVu Sans", sans-serif' font-size="33.8" font-weight="bold" textLength="566.28" lengthAdjust="spacing">ground-truth/predicted heatmaps:</text>
<text x="1302.50" y="1611.00" font-family='"Liberation Serif", "DejaVu Serif", serif' font-size="29.5" font-style="italic">p</text>
<text x="1321.50" y="1612.50" font-family='"Liberation Serif", "DejaVu Serif", serif' font-size="32.5">(</text>
<text x="1333.50" y="1611.00" font-family='"Liberation Serif", "DejaVu Serif", serif' font-size="29.5" font-style="italic">u</text>
<text x="1352.00" y="1611.00" font-family='"Liberation Serif", "DejaVu Serif", serif' font-size="29.5">,</text>
<text x="1362.50" y="1611.00" font-family='"Liberation Serif", "DejaVu Serif", serif' font-size="29.5" font-style="italic">v</text>
<text x="1379.50" y="1612.50" font-family='"Liberation Serif", "DejaVu Serif", serif' font-size="32.5">)</text>
<text x="1393.60" y="1611.50" font-family='"Liberation Serif", "DejaVu Serif", serif' font-size="31" textLength="21.50" lengthAdjust="spacingAndGlyphs">=</text>
<line x1="1428.10" y1="1599.70" x2="1774.80" y2="1599.70" stroke="#000" stroke-width="1.3" />
<text x="1512.20" y="1588.80" font-family='"Liberation Serif", "DejaVu Serif", serif' font-size="29.5" textLength="56.00" lengthAdjust="spacingAndGlyphs">max</text>
<text x="1572.70" y="1594.80" font-family='"Liberation Serif", "DejaVu Serif", serif' font-size="15.5" font-style="italic">j</text>
<text x="1583.70" y="1588.80" font-family='"Liberation Serif", "DejaVu Serif", serif' font-size="29.5" font-style="italic">h</text>
<text x="1603.20" y="1590.30" font-family='"Liberation Serif", "DejaVu Serif", serif' font-size="32.5">(</text>
<text x="1615.20" y="1588.80" font-family='"Liberation Serif", "DejaVu Serif", serif' font-size="29.5" font-style="italic">u</text>
<text x="1633.70" y="1588.80" font-family='"Liberation Serif", "DejaVu Serif", serif' font-size="29.5">,</text>
<text x="1644.50" y="1588.80" font-family='"Liberation Serif", "DejaVu Serif", serif' font-size="29.5" font-style="italic">v</text>
<text x="1660.70" y="1588.80" font-family='"Liberation Serif", "DejaVu Serif", serif' font-size="29.5">,</text>
<text x="1671.00" y="1588.80" font-family='"Liberation Serif", "DejaVu Serif", serif' font-size="29.5" font-style="italic">j</text>
<text x="1683.20" y="1590.30" font-family='"Liberation Serif", "DejaVu Serif", serif' font-size="32.5">)</text>
<text transform="translate(1432,1638.6) scale(1.18,1)" font-family='"DejaVu Serif","DejaVu Sans",serif' font-size="39">∑</text>
<text x="1469.50" y="1615.60" font-family='"Liberation Serif", "DejaVu Serif", serif' font-size="16" font-style="italic">H</text>
<text x="1482.50" y="1614.10" font-family='"Liberation Serif", "DejaVu Serif", serif' font-size="15">′</text>
<text x="1469.00" y="1640.10" font-family='"Liberation Serif", "DejaVu Serif", serif' font-size="16" font-style="italic">v</text>
<text x="1479.50" y="1640.10" font-family='"Liberation Serif", "DejaVu Serif", serif' font-size="16">=</text>
<text x="1494.00" y="1640.10" font-family='"Liberation Serif", "DejaVu Serif", serif' font-size="16">1</text>
<text transform="translate(1513,1638.6) scale(1.18,1)" font-family='"DejaVu Serif","DejaVu Sans",serif' font-size="39">∑</text>
<text x="1550.50" y="1615.60" font-family='"Liberation Serif", "DejaVu Serif", serif' font-size="16" font-style="italic">W</text>
<text x="1566.50" y="1614.10" font-family='"Liberation Serif", "DejaVu Serif", serif' font-size="15">′</text>
<text x="1550.50" y="1640.10" font-family='"Liberation Serif", "DejaVu Serif", serif' font-size="16" font-style="italic">u</text>
<text x="1562.00" y="1640.10" font-family='"Liberation Serif", "DejaVu Serif", serif' font-size="16">=</text>
<text x="1576.50" y="1640.10" font-family='"Liberation Serif", "DejaVu Serif", serif' font-size="16">1</text>
<text x="1594.80" y="1633.10" font-family='"Liberation Serif", "DejaVu Serif", serif' font-size="29.5" textLength="56.00" lengthAdjust="spacingAndGlyphs">max</text>
<text x="1655.30" y="1639.10" font-family='"Liberation Serif", "DejaVu Serif", serif' font-size="15.5" font-style="italic">j</text>
<text x="1666.30" y="1633.10" font-family='"Liberation Serif", "DejaVu Serif", serif' font-size="29.5" font-style="italic">h</text>
<text x="1685.80" y="1634.60" font-family='"Liberation Serif", "DejaVu Serif", serif' font-size="32.5">(</text>
<text x="1697.80" y="1633.10" font-family='"Liberation Serif", "DejaVu Serif", serif' font-size="29.5" font-style="italic">u</text>
<text x="1716.30" y="1633.10" font-family='"Liberation Serif", "DejaVu Serif", serif' font-size="29.5">,</text>
<text x="1727.10" y="1633.10" font-family='"Liberation Serif", "DejaVu Serif", serif' font-size="29.5" font-style="italic">v</text>
<text x="1743.30" y="1633.10" font-family='"Liberation Serif", "DejaVu Serif", serif' font-size="29.5">,</text>
<text x="1753.60" y="1633.10" font-family='"Liberation Serif", "DejaVu Serif", serif' font-size="29.5" font-style="italic">j</text>
<text x="1765.80" y="1634.60" font-family='"Liberation Serif", "DejaVu Serif", serif' font-size="32.5">)</text>
<rect x="1209.20" y="1691.00" width="669.20" height="224.60" fill="#dedede" rx="33" filter="url(#sh)"/>
<path d="M1190.5,1741.8 L1190.5,1678.4 L1508,1678.4" fill="none" stroke="#000" stroke-width="1.4" stroke-dasharray="8 4.5" marker-end="url(#ah)"/>
<path d="M1907.4,1784.7 L1907.4,1678.4 L1616,1678.4" fill="none" stroke="#000" stroke-width="1.4" stroke-dasharray="8 4.5" marker-end="url(#ah)"/>
<text x="1522" y="1682" font-family='"DejaVu Sans",sans-serif' font-weight="bold" font-size="31">ℒ<tspan font-family='"Liberation Serif", "DejaVu Serif", serif' font-style="italic" font-weight="bold" font-size="22" dy="3" textLength="48" lengthAdjust="spacingAndGlyphs">aux</tspan></text>
<path d="M1254.9,1819.4 L1280.7,1798.8 L1310.7,1798.8 L1284.9,1819.4 Z" fill="#fff" stroke="#9a9a9a" stroke-width="1.4" stroke-linejoin="round"/>
<path d="M1284.9,1819.4 L1310.7,1798.8 L1310.7,1876.4 L1284.9,1896.9 Z" fill="#e9e9e9" stroke="#9a9a9a" stroke-width="1.4" stroke-linejoin="round"/>
<rect x="1254.92" y="1819.36" width="29.99" height="77.58" fill="#fff" stroke="#9a9a9a" stroke-width="1.4"/>
<path d="M1291.2,1819.4 L1317.0,1798.8 L1346.8,1798.8 L1321.0,1819.4 Z" fill="#fff" stroke="#9a9a9a" stroke-width="1.4" stroke-linejoin="round"/>
<path d="M1321.0,1819.4 L1346.8,1798.8 L1346.8,1876.4 L1321.0,1896.9 Z" fill="#e9e9e9" stroke="#9a9a9a" stroke-width="1.4" stroke-linejoin="round"/>
<rect x="1291.20" y="1819.36" width="29.78" height="77.58" fill="#fff" stroke="#9a9a9a" stroke-width="1.4"/>
<path d="M1331.0,1824.6 L1348.9,1809.9 L1374.0,1809.9 L1356.2,1824.6 Z" fill="#fff" stroke="#4bacc6" stroke-width="1.6" stroke-linejoin="round"/>
<path d="M1356.2,1824.6 L1374.0,1809.9 L1374.0,1870.7 L1356.2,1885.4 Z" fill="#e9e9e9" stroke="#4bacc6" stroke-width="1.6" stroke-linejoin="round"/>
<rect x="1331.04" y="1824.60" width="25.16" height="60.81" fill="#fff" stroke="#4bacc6" stroke-width="1.6"/>
<path d="M1361.2,1824.6 L1378.4,1809.9 L1403.2,1809.9 L1386.0,1824.6 Z" fill="#fff" stroke="#9a9a9a" stroke-width="1.4" stroke-linejoin="round"/>
<path d="M1386.0,1824.6 L1403.2,1809.9 L1403.2,1870.7 L1386.0,1885.4 Z" fill="#e9e9e9" stroke="#9a9a9a" stroke-width="1.4" stroke-linejoin="round"/>
<rect x="1361.24" y="1824.60" width="24.74" height="60.81" fill="#fff" stroke="#9a9a9a" stroke-width="1.4"/>
<path d="M1395.8,1829.8 L1406.3,1821.9 L1426.2,1821.9 L1415.8,1829.8 Z" fill="#fff" stroke="#4bacc6" stroke-width="1.6" stroke-linejoin="round"/>
<path d="M1415.8,1829.8 L1426.2,1821.9 L1426.2,1867.0 L1415.8,1874.9 Z" fill="#e9e9e9" stroke="#4bacc6" stroke-width="1.6" stroke-linejoin="round"/>
<rect x="1395.83" y="1829.85" width="19.92" height="45.08" fill="#fff" stroke="#4bacc6" stroke-width="1.6"/>
<path d="M1419.5,1829.8 L1429.6,1821.9 L1449.5,1821.9 L1439.4,1829.8 Z" fill="#fff" stroke="#9a9a9a" stroke-width="1.4" stroke-linejoin="round"/>
<path d="M1439.4,1829.8 L1449.5,1821.9 L1449.5,1867.0 L1439.4,1874.9 Z" fill="#e9e9e9" stroke="#9a9a9a" stroke-width="1.4" stroke-linejoin="round"/>
<rect x="1419.53" y="1829.85" width="19.92" height="45.08" fill="#fff" stroke="#9a9a9a" stroke-width="1.4"/>
<path d="M1447.2,1836.8 L1454.8,1829.8 L1473.6,1829.8 L1466.1,1836.8 Z" fill="#fff" stroke="#4bacc6" stroke-width="1.6" stroke-linejoin="round"/>
<path d="M1466.1,1836.8 L1473.6,1829.8 L1473.6,1859.2 L1466.1,1866.1 Z" fill="#e9e9e9" stroke="#4bacc6" stroke-width="1.6" stroke-linejoin="round"/>
<rect x="1447.21" y="1836.77" width="18.87" height="29.36" fill="#fff" stroke="#4bacc6" stroke-width="1.6"/>
<path d="M1469.4,1836.8 L1477.0,1829.8 L1496.3,1829.8 L1488.7,1836.8 Z" fill="#fff" stroke="#9a9a9a" stroke-width="1.4" stroke-linejoin="round"/>
<path d="M1488.7,1836.8 L1496.3,1829.8 L1496.3,1859.2 L1488.7,1866.1 Z" fill="#e9e9e9" stroke="#9a9a9a" stroke-width="1.4" stroke-linejoin="round"/>
<rect x="1469.43" y="1836.77" width="19.29" height="29.36" fill="#fff" stroke="#9a9a9a" stroke-width="1.4"/>
<path d="M1254.9,1729.2 L1280.7,1708.6 L1310.7,1708.6 L1284.9,1729.2 Z" fill="#fff" stroke="#9a9a9a" stroke-width="1.4" stroke-linejoin="round"/>
<path d="M1284.9,1729.2 L1310.7,1708.6 L1310.7,1786.2 L1284.9,1806.8 Z" fill="#e9e9e9" stroke="#9a9a9a" stroke-width="1.4" stroke-linejoin="round"/>
<rect x="1254.92" y="1729.20" width="29.99" height="77.58" fill="#fff" stroke="#9a9a9a" stroke-width="1.4"/>
<path d="M1291.2,1729.2 L1317.0,1708.6 L1346.8,1708.6 L1321.0,1729.2 Z" fill="#fff" stroke="#9a9a9a" stroke-width="1.4" stroke-linejoin="round"/>
<path d="M1321.0,1729.2 L1346.8,1708.6 L1346.8,1786.2 L1321.0,1806.8 Z" fill="#e9e9e9" stroke="#9a9a9a" stroke-width="1.4" stroke-linejoin="round"/>
<rect x="1291.20" y="1729.20" width="29.78" height="77.58" fill="#fff" stroke="#9a9a9a" stroke-width="1.4"/>
<path d="M1331.0,1734.4 L1348.9,1719.8 L1374.0,1719.8 L1356.2,1734.4 Z" fill="#fff" stroke="#4bacc6" stroke-width="1.6" stroke-linejoin="round"/>
<path d="M1356.2,1734.4 L1374.0,1719.8 L1374.0,1780.6 L1356.2,1795.2 Z" fill="#e9e9e9" stroke="#4bacc6" stroke-width="1.6" stroke-linejoin="round"/>
<rect x="1331.04" y="1734.44" width="25.16" height="60.81" fill="#fff" stroke="#4bacc6" stroke-width="1.6"/>
<path d="M1361.2,1734.4 L1378.4,1719.8 L1403.2,1719.8 L1386.0,1734.4 Z" fill="#fff" stroke="#9a9a9a" stroke-width="1.4" stroke-linejoin="round"/>
<path d="M1386.0,1734.4 L1403.2,1719.8 L1403.2,1780.6 L1386.0,1795.2 Z" fill="#e9e9e9" stroke="#9a9a9a" stroke-width="1.4" stroke-linejoin="round"/>
<rect x="1361.24" y="1734.44" width="24.74" height="60.81" fill="#fff" stroke="#9a9a9a" stroke-width="1.4"/>
<path d="M1395.8,1739.7 L1406.3,1731.7 L1426.2,1731.7 L1415.8,1739.7 Z" fill="#fff" stroke="#4bacc6" stroke-width="1.6" stroke-linejoin="round"/>
<path d="M1415.8,1739.7 L1426.2,1731.7 L1426.2,1776.8 L1415.8,1784.8 Z" fill="#e9e9e9" stroke="#4bacc6" stroke-width="1.6" stroke-linejoin="round"/>
<rect x="1395.83" y="1739.68" width="19.92" height="45.08" fill="#fff" stroke="#4bacc6" stroke-width="1.6"/>
<path d="M1419.5,1739.7 L1429.6,1731.7 L1449.5,1731.7 L1439.4,1739.7 Z" fill="#fff" stroke="#9a9a9a" stroke-width="1.4" stroke-linejoin="round"/>
<path d="M1439.4,1739.7 L1449.5,1731.7 L1449.5,1776.8 L1439.4,1784.8 Z" fill="#e9e9e9" stroke="#9a9a9a" stroke-width="1.4" stroke-linejoin="round"/>
<rect x="1419.53" y="1739.68" width="19.92" height="45.08" fill="#fff" stroke="#9a9a9a" stroke-width="1.4"/>
<path d="M1447.2,1746.6 L1454.8,1739.7 L1473.6,1739.7 L1466.1,1746.6 Z" fill="#fff" stroke="#4bacc6" stroke-width="1.6" stroke-linejoin="round"/>
<path d="M1466.1,1746.6 L1473.6,1739.7 L1473.6,1769.0 L1466.1,1776.0 Z" fill="#e9e9e9" stroke="#4bacc6" stroke-width="1.6" stroke-linejoin="round"/>
<rect x="1447.21" y="1746.60" width="18.87" height="29.36" fill="#fff" stroke="#4bacc6" stroke-width="1.6"/>
<path d="M1469.4,1746.6 L1477.0,1739.7 L1496.3,1739.7 L1488.7,1746.6 Z" fill="#fff" stroke="#9a9a9a" stroke-width="1.4" stroke-linejoin="round"/>
<path d="M1488.7,1746.6 L1496.3,1739.7 L1496.3,1769.0 L1488.7,1776.0 Z" fill="#e9e9e9" stroke="#9a9a9a" stroke-width="1.4" stroke-linejoin="round"/>
<rect x="1469.43" y="1746.60" width="19.29" height="29.36" fill="#fff" stroke="#9a9a9a" stroke-width="1.4"/>
<text x="1178.00" y="1764.80" font-family='"Liberation Serif", "DejaVu Serif", serif' font-size="36" font-weight="bold">x</text>
<line x1="1201.50" y1="1757.50" x2="1220.00" y2="1757.50" stroke="#000" stroke-width="1.6" marker-end="url(#ah)"/>
<circle cx="1231.2" cy="1757.5" r="9.4" fill="#f4f4f4" stroke="#000" stroke-width="1.5"/><circle cx="1231.2" cy="1757.5" r="1.5" fill="#000"/>
<line x1="1241.00" y1="1757.50" x2="1253.50" y2="1757.50" stroke="#000" stroke-width="1.6" marker-end="url(#ah)"/>
<text x="1172.50" y="1815.20" font-family='"Liberation Serif", "DejaVu Serif", serif' font-size="33" font-weight="bold">M</text>
<path d="M1201.5,1808.5 L1231.2,1808.5 L1231.2,1769" fill="none" stroke="#000" stroke-width="1.6" marker-end="url(#ah)"/>
<text x="1176.00" y="1866.50" font-family='"Liberation Serif", "DejaVu Serif", serif' font-size="34" font-weight="bold">y</text>
<text x="1178.50" y="1860.00" font-family='"Liberation Serif", "DejaVu Serif", serif' font-size="26" font-weight="bold">ˆ</text>
<text x="1193.00" y="1856.00" font-family='"Liberation Serif", "DejaVu Serif", serif' font-size="17.5" font-weight="bold">self</text>
<text x="1209.80" y="1872.60" font-family='"Liberation Sans", "DejaVu Sans", sans-serif' font-size="8.6" font-weight="bold" textLength="33.20" lengthAdjust="spacingAndGlyphs">resize</text>
<line x1="1201.50" y1="1863.00" x2="1253.50" y2="1863.00" stroke="#000" stroke-width="1.8" marker-end="url(#ah)"/>
<path d="M1491.9,1757.5 Q1517.0,1757.5 1517.0,1777.4 L1517.0,1793.4" fill="none" stroke="#000" stroke-width="1.5" marker-end="url(#ah)"/>
<path d="M1491.9,1848.7 Q1517.0,1848.7 1517.0,1829.8 L1517.0,1815.2" fill="none" stroke="#000" stroke-width="1.5" marker-end="url(#ah)"/>
<circle cx="1516.9" cy="1804.2" r="9.4" fill="#f4f4f4" stroke="#000" stroke-width="1.5"/>
<text x="1516.90" y="1807.60" font-family='"Liberation Sans", "DejaVu Sans", sans-serif' font-size="9.5" font-weight="bold" text-anchor="middle">C</text>
<line x1="1527.00" y1="1804.20" x2="1543.50" y2="1804.20" stroke="#000" stroke-width="1.6" marker-end="url(#ah)"/>
<path d="M1546.1,1791.7 L1552.4,1785.4 L1570.9,1785.4 L1564.6,1791.7 Z" fill="#fff" stroke="#9a9a9a" stroke-width="1.4" stroke-linejoin="round"/>
<path d="M1564.6,1791.7 L1570.9,1785.4 L1570.9,1814.7 L1564.6,1821.0 Z" fill="#e9e9e9" stroke="#9a9a9a" stroke-width="1.4" stroke-linejoin="round"/>
<rect x="1546.12" y="1791.66" width="18.45" height="29.35" fill="#fff" stroke="#9a9a9a" stroke-width="1.4"/>
<path d="M1568.1,1791.7 L1574.4,1785.4 L1592.2,1785.4 L1586.0,1791.7 Z" fill="#fff" stroke="#9a9a9a" stroke-width="1.4" stroke-linejoin="round"/>
<path d="M1586.0,1791.7 L1592.2,1785.4 L1592.2,1814.7 L1586.0,1821.0 Z" fill="#e9e9e9" stroke="#9a9a9a" stroke-width="1.4" stroke-linejoin="round"/>
<rect x="1568.14" y="1791.66" width="17.82" height="29.35" fill="#fff" stroke="#9a9a9a" stroke-width="1.4"/>
<path d="M1586.0,1784.7 L1595.4,1776.4 L1615.3,1776.4 L1605.9,1784.7 Z" fill="#fff" stroke="#d0685c" stroke-width="1.6" stroke-linejoin="round"/>
<path d="M1605.9,1784.7 L1615.3,1776.4 L1615.3,1820.4 L1605.9,1828.8 Z" fill="#e9e9e9" stroke="#d0685c" stroke-width="1.6" stroke-linejoin="round"/>
<rect x="1585.96" y="1784.74" width="19.92" height="44.03" fill="#fff" stroke="#d0685c" stroke-width="1.6"/>
<path d="M1610.1,1784.7 L1619.5,1776.4 L1639.4,1776.4 L1630.0,1784.7 Z" fill="#fff" stroke="#9a9a9a" stroke-width="1.4" stroke-linejoin="round"/>
<path d="M1630.0,1784.7 L1639.4,1776.4 L1639.4,1820.4 L1630.0,1828.8 Z" fill="#e9e9e9" stroke="#9a9a9a" stroke-width="1.4" stroke-linejoin="round"/>
<rect x="1610.07" y="1784.74" width="19.92" height="44.03" fill="#fff" stroke="#9a9a9a" stroke-width="1.4"/>
<path d="M1633.5,1784.7 L1643.0,1776.4 L1662.5,1776.4 L1653.0,1784.7 Z" fill="#fff" stroke="#9a9a9a" stroke-width="1.4" stroke-linejoin="round"/>
<path d="M1653.0,1784.7 L1662.5,1776.4 L1662.5,1820.4 L1653.0,1828.8 Z" fill="#e9e9e9" stroke="#9a9a9a" stroke-width="1.4" stroke-linejoin="round"/>
<rect x="1633.55" y="1784.74" width="19.50" height="44.03" fill="#fff" stroke="#9a9a9a" stroke-width="1.4"/>
<path d="M1653.0,1779.5 L1670.9,1765.9 L1696.0,1765.9 L1678.2,1779.5 Z" fill="#fff" stroke="#d0685c" stroke-width="1.6" stroke-linejoin="round"/>
<path d="M1678.2,1779.5 L1696.0,1765.9 L1696.0,1826.7 L1678.2,1840.3 Z" fill="#e9e9e9" stroke="#d0685c" stroke-width="1.6" stroke-linejoin="round"/>
<rect x="1653.05" y="1779.50" width="25.16" height="60.80" fill="#fff" stroke="#d0685c" stroke-width="1.6"/>
<path d="M1682.4,1779.5 L1700.2,1765.9 L1724.3,1765.9 L1706.5,1779.5 Z" fill="#fff" stroke="#9a9a9a" stroke-width="1.4" stroke-linejoin="round"/>
<path d="M1706.5,1779.5 L1724.3,1765.9 L1724.3,1826.7 L1706.5,1840.3 Z" fill="#e9e9e9" stroke="#9a9a9a" stroke-width="1.4" stroke-linejoin="round"/>
<rect x="1682.40" y="1779.50" width="24.11" height="60.80" fill="#fff" stroke="#9a9a9a" stroke-width="1.4"/>
<path d="M1710.7,1779.5 L1728.5,1765.9 L1752.6,1765.9 L1734.8,1779.5 Z" fill="#fff" stroke="#9a9a9a" stroke-width="1.4" stroke-linejoin="round"/>
<path d="M1734.8,1779.5 L1752.6,1765.9 L1752.6,1826.7 L1734.8,1840.3 Z" fill="#e9e9e9" stroke="#9a9a9a" stroke-width="1.4" stroke-linejoin="round"/>
<rect x="1710.70" y="1779.50" width="24.11" height="60.80" fill="#fff" stroke="#9a9a9a" stroke-width="1.4"/>
<path d="M1734.8,1774.3 L1760.0,1753.9 L1790.4,1753.9 L1765.2,1774.3 Z" fill="#fff" stroke="#d0685c" stroke-width="1.6" stroke-linejoin="round"/>
<path d="M1765.2,1774.3 L1790.4,1753.9 L1790.4,1831.5 L1765.2,1851.8 Z" fill="#e9e9e9" stroke="#d0685c" stroke-width="1.6" stroke-linejoin="round"/>
<rect x="1734.81" y="1774.26" width="30.40" height="77.57" fill="#fff" stroke="#d0685c" stroke-width="1.6"/>
<path d="M1769.4,1774.3 L1794.6,1753.9 L1823.9,1753.9 L1798.8,1774.3 Z" fill="#fff" stroke="#9a9a9a" stroke-width="1.4" stroke-linejoin="round"/>
<path d="M1798.8,1774.3 L1823.9,1753.9 L1823.9,1831.5 L1798.8,1851.8 Z" fill="#e9e9e9" stroke="#9a9a9a" stroke-width="1.4" stroke-linejoin="round"/>
<rect x="1769.40" y="1774.26" width="29.35" height="77.57" fill="#fff" stroke="#9a9a9a" stroke-width="1.4"/>
<path d="M1803.4,1774.3 L1828.9,1753.9 L1858.5,1753.9 L1832.9,1774.3 Z" fill="#fff" stroke="#9a9a9a" stroke-width="1.4" stroke-linejoin="round"/>
<path d="M1832.9,1774.3 L1858.5,1753.9 L1858.5,1831.5 L1832.9,1851.8 Z" fill="#e9e9e9" stroke="#9a9a9a" stroke-width="1.4" stroke-linejoin="round"/>
<rect x="1803.37" y="1774.26" width="29.56" height="77.57" fill="#fff" stroke="#9a9a9a" stroke-width="1.4"/>
<text x="1854.30" y="1799.40" font-family='"Liberation Sans", "DejaVu Sans", sans-serif' font-size="10.5" font-weight="bold" textLength="28.30" lengthAdjust="spacingAndGlyphs">conv</text>
<line x1="1846.00" y1="1804.20" x2="1892.50" y2="1804.20" stroke="#000" stroke-width="1.6" marker-end="url(#ah)"/>
<text x="1897.00" y="1816.20" font-family='"Liberation Serif", "DejaVu Serif", serif' font-size="36" font-weight="bold">x</text>
<text x="1900.50" y="1809.00" font-family='"Liberation Serif", "DejaVu Serif", serif' font-size="26" font-weight="bold">ˆ</text>
<text x="1282.80" y="1703.60" font-family='"Liberation Sans", "DejaVu Sans", sans-serif' font-size="8.6" font-weight="bold" textLength="60.20" lengthAdjust="spacingAndGlyphs">128×128×32</text>
<text x="1353.50" y="1714.90" font-family='"Liberation Sans", "DejaVu Sans", sans-serif' font-size="8.6" font-weight="bold" textLength="48.20" lengthAdjust="spacingAndGlyphs">64×64×64</text>
<text x="1408.00" y="1725.40" font-family='"Liberation Sans", "DejaVu Sans", sans-serif' font-size="8.6" font-weight="bold" textLength="53.90" lengthAdjust="spacingAndGlyphs">32×32×128</text>
<text x="1457.70" y="1736.50" font-family='"Liberation Sans", "DejaVu Sans", sans-serif' font-size="8.6" font-weight="bold" textLength="54.10" lengthAdjust="spacingAndGlyphs">16×16×256</text>
<text x="1454.10" y="1875.60" font-family='"Liberation Sans", "DejaVu Sans", sans-serif' font-size="8.6" font-weight="bold" textLength="53.90" lengthAdjust="spacingAndGlyphs">16×16×256</text>
<text x="1398.10" y="1884.40" font-family='"Liberation Sans", "DejaVu Sans", sans-serif' font-size="8.6" font-weight="bold" textLength="53.90" lengthAdjust="spacingAndGlyphs">32×32×128</text>
<text x="1336.70" y="1895.30" font-family='"Liberation Sans", "DejaVu Sans", sans-serif' font-size="8.6" font-weight="bold" textLength="48.20" lengthAdjust="spacingAndGlyphs">64×64×64</text>
<text x="1256.40" y="1907.40" font-family='"Liberation Sans", "DejaVu Sans", sans-serif' font-size="8.6" font-weight="bold" textLength="60.00" lengthAdjust="spacingAndGlyphs">128×128×32</text>
<text x="1531.00" y="1781.60" font-family='"Liberation Sans", "DejaVu Sans", sans-serif' font-size="8.6" font-weight="bold" textLength="55.00" lengthAdjust="spacingAndGlyphs">16×16×512</text>
<text x="1599.60" y="1772.20" font-family='"Liberation Sans", "DejaVu Sans", sans-serif' font-size="8.6" font-weight="bold" textLength="54.50" lengthAdjust="spacingAndGlyphs">32×32×256</text>
<text x="1683.90" y="1761.00" font-family='"Liberation Sans", "DejaVu Sans", sans-serif' font-size="8.6" font-weight="bold" textLength="54.50" lengthAdjust="spacingAndGlyphs">64×64×128</text>
<text x="1777.80" y="1749.50" font-family='"Liberation Sans", "DejaVu Sans", sans-serif' font-size="8.6" font-weight="bold" textLength="59.70" lengthAdjust="spacingAndGlyphs">128×128×64</text>
<rect x="1509.40" y="1862.90" width="343.20" height="44.50" fill="#f6f6f6" rx="22.2" filter="url(#sh)"/>
<path d="M1533.5,1872.2 L1538.8,1868.6 L1551.4,1868.6 L1546.1,1872.2 Z" fill="#fff" stroke="#9a9a9a" stroke-width="1.3" stroke-linejoin="round"/>
<path d="M1546.1,1872.2 L1551.4,1868.6 L1551.4,1880.8 L1546.1,1884.3 Z" fill="#e9e9e9" stroke="#9a9a9a" stroke-width="1.3" stroke-linejoin="round"/>
<rect x="1533.54" y="1872.17" width="12.58" height="12.16" fill="#fff" stroke="#9a9a9a" stroke-width="1.3"/>
<path d="M1637.3,1872.2 L1642.6,1868.6 L1655.1,1868.6 L1649.9,1872.2 Z" fill="#fff" stroke="#4bacc6" stroke-width="1.3" stroke-linejoin="round"/>
<path d="M1649.9,1872.2 L1655.1,1868.6 L1655.1,1880.8 L1649.9,1884.3 Z" fill="#e9e9e9" stroke="#4bacc6" stroke-width="1.3" stroke-linejoin="round"/>
<rect x="1637.32" y="1872.17" width="12.58" height="12.16" fill="#fff" stroke="#4bacc6" stroke-width="1.3"/>
<path d="M1747.0,1872.2 L1752.2,1868.6 L1764.8,1868.6 L1759.5,1872.2 Z" fill="#fff" stroke="#d0685c" stroke-width="1.3" stroke-linejoin="round"/>
<path d="M1759.5,1872.2 L1764.8,1868.6 L1764.8,1880.8 L1759.5,1884.3 Z" fill="#e9e9e9" stroke="#d0685c" stroke-width="1.3" stroke-linejoin="round"/>
<rect x="1746.97" y="1872.17" width="12.58" height="12.16" fill="#fff" stroke="#d0685c" stroke-width="1.3"/>
<text x="1556.60" y="1880.10" font-family='"Liberation Sans", "DejaVu Sans", sans-serif' font-size="9.6" font-weight="bold" textLength="73.40" lengthAdjust="spacingAndGlyphs">Convolution</text>
<text x="1660.40" y="1880.10" font-family='"Liberation Sans", "DejaVu Sans", sans-serif' font-size="9.6" font-weight="bold" textLength="78.60" lengthAdjust="spacingAndGlyphs">Downsample</text>
<text x="1770.50" y="1880.10" font-family='"Liberation Sans", "DejaVu Sans", sans-serif' font-size="9.6" font-weight="bold" textLength="59.70" lengthAdjust="spacingAndGlyphs">Upsample</text>
<circle cx="1584.5" cy="1895.2" r="7" fill="#fff" stroke="#000" stroke-width="1.3"/><circle cx="1584.5" cy="1895.2" r="1.2" fill="#000"/>
<text x="1598.50" y="1899.00" font-family='"Liberation Sans", "DejaVu Sans", sans-serif' font-size="9.6" font-weight="bold" textLength="83.90" lengthAdjust="spacingAndGlyphs">Multiplication</text>
<circle cx="1701.7" cy="1895.2" r="7" fill="#fff" stroke="#000" stroke-width="1.3"/>
<text x="1701.70" y="1898.20" font-family='"Liberation Sans", "DejaVu Sans", sans-serif' font-size="8" font-weight="bold" text-anchor="middle">C</text>
<text x="1715.90" y="1899.00" font-family='"Liberation Sans", "DejaVu Sans", sans-serif' font-size="9.6" font-weight="bold" textLength="87.50" lengthAdjust="spacingAndGlyphs">Concatenation</text>
</g>
<g id="sec-c">
<text x="1977.90" y="1488.90" font-family='"Liberation Sans", "DejaVu Sans", sans-serif' font-size="41.5" font-weight="bold" textLength="270.70" lengthAdjust="spacingAndGlyphs">Joint training:</text>
<text x="1977.90" y="1674.30" font-family='"Liberation Sans", "DejaVu Sans", sans-serif' font-size="41.5" font-weight="bold" textLength="206.40" lengthAdjust="spacingAndGlyphs">Inter loop:</text>
<text x="1979.60" y="1871.10" font-family='"Liberation Sans", "DejaVu Sans", sans-serif' font-size="41.5" font-weight="bold" textLength="226.10" lengthAdjust="spacingAndGlyphs">Outer loop:</text>
<text x="2220.70" y="1580.00" font-family='"Liberation Sans", "DejaVu Sans", sans-serif' font-size="32.7" font-weight="bold" font-style="italic" fill="#a6a6a6" textLength="20.00" lengthAdjust="spacingAndGlyphs">K</text>
<text x="2251.00" y="1580.00" font-family='"Liberation Sans", "DejaVu Sans", sans-serif' font-size="32.7" font-weight="bold" fill="#a6a6a6" textLength="132.20" lengthAdjust="spacingAndGlyphs">updates</text>
<text x="2261.50" y="1489.00" font-family='"DejaVu Sans", "Liberation Sans", sans-serif' font-size="31" textLength="22.50" lengthAdjust="spacingAndGlyphs">ℒ</text>
<text x="2287.00" y="1494.50" font-family='"Liberation Serif", "DejaVu Serif", serif' font-size="20" font-style="italic" textLength="30.00" lengthAdjust="spacingAndGlyphs">pri</text>
<text transform="translate(2326.5,1492.5) scale(0.9,1.22)" font-family='"Liberation Serif", "DejaVu Serif", serif' font-size="34">(</text>
<text x="2340.50" y="1489.00" font-family='"Liberation Serif", "DejaVu Serif", serif' font-size="30" font-style="italic">y</text>
<text x="2343.00" y="1479.50" font-family='"Liberation Serif", "DejaVu Serif", serif' font-size="22">ˆ</text>
<text x="2357.00" y="1489.00" font-family='"Liberation Serif", "DejaVu Serif", serif' font-size="30">,</text>
<text x="2370.50" y="1489.00" font-family='"Liberation Serif", "DejaVu Serif", serif' font-size="30" font-style="italic">y</text>
<text x="2389.00" y="1489.00" font-family='"Liberation Serif", "DejaVu Serif", serif' font-size="30">;</text>
<text x="2402.50" y="1489.00" font-family='"Liberation Serif", "DejaVu Serif", serif' font-size="30" font-style="italic">θ</text>
<text x="2420.70" y="1494.50" font-family='"Liberation Serif", "DejaVu Serif", serif' font-size="20" font-style="italic" textLength="30.40" lengthAdjust="spacingAndGlyphs">pri</text>
<text transform="translate(2452.5,1492.5) scale(0.9,1.22)" font-family='"Liberation Serif", "DejaVu Serif", serif' font-size="34">)</text>
<text x="2470.50" y="1489.00" font-family='"Liberation Serif", "DejaVu Serif", serif' font-size="31" textLength="21.50" lengthAdjust="spacingAndGlyphs">+</text>
<text x="2506.00" y="1489.00" font-family='"Liberation Serif", "DejaVu Serif", serif' font-size="31" font-style="italic" textLength="18.50" lengthAdjust="spacingAndGlyphs">μ</text>
<text x="2527.50" y="1489.00" font-family='"DejaVu Sans", "Liberation Sans", sans-serif' font-size="31" textLength="23.50" lengthAdjust="spacingAndGlyphs">ℒ</text>
<text x="2554.60" y="1494.50" font-family='"Liberation Serif", "DejaVu Serif", serif' font-size="20" font-style="italic" textLength="34.00" lengthAdjust="spacingAndGlyphs">aux</text>
<text x="2596.50" y="1490.50" font-family='"Liberation Serif", "DejaVu Serif", serif' font-size="33">(</text>
<text x="2610.00" y="1489.00" font-family='"Liberation Serif", "DejaVu Serif", serif' font-size="30" font-style="italic" textLength="16.00" lengthAdjust="spacingAndGlyphs">x</text>
<text x="2613.00" y="1479.50" font-family='"Liberation Serif", "DejaVu Serif", serif' font-size="22">ˆ</text>
<text x="2629.50" y="1489.00" font-family='"Liberation Serif", "DejaVu Serif", serif' font-size="30">,</text>
<text x="2640.40" y="1489.00" font-family='"Liberation Serif", "DejaVu Serif", serif' font-size="30" font-style="italic" textLength="16.00" lengthAdjust="spacingAndGlyphs">x</text>
<text x="2660.00" y="1489.00" font-family='"Liberation Serif", "DejaVu Serif", serif' font-size="30">,</text>
<text x="2670.50" y="1489.00" font-family='"Liberation Serif", "DejaVu Serif", serif' font-size="30" font-style="italic" textLength="34.00" lengthAdjust="spacingAndGlyphs">M</text>
<text x="2708.00" y="1489.00" font-family='"Liberation Serif", "DejaVu Serif", serif' font-size="30">;</text>
<text x="2718.50" y="1489.00" font-family='"Liberation Serif", "DejaVu Serif", serif' font-size="30" font-style="italic">θ</text>
<text x="2736.80" y="1494.50" font-family='"Liberation Serif", "DejaVu Serif", serif' font-size="20" font-style="italic" textLength="30.30" lengthAdjust="spacingAndGlyphs">pri</text>
<text x="2770.00" y="1489.00" font-family='"Liberation Serif", "DejaVu Serif", serif' font-size="30">,</text>
<text x="2783.00" y="1489.00" font-family='"Liberation Serif", "DejaVu Serif", serif' font-size="30" font-style="italic">θ</text>
<text x="2801.00" y="1494.50" font-family='"Liberation Serif", "DejaVu Serif", serif' font-size="20" font-style="italic" textLength="35.80" lengthAdjust="spacingAndGlyphs">aux</text>
<text x="2838.00" y="1490.50" font-family='"Liberation Serif", "DejaVu Serif", serif' font-size="33">)</text>
<line x1="2554.60" y1="1524.60" x2="2554.60" y2="1614.00" stroke="#000" stroke-width="2.8" />
<path d="M2548.5,1602.5 L2554.6,1614.0 L2560.7,1602.5" fill="none" stroke="#000" stroke-width="2.8" stroke-linecap="round" stroke-linejoin="miter"/>
<line x1="2554.60" y1="1708.00" x2="2554.60" y2="1797.40" stroke="#000" stroke-width="2.8" />
<path d="M2548.5,1785.9 L2554.6,1797.4 L2560.7,1785.9" fill="none" stroke="#000" stroke-width="2.8" stroke-linecap="round" stroke-linejoin="miter"/>
<path d="M2788,1860.4 L2833.9,1860.4 L2833.9,1566.4 L2584,1566.4" fill="none" stroke="#000" stroke-width="2.8" stroke-linejoin="miter"/>
<line x1="2600.00" y1="1566.40" x2="2582.00" y2="1566.40" stroke="#000" stroke-width="2.8" />
<path d="M2593.5,1560.3 L2582.0,1566.4 L2593.5,1572.5" fill="none" stroke="#000" stroke-width="2.8" stroke-linecap="round" stroke-linejoin="miter"/>
<path d="M2376.3,1710.6 A67.2,67.2 0 1 1 2377.2,1613.2" fill="none" stroke="#000" stroke-width="3"/>
<path d="M2363.7,1615.8 L2378.2,1613.8 L2371.4,1600.6" fill="none" stroke="#000" stroke-width="3" stroke-linecap="round"/>
<text x="2352.50" y="1673.40" font-family='"Liberation Serif", "DejaVu Serif", serif' font-size="30" font-style="italic">θ</text>
<text x="2356.00" y="1661.40" font-family='"Liberation Serif", "DejaVu Serif", serif' font-size="22">ˆ</text>
<text x="2370.00" y="1678.40" font-family='"Liberation Serif", "DejaVu Serif", serif' font-size="19" font-style="italic">i</text>
<text x="2388.60" y="1672.40" font-family='"DejaVu Serif", "Liberation Serif", serif' font-size="29" textLength="30.30" lengthAdjust="spacingAndGlyphs">←</text>
<text x="2427.70" y="1673.40" font-family='"Liberation Serif", "DejaVu Serif", serif' font-size="30" font-style="italic">θ</text>
<text x="2451.10" y="1672.40" font-family='"DejaVu Serif", "Liberation Serif", serif' font-size="29" fill="#9a9a9a" textLength="23.00" lengthAdjust="spacingAndGlyphs">−</text>
<text x="2484.00" y="1673.40" font-family='"Liberation Serif", "DejaVu Serif", serif' font-size="31" font-style="italic" textLength="20.50" lengthAdjust="spacingAndGlyphs">α</text>
<text x="2511.50" y="1673.40" font-family='"DejaVu Serif", "Liberation Serif", serif' font-size="29" textLength="23.50" lengthAdjust="spacingAndGlyphs">∇</text>
<text x="2537.90" y="1678.40" font-family='"Liberation Serif", "DejaVu Serif", serif' font-size="19" font-style="italic">θ</text>
<text x="2552.50" y="1673.40" font-family='"DejaVu Sans", "Liberation Sans", sans-serif' font-size="31" textLength="23.50" lengthAdjust="spacingAndGlyphs">ℒ</text>
<text x="2579.60" y="1678.90" font-family='"Liberation Serif", "DejaVu Serif", serif' font-size="20" font-style="italic" textLength="31.00" lengthAdjust="spacingAndGlyphs">aux</text>
<text x="2618.00" y="1674.90" font-family='"Liberation Serif", "DejaVu Serif", serif' font-size="33">(</text>
<text x="2631.40" y="1673.40" font-family='"Liberation Serif", "DejaVu Serif", serif' font-size="30" font-style="italic" textLength="16.00" lengthAdjust="spacingAndGlyphs">x</text>
<text x="2634.40" y="1663.90" font-family='"Liberation Serif", "DejaVu Serif", serif' font-size="22">ˆ</text>
<text x="2649.30" y="1678.40" font-family='"Liberation Serif", "DejaVu Serif", serif' font-size="19" font-style="italic">i</text>
<text x="2657.50" y="1673.40" font-family='"Liberation Serif", "DejaVu Serif", serif' font-size="30">,</text>
<text x="2668.90" y="1673.40" font-family='"Liberation Serif", "DejaVu Serif", serif' font-size="30" font-style="italic" textLength="16.00" lengthAdjust="spacingAndGlyphs">x</text>
<text x="2686.80" y="1678.40" font-family='"Liberation Serif", "DejaVu Serif", serif' font-size="19" font-style="italic">i</text>
<text x="2694.50" y="1673.40" font-family='"Liberation Serif", "DejaVu Serif", serif' font-size="30">,</text>
<text x="2706.20" y="1673.40" font-family='"Liberation Serif", "DejaVu Serif", serif' font-size="30" font-style="italic" textLength="34.00" lengthAdjust="spacingAndGlyphs">M</text>
<text x="2741.50" y="1674.90" font-family='"Liberation Serif", "DejaVu Serif", serif' font-size="33">)</text>
<text x="2326.00" y="1869.80" font-family='"Liberation Serif", "DejaVu Serif", serif' font-size="30" font-style="italic">θ</text>
<text x="2351.10" y="1868.80" font-family='"DejaVu Serif", "Liberation Serif", serif' font-size="29" textLength="30.30" lengthAdjust="spacingAndGlyphs">←</text>
<text x="2390.30" y="1869.80" font-family='"Liberation Serif", "DejaVu Serif", serif' font-size="30" font-style="italic">θ</text>
<text x="2415.40" y="1868.80" font-family='"DejaVu Serif", "Liberation Serif", serif' font-size="29" fill="#a8a8a8" textLength="25.00" lengthAdjust="spacingAndGlyphs">−</text>
<text x="2450.00" y="1869.80" font-family='"Liberation Serif", "DejaVu Serif", serif' font-size="31" font-style="italic" textLength="19.00" lengthAdjust="spacingAndGlyphs">β</text>
<text transform="translate(2478.6,1873) scale(1.22,1)" font-family='"DejaVu Serif","DejaVu Sans",serif' font-size="52">∑</text>
<text x="2494.60" y="1825.70" font-family='"Liberation Serif", "DejaVu Serif", serif' font-size="18.5" font-style="italic">N</text>
<text x="2480.70" y="1903.20" font-family='"Liberation Serif", "DejaVu Serif", serif' font-size="18.5" font-style="italic">n</text>
<text x="2495.50" y="1903.20" font-family='"Liberation Serif", "DejaVu Serif", serif' font-size="18.5">=</text>
<text x="2515.50" y="1903.20" font-family='"Liberation Serif", "DejaVu Serif", serif' font-size="18.5">1</text>
<text x="2534.80" y="1869.80" font-family='"DejaVu Serif", "Liberation Serif", serif' font-size="30" textLength="25.00" lengthAdjust="spacingAndGlyphs">∇</text>
<text x="2562.90" y="1874.80" font-family='"Liberation Serif", "DejaVu Serif", serif' font-size="19" font-style="italic">θ</text>
<text x="2578.40" y="1869.80" font-family='"DejaVu Sans", "Liberation Sans", sans-serif' font-size="31" textLength="22.50" lengthAdjust="spacingAndGlyphs">ℒ</text>
<text x="2604.60" y="1875.30" font-family='"Liberation Serif", "DejaVu Serif", serif' font-size="20" font-style="italic" textLength="30.40" lengthAdjust="spacingAndGlyphs">pri</text>
<text transform="translate(2640.0,1876.3) scale(0.9,1.45)" font-family='"Liberation Serif", "DejaVu Serif", serif' font-size="36">(</text>
<text x="2656.20" y="1869.80" font-family='"Liberation Serif", "DejaVu Serif", serif' font-size="30" font-style="italic">y</text>
<text x="2658.70" y="1860.30" font-family='"Liberation Serif", "DejaVu Serif", serif' font-size="22">ˆ</text>
<text x="2673.50" y="1874.80" font-family='"Liberation Serif", "DejaVu Serif", serif' font-size="19" font-style="italic">i</text>
<text x="2682.50" y="1869.80" font-family='"Liberation Serif", "DejaVu Serif", serif' font-size="30">,</text>
<text x="2697.30" y="1869.80" font-family='"Liberation Serif", "DejaVu Serif", serif' font-size="30" font-style="italic">y</text>
<text x="2713.80" y="1874.80" font-family='"Liberation Serif", "DejaVu Serif", serif' font-size="19" font-style="italic">i</text>
<text x="2722.50" y="1869.80" font-family='"Liberation Serif", "DejaVu Serif", serif' font-size="30">;</text>
<text x="2736.60" y="1869.80" font-family='"Liberation Serif", "DejaVu Serif", serif' font-size="30" font-style="italic">θ</text>
<text x="2740.00" y="1857.80" font-family='"Liberation Serif", "DejaVu Serif", serif' font-size="22">ˆ</text>
<text x="2754.50" y="1874.80" font-family='"Liberation Serif", "DejaVu Serif", serif' font-size="19" font-style="italic">i</text>
<text transform="translate(2763.0,1876.3) scale(0.9,1.45)" font-family='"Liberation Serif", "DejaVu Serif", serif' font-size="36">)</text>
</g>
</g>
<g id="experiments">
<rect x="2939.40" y="323.00" width="997.00" height="995.00" fill="#fff" rx="38" stroke="#a626a6" stroke-width="1.7"/>
<path d="M2938.4,412 L2938.4,360 Q2938.4,322 2976.4,322 L3899.4,322 Q3937.4,322 3937.4,360 L3937.4,412 Z" fill="#990099"/>
<text transform="translate(3438.00,391.40) scale(0.9300,1)" font-family='"Liberation Sans", "DejaVu Sans", sans-serif' font-size="48" font-weight="bold" fill="#fff" text-anchor="middle" textLength="296.24" lengthAdjust="spacingAndGlyphs">Experiments</text>
<g id="table-mpii">
<line x1="2982.00" y1="463.60" x2="3894.00" y2="463.60" stroke="#7a7a7a" stroke-width="1.1" />
<line x1="2982.00" y1="486.10" x2="3894.00" y2="486.10" stroke="#7a7a7a" stroke-width="1.1" />
<line x1="2982.00" y1="508.70" x2="3894.00" y2="508.70" stroke="#7a7a7a" stroke-width="1.1" />
<line x1="2982.00" y1="664.20" x2="3894.00" y2="664.20" stroke="#7a7a7a" stroke-width="1.1" />
<line x1="2982.00" y1="687.20" x2="3894.00" y2="687.20" stroke="#7a7a7a" stroke-width="1.1" />
<line x1="2982.00" y1="754.30" x2="3894.00" y2="754.30" stroke="#7a7a7a" stroke-width="1.1" />
<line x1="3140.20" y1="463.60" x2="3140.20" y2="486.10" stroke="#7a7a7a" stroke-width="1.1" />
<line x1="3140.20" y1="508.70" x2="3140.20" y2="664.20" stroke="#7a7a7a" stroke-width="1.1" />
<line x1="3140.20" y1="687.20" x2="3140.20" y2="754.30" stroke="#7a7a7a" stroke-width="1.1" />
<line x1="3276.40" y1="463.60" x2="3276.40" y2="486.10" stroke="#7a7a7a" stroke-width="1.1" />
<line x1="3276.40" y1="508.70" x2="3276.40" y2="664.20" stroke="#7a7a7a" stroke-width="1.1" />
<line x1="3276.40" y1="687.20" x2="3276.40" y2="754.30" stroke="#7a7a7a" stroke-width="1.1" />
<line x1="3809.70" y1="463.60" x2="3809.70" y2="486.10" stroke="#7a7a7a" stroke-width="1.1" />
<line x1="3809.70" y1="508.70" x2="3809.70" y2="664.20" stroke="#7a7a7a" stroke-width="1.1" />
<line x1="3809.70" y1="687.20" x2="3809.70" y2="754.30" stroke="#7a7a7a" stroke-width="1.1" />
<text x="3003.50" y="478.90" font-family='"Liberation Serif", "DejaVu Serif", serif' font-size="18.4">Method</text>
<text x="3208.50" y="478.90" font-family='"Liberation Serif", "DejaVu Serif", serif' font-size="18.4" text-anchor="middle">Backbone</text>
<text x="3314.70" y="478.90" font-family='"Liberation Serif", "DejaVu Serif", serif' font-size="18.4" text-anchor="middle">Hea.</text>
<text x="3390.80" y="478.90" font-family='"Liberation Serif", "DejaVu Serif", serif' font-size="18.4" text-anchor="middle">Sho.</text>
<text x="3466.10" y="478.90" font-family='"Liberation Serif", "DejaVu Serif", serif' font-size="18.4" text-anchor="middle">Elb.</text>
<text x="3541.40" y="478.90" font-family='"Liberation Serif", "DejaVu Serif", serif' font-size="18.4" text-anchor="middle">Wri.</text>
<text x="3616.30" y="478.90" font-family='"Liberation Serif", "DejaVu Serif", serif' font-size="18.4" text-anchor="middle">Hip</text>
<text x="3692.40" y="478.90" font-family='"Liberation Serif", "DejaVu Serif", serif' font-size="18.4" text-anchor="middle">Kne.</text>
<text x="3770.60" y="478.90" font-family='"Liberation Serif", "DejaVu Serif", serif' font-size="18.4" text-anchor="middle">Ank.</text>
<text x="3852.10" y="478.90" font-family='"Liberation Serif", "DejaVu Serif", serif' font-size="18.4" text-anchor="middle">Mean</text>
<text x="3438.00" y="501.70" font-family='"Liberation Serif", "DejaVu Serif", serif' font-size="18.4" text-anchor="middle">Conventional pose estimation methods</text>
<text x="3438.00" y="679.80" font-family='"Liberation Serif", "DejaVu Serif", serif' font-size="18.4" text-anchor="middle">Test-time adaptation methods</text>
<text x="3003.50" y="524.80" font-family='"Liberation Serif", "DejaVu Serif", serif' font-size="18.4">SimpleBaseline</text>
<text x="3161.60" y="524.80" font-family='"Liberation Serif", "DejaVu Serif", serif' font-size="18.4">ResNet-101</text>
<text x="3314.70" y="524.80" font-family='"Liberation Serif", "DejaVu Serif", serif' font-size="18.4" text-anchor="middle">96.9</text>
<text x="3390.80" y="524.80" font-family='"Liberation Serif", "DejaVu Serif", serif' font-size="18.4" text-anchor="middle">95.9</text>
<text x="3466.10" y="524.80" font-family='"Liberation Serif", "DejaVu Serif", serif' font-size="18.4" text-anchor="middle">89.5</text>
<text x="3541.40" y="524.80" font-family='"Liberation Serif", "DejaVu Serif", serif' font-size="18.4" text-anchor="middle">84.4</text>
<text x="3616.30" y="524.80" font-family='"Liberation Serif", "DejaVu Serif", serif' font-size="18.4" text-anchor="middle">88.4</text>
<text x="3692.40" y="524.80" font-family='"Liberation Serif", "DejaVu Serif", serif' font-size="18.4" text-anchor="middle">84.5</text>
<text x="3770.60" y="524.80" font-family='"Liberation Serif", "DejaVu Serif", serif' font-size="18.4" text-anchor="middle">80.7</text>
<text x="3852.10" y="524.80" font-family='"Liberation Serif", "DejaVu Serif", serif' font-size="18.4" text-anchor="middle">89.1</text>
<text x="3003.50" y="546.88" font-family='"Liberation Serif", "DejaVu Serif", serif' font-size="18.4">HRNet</text>
<text x="3161.60" y="546.88" font-family='"Liberation Serif", "DejaVu Serif", serif' font-size="18.4">HRNet-W32</text>
<text x="3314.70" y="546.88" font-family='"Liberation Serif", "DejaVu Serif", serif' font-size="18.4" text-anchor="middle">97.1</text>
<text x="3390.80" y="546.88" font-family='"Liberation Serif", "DejaVu Serif", serif' font-size="18.4" text-anchor="middle">95.9</text>
<text x="3466.10" y="546.88" font-family='"Liberation Serif", "DejaVu Serif", serif' font-size="18.4" text-anchor="middle">90.3</text>
<text x="3541.40" y="546.88" font-family='"Liberation Serif", "DejaVu Serif", serif' font-size="18.4" text-anchor="middle">86.4</text>
<text x="3616.30" y="546.88" font-family='"Liberation Serif", "DejaVu Serif", serif' font-size="18.4" text-anchor="middle">89.1</text>
<text x="3692.40" y="546.88" font-family='"Liberation Serif", "DejaVu Serif", serif' font-size="18.4" text-anchor="middle">87.1</text>
<text x="3770.60" y="546.88" font-family='"Liberation Serif", "DejaVu Serif", serif' font-size="18.4" text-anchor="middle">83.3</text>
<text x="3852.10" y="546.88" font-family='"Liberation Serif", "DejaVu Serif", serif' font-size="18.4" text-anchor="middle">90.3</text>
<text x="3003.50" y="568.96" font-family='"Liberation Serif", "DejaVu Serif", serif' font-size="18.4">DARK</text>
<text x="3161.60" y="568.96" font-family='"Liberation Serif", "DejaVu Serif", serif' font-size="18.4">HRNet-W32</text>
<text x="3314.70" y="568.96" font-family='"Liberation Serif", "DejaVu Serif", serif' font-size="18.4" text-anchor="middle">97.2</text>
<text x="3390.80" y="568.96" font-family='"Liberation Serif", "DejaVu Serif", serif' font-size="18.4" text-anchor="middle">95.9</text>
<text x="3466.10" y="568.96" font-family='"Liberation Serif", "DejaVu Serif", serif' font-size="18.4" fill="#0000ff" text-anchor="middle">91.2</text>
<text x="3541.40" y="568.96" font-family='"Liberation Serif", "DejaVu Serif", serif' font-size="18.4" fill="#0000ff" text-anchor="middle">86.7</text>
<text x="3616.30" y="568.96" font-family='"Liberation Serif", "DejaVu Serif", serif' font-size="18.4" text-anchor="middle">89.7</text>
<text x="3692.40" y="568.96" font-family='"Liberation Serif", "DejaVu Serif", serif' font-size="18.4" text-anchor="middle">86.7</text>
<text x="3770.60" y="568.96" font-family='"Liberation Serif", "DejaVu Serif", serif' font-size="18.4" text-anchor="middle">84.0</text>
<text x="3852.10" y="568.96" font-family='"Liberation Serif", "DejaVu Serif", serif' font-size="18.4" fill="#0000ff" text-anchor="middle">90.6</text>
<text x="3003.50" y="591.04" font-family='"Liberation Serif", "DejaVu Serif", serif' font-size="18.4">PRTR</text>
<text x="3161.60" y="591.04" font-family='"Liberation Serif", "DejaVu Serif", serif' font-size="18.4">HRNet-W32</text>
<text x="3314.70" y="591.04" font-family='"Liberation Serif", "DejaVu Serif", serif' font-size="18.4" fill="#0000ff" text-anchor="middle">97.3</text>
<text x="3390.80" y="591.04" font-family='"Liberation Serif", "DejaVu Serif", serif' font-size="18.4" text-anchor="middle">96.0</text>
<text x="3466.10" y="591.04" font-family='"Liberation Serif", "DejaVu Serif", serif' font-size="18.4" text-anchor="middle">90.6</text>
<text x="3541.40" y="591.04" font-family='"Liberation Serif", "DejaVu Serif", serif' font-size="18.4" text-anchor="middle">84.5</text>
<text x="3616.30" y="591.04" font-family='"Liberation Serif", "DejaVu Serif", serif' font-size="18.4" text-anchor="middle">89.7</text>
<text x="3692.40" y="591.04" font-family='"Liberation Serif", "DejaVu Serif", serif' font-size="18.4" text-anchor="middle">85.5</text>
<text x="3770.60" y="591.04" font-family='"Liberation Serif", "DejaVu Serif", serif' font-size="18.4" text-anchor="middle">79.0</text>
<text x="3852.10" y="591.04" font-family='"Liberation Serif", "DejaVu Serif", serif' font-size="18.4" text-anchor="middle">89.5</text>
<text x="3003.50" y="613.12" font-family='"Liberation Serif", "DejaVu Serif", serif' font-size="18.4">TokenPose</text>
<text x="3161.60" y="613.12" font-family='"Liberation Serif", "DejaVu Serif", serif' font-size="18.4">HRNet-W48</text>
<text x="3314.70" y="613.12" font-family='"Liberation Serif", "DejaVu Serif", serif' font-size="18.4" text-anchor="middle">97.1</text>
<text x="3390.80" y="613.12" font-family='"Liberation Serif", "DejaVu Serif", serif' font-size="18.4" text-anchor="middle">95.9</text>
<text x="3466.10" y="613.12" font-family='"Liberation Serif", "DejaVu Serif", serif' font-size="18.4" text-anchor="middle">90.4</text>
<text x="3541.40" y="613.12" font-family='"Liberation Serif", "DejaVu Serif", serif' font-size="18.4" text-anchor="middle">86.0</text>
<text x="3616.30" y="613.12" font-family='"Liberation Serif", "DejaVu Serif", serif' font-size="18.4" text-anchor="middle">89.3</text>
<text x="3692.40" y="613.12" font-family='"Liberation Serif", "DejaVu Serif", serif' font-size="18.4" text-anchor="middle">87.1</text>
<text x="3770.60" y="613.12" font-family='"Liberation Serif", "DejaVu Serif", serif' font-size="18.4" text-anchor="middle">82.5</text>
<text x="3852.10" y="613.12" font-family='"Liberation Serif", "DejaVu Serif", serif' font-size="18.4" text-anchor="middle">90.2</text>
<text x="3003.50" y="635.20" font-family='"Liberation Serif", "DejaVu Serif", serif' font-size="18.4">SimCC</text>
<text x="3161.60" y="635.20" font-family='"Liberation Serif", "DejaVu Serif", serif' font-size="18.4">HRNet-W32</text>
<text x="3314.70" y="635.20" font-family='"Liberation Serif", "DejaVu Serif", serif' font-size="18.4" text-anchor="middle">97.2</text>
<text x="3390.80" y="635.20" font-family='"Liberation Serif", "DejaVu Serif", serif' font-size="18.4" text-anchor="middle">96.0</text>
<text x="3466.10" y="635.20" font-family='"Liberation Serif", "DejaVu Serif", serif' font-size="18.4" text-anchor="middle">90.4</text>
<text x="3541.40" y="635.20" font-family='"Liberation Serif", "DejaVu Serif", serif' font-size="18.4" text-anchor="middle">85.6</text>
<text x="3616.30" y="635.20" font-family='"Liberation Serif", "DejaVu Serif", serif' font-size="18.4" text-anchor="middle">89.5</text>
<text x="3692.40" y="635.20" font-family='"Liberation Serif", "DejaVu Serif", serif' font-size="18.4" text-anchor="middle">85.8</text>
<text x="3770.60" y="635.20" font-family='"Liberation Serif", "DejaVu Serif", serif' font-size="18.4" text-anchor="middle">81.8</text>
<text x="3852.10" y="635.20" font-family='"Liberation Serif", "DejaVu Serif", serif' font-size="18.4" text-anchor="middle">90.0</text>
<text x="3003.50" y="657.28" font-family='"Liberation Serif", "DejaVu Serif", serif' font-size="18.4">Posur</text>
<text x="3161.60" y="657.28" font-family='"Liberation Serif", "DejaVu Serif", serif' font-size="18.4">HRNet-W32</text>
<text x="3314.70" y="657.28" font-family='"Liberation Serif", "DejaVu Serif", serif' font-size="18.4" text-anchor="middle">–</text>
<text x="3390.80" y="657.28" font-family='"Liberation Serif", "DejaVu Serif", serif' font-size="18.4" text-anchor="middle">–</text>
<text x="3466.10" y="657.28" font-family='"Liberation Serif", "DejaVu Serif", serif' font-size="18.4" text-anchor="middle">–</text>
<text x="3541.40" y="657.28" font-family='"Liberation Serif", "DejaVu Serif", serif' font-size="18.4" text-anchor="middle">–</text>
<text x="3616.30" y="657.28" font-family='"Liberation Serif", "DejaVu Serif", serif' font-size="18.4" text-anchor="middle">–</text>
<text x="3692.40" y="657.28" font-family='"Liberation Serif", "DejaVu Serif", serif' font-size="18.4" text-anchor="middle">–</text>
<text x="3770.60" y="657.28" font-family='"Liberation Serif", "DejaVu Serif", serif' font-size="18.4" text-anchor="middle">–</text>
<text x="3852.10" y="657.28" font-family='"Liberation Serif", "DejaVu Serif", serif' font-size="18.4" text-anchor="middle">90.5</text>
<text x="3003.50" y="703.30" font-family='"Liberation Serif", "DejaVu Serif", serif' font-size="18.4">TTT</text>
<text x="3161.60" y="703.30" font-family='"Liberation Serif", "DejaVu Serif", serif' font-size="18.4">ResNet-101</text>
<text x="3314.70" y="703.30" font-family='"Liberation Serif", "DejaVu Serif", serif' font-size="18.4" text-anchor="middle">96.9</text>
<text x="3390.80" y="703.30" font-family='"Liberation Serif", "DejaVu Serif", serif' font-size="18.4" text-anchor="middle">96.0</text>
<text x="3466.10" y="703.30" font-family='"Liberation Serif", "DejaVu Serif", serif' font-size="18.4" text-anchor="middle">89.8</text>
<text x="3541.40" y="703.30" font-family='"Liberation Serif", "DejaVu Serif", serif' font-size="18.4" text-anchor="middle">84.8</text>
<text x="3616.30" y="703.30" font-family='"Liberation Serif", "DejaVu Serif", serif' font-size="18.4" text-anchor="middle">88.9</text>
<text x="3692.40" y="703.30" font-family='"Liberation Serif", "DejaVu Serif", serif' font-size="18.4" text-anchor="middle">84.9</text>
<text x="3770.60" y="703.30" font-family='"Liberation Serif", "DejaVu Serif", serif' font-size="18.4" text-anchor="middle">81.0</text>
<text x="3852.10" y="703.30" font-family='"Liberation Serif", "DejaVu Serif", serif' font-size="18.4" text-anchor="middle">89.4</text>
<text x="3003.50" y="725.38" font-family='"Liberation Serif", "DejaVu Serif", serif' font-size="18.4">MeTTA(Ours)</text>
<text x="3161.60" y="725.38" font-family='"Liberation Serif", "DejaVu Serif", serif' font-size="18.4">ResNet-101</text>
<text x="3314.70" y="725.38" font-family='"Liberation Serif", "DejaVu Serif", serif' font-size="18.4" fill="#0000ff" text-anchor="middle">97.3</text>
<text x="3390.80" y="725.38" font-family='"Liberation Serif", "DejaVu Serif", serif' font-size="18.4" fill="#0000ff" text-anchor="middle">96.1</text>
<text x="3466.10" y="725.38" font-family='"Liberation Serif", "DejaVu Serif", serif' font-size="18.4" text-anchor="middle">90.9</text>
<text x="3541.40" y="725.38" font-family='"Liberation Serif", "DejaVu Serif", serif' font-size="18.4" text-anchor="middle">85.9</text>
<text x="3616.30" y="725.38" font-family='"Liberation Serif", "DejaVu Serif", serif' font-size="18.4" fill="#0000ff" text-anchor="middle">90.0</text>
<text x="3692.40" y="725.38" font-family='"Liberation Serif", "DejaVu Serif", serif' font-size="18.4" fill="#0000ff" text-anchor="middle">87.3</text>
<text x="3770.60" y="725.38" font-family='"Liberation Serif", "DejaVu Serif", serif' font-size="18.4" fill="#0000ff" text-anchor="middle">84.2</text>
<text x="3852.10" y="725.38" font-family='"Liberation Serif", "DejaVu Serif", serif' font-size="18.4" fill="#0000ff" text-anchor="middle">90.6</text>
<text x="3003.50" y="747.46" font-family='"Liberation Serif", "DejaVu Serif", serif' font-size="18.4">MeTTA(Ours)</text>
<text x="3161.60" y="747.46" font-family='"Liberation Serif", "DejaVu Serif", serif' font-size="18.4">HRNet-W32</text>
<text x="3314.70" y="747.46" font-family='"Liberation Serif", "DejaVu Serif", serif' font-size="18.4" fill="#ff0000" text-anchor="middle">97.4</text>
<text x="3390.80" y="747.46" font-family='"Liberation Serif", "DejaVu Serif", serif' font-size="18.4" fill="#ff0000" text-anchor="middle">96.2</text>
<text x="3466.10" y="747.46" font-family='"Liberation Serif", "DejaVu Serif", serif' font-size="18.4" fill="#ff0000" text-anchor="middle">91.5</text>
<text x="3541.40" y="747.46" font-family='"Liberation Serif", "DejaVu Serif", serif' font-size="18.4" fill="#ff0000" text-anchor="middle">87.7</text>
<text x="3616.30" y="747.46" font-family='"Liberation Serif", "DejaVu Serif", serif' font-size="18.4" fill="#ff0000" text-anchor="middle">90.5</text>
<text x="3692.40" y="747.46" font-family='"Liberation Serif", "DejaVu Serif", serif' font-size="18.4" fill="#ff0000" text-anchor="middle">88.6</text>
<text x="3770.60" y="747.46" font-family='"Liberation Serif", "DejaVu Serif", serif' font-size="18.4" fill="#ff0000" text-anchor="middle">85.4</text>
<text x="3852.10" y="747.46" font-family='"Liberation Serif", "DejaVu Serif", serif' font-size="18.4" fill="#ff0000" text-anchor="middle">91.4</text>
<text x="3075.60" y="787.70" font-family='"Liberation Serif", "DejaVu Serif", serif' font-size="16.55" textLength="724.60" lengthAdjust="spacingAndGlyphs">Comparisons of test-time adaptation methods and conventional pose estimation methods on the MPII dataset.</text>
</g>
<g id="table-penn">
<line x1="2980.50" y1="830.50" x2="3417.00" y2="830.50" stroke="#7a7a7a" stroke-width="1.1" />
<line x1="2980.50" y1="853.70" x2="3417.00" y2="853.70" stroke="#7a7a7a" stroke-width="1.1" />
<line x1="2980.50" y1="876.60" x2="3417.00" y2="876.60" stroke="#7a7a7a" stroke-width="1.1" />
<line x1="2980.50" y1="921.80" x2="3417.00" y2="921.80" stroke="#7a7a7a" stroke-width="1.1" />
<line x1="2980.50" y1="988.40" x2="3417.00" y2="988.40" stroke="#7a7a7a" stroke-width="1.1" />
<line x1="3080.20" y1="876.60" x2="3080.20" y2="988.40" stroke="#7a7a7a" stroke-width="1.1" />
<line x1="3145.60" y1="830.50" x2="3145.60" y2="988.40" stroke="#7a7a7a" stroke-width="1.1" />
<line x1="3175.30" y1="830.50" x2="3175.30" y2="988.40" stroke="#7a7a7a" stroke-width="1.1" />
<line x1="3211.50" y1="830.50" x2="3211.50" y2="988.40" stroke="#7a7a7a" stroke-width="1.1" />
<text x="3062.70" y="846.90" font-family='"Liberation Serif", "DejaVu Serif", serif' font-size="18.4" text-anchor="middle">Method</text>
<text x="3160.50" y="846.90" font-family='"Liberation Serif", "DejaVu Serif", serif' font-size="18.4" text-anchor="middle">TA</text>
<text x="3193.40" y="846.90" font-family='"Liberation Serif", "DejaVu Serif", serif' font-size="18.4" text-anchor="middle">MO</text>
<text x="3217.50" y="846.90" font-family='"Liberation Serif", "DejaVu Serif", serif' font-size="18.4">Penn Action</text>
<text x="3318.70" y="846.90" font-family='"Liberation Serif", "DejaVu Serif", serif' font-size="18.4">Human3.6M</text>
<text x="3062.70" y="869.80" font-family='"Liberation Serif", "DejaVu Serif", serif' font-size="18.4" text-anchor="middle">SimpleBaseline</text>
<text x="3214.90" y="869.80" font-family='"Liberation Serif", "DejaVu Serif", serif' font-size="18.4">85.23</text>
<text x="3317.60" y="869.80" font-family='"Liberation Serif", "DejaVu Serif", serif' font-size="18.4">85.42</text>
<text x="2986.60" y="904.00" font-family='"Liberation Serif", "DejaVu Serif", serif' font-size="18.4">video-based</text>
<text x="2984.00" y="959.90" font-family='"Liberation Serif", "DejaVu Serif", serif' font-size="18.4">image-based</text>
<text x="3084.00" y="892.60" font-family='"Liberation Serif", "DejaVu Serif", serif' font-size="18.4">TTP</text>
<text x="3160.50" y="893.80" font-family='"DejaVu Sans", "Liberation Sans", sans-serif' font-size="19.5" text-anchor="middle">✓</text>
<text x="3214.90" y="892.60" font-family='"Liberation Serif", "DejaVu Serif", serif' font-size="18.4" textLength="96.00" lengthAdjust="spacingAndGlyphs">87.27(+2.04)</text>
<text x="3317.60" y="892.60" font-family='"Liberation Serif", "DejaVu Serif", serif' font-size="18.4" textLength="96.50" lengthAdjust="spacingAndGlyphs">89.43(+4.01)</text>
<text x="3084.00" y="914.70" font-family='"Liberation Serif", "DejaVu Serif", serif' font-size="18.4">TTP</text>
<text x="3160.50" y="915.90" font-family='"DejaVu Sans", "Liberation Sans", sans-serif' font-size="19.5" text-anchor="middle">✓</text>
<text x="3214.90" y="914.70" font-family='"Liberation Serif", "DejaVu Serif", serif' font-size="18.4" textLength="96.00" lengthAdjust="spacingAndGlyphs">87.75(+2.52)</text>
<text x="3317.60" y="914.70" font-family='"Liberation Serif", "DejaVu Serif", serif' font-size="18.4" textLength="96.50" lengthAdjust="spacingAndGlyphs">91.70(+6.28)</text>
<text x="3084.00" y="937.50" font-family='"Liberation Serif", "DejaVu Serif", serif' font-size="18.4">TTT</text>
<text x="3160.50" y="938.70" font-family='"DejaVu Sans", "Liberation Sans", sans-serif' font-size="19.5" text-anchor="middle">✓</text>
<text x="3214.90" y="937.50" font-family='"Liberation Serif", "DejaVu Serif", serif' font-size="18.4" textLength="96.00" lengthAdjust="spacingAndGlyphs">85.86(+0.63)</text>
<text x="3317.60" y="937.50" font-family='"Liberation Serif", "DejaVu Serif", serif' font-size="18.4" textLength="96.50" lengthAdjust="spacingAndGlyphs">88.01(+2.59)</text>
<text x="3084.00" y="959.90" font-family='"Liberation Serif", "DejaVu Serif", serif' font-size="18.4">MeTTA</text>
<text x="3160.50" y="961.10" font-family='"DejaVu Sans", "Liberation Sans", sans-serif' font-size="19.5" text-anchor="middle">✓</text>
<text x="3214.90" y="959.90" font-family='"Liberation Serif", "DejaVu Serif", serif' font-size="18.4" textLength="96.00" lengthAdjust="spacingAndGlyphs">86.67(+1.44)</text>
<text x="3317.60" y="959.90" font-family='"Liberation Serif", "DejaVu Serif", serif' font-size="18.4" textLength="96.50" lengthAdjust="spacingAndGlyphs">89.50(+4.08)</text>
<text x="3084.00" y="982.00" font-family='"Liberation Serif", "DejaVu Serif", serif' font-size="18.4">MeTTA</text>
<text x="3160.50" y="983.20" font-family='"DejaVu Sans", "Liberation Sans", sans-serif' font-size="19.5" text-anchor="middle">✓</text>
<text x="3214.90" y="982.00" font-family='"Liberation Serif", "DejaVu Serif", serif' font-size="18.4" textLength="96.00" lengthAdjust="spacingAndGlyphs">87.60(+2.37)</text>
<text x="3317.60" y="982.00" font-family='"Liberation Serif", "DejaVu Serif", serif' font-size="18.4" textLength="96.50" lengthAdjust="spacingAndGlyphs">90.16(+4.74)</text>
<text x="3115.60" y="908.20" font-family='"Liberation Serif", "DejaVu Serif", serif' font-size="12.5">†</text>
<text x="3193.40" y="983.20" font-family='"DejaVu Sans", "Liberation Sans", sans-serif' font-size="19.5" text-anchor="middle">✓</text>
<text x="3044.50" y="1021.10" font-family='"Liberation Serif", "DejaVu Serif", serif' font-size="16.6" textLength="308.50" lengthAdjust="spacingAndGlyphs">Comparison on Penn Action and Human3.6M.</text>
</g>
<g id="table-ablation">
<line x1="3464.10" y1="830.50" x2="3890.50" y2="830.50" stroke="#7a7a7a" stroke-width="1.1" />
<line x1="3464.10" y1="853.70" x2="3890.50" y2="853.70" stroke="#7a7a7a" stroke-width="1.1" />
<line x1="3464.10" y1="899.00" x2="3890.50" y2="899.00" stroke="#7a7a7a" stroke-width="1.1" />
<line x1="3464.10" y1="943.50" x2="3890.50" y2="943.50" stroke="#7a7a7a" stroke-width="1.1" />
<line x1="3464.10" y1="988.40" x2="3890.50" y2="988.40" stroke="#7a7a7a" stroke-width="1.1" />
<line x1="3541.30" y1="830.50" x2="3541.30" y2="988.40" stroke="#7a7a7a" stroke-width="1.1" />
<line x1="3588.50" y1="830.50" x2="3588.50" y2="988.40" stroke="#7a7a7a" stroke-width="1.1" />
<line x1="3808.00" y1="830.50" x2="3808.00" y2="988.40" stroke="#7a7a7a" stroke-width="1.1" />
<text x="3474.30" y="846.90" font-family='"Liberation Serif", "DejaVu Serif", serif' font-size="18.4">Method</text>
<text x="3564.90" y="846.90" font-family='"Liberation Serif", "DejaVu Serif", serif' font-size="18.4" text-anchor="middle">MO</text>
<text x="3642.10" y="846.90" font-family='"Liberation Serif", "DejaVu Serif", serif' font-size="18.4" text-anchor="middle">Penn Action</text>
<text x="3752.40" y="846.90" font-family='"Liberation Serif", "DejaVu Serif", serif' font-size="18.4" text-anchor="middle">Human3.6M</text>
<text x="3849.10" y="846.90" font-family='"Liberation Serif", "DejaVu Serif", serif' font-size="18.4" text-anchor="middle">GFLOPs</text>
<text x="3642.10" y="869.80" font-family='"Liberation Serif", "DejaVu Serif", serif' font-size="18.4" text-anchor="middle">86.18</text>
<text x="3752.40" y="869.80" font-family='"Liberation Serif", "DejaVu Serif", serif' font-size="18.4" text-anchor="middle">88.31</text>
<text x="3642.10" y="892.60" font-family='"Liberation Serif", "DejaVu Serif", serif' font-size="18.4" text-anchor="middle">86.48</text>
<text x="3752.40" y="892.60" font-family='"Liberation Serif", "DejaVu Serif", serif' font-size="18.4" text-anchor="middle">88.66</text>
<text x="3564.90" y="893.80" font-family='"DejaVu Sans", "Liberation Sans", sans-serif' font-size="19.5" text-anchor="middle">✓</text>
<text x="3642.10" y="914.70" font-family='"Liberation Serif", "DejaVu Serif", serif' font-size="18.4" text-anchor="middle">87.12</text>
<text x="3752.40" y="914.70" font-family='"Liberation Serif", "DejaVu Serif", serif' font-size="18.4" text-anchor="middle">89.77</text>
<text x="3642.10" y="937.50" font-family='"Liberation Serif", "DejaVu Serif", serif' font-size="18.4" text-anchor="middle">87.60</text>
<text x="3752.40" y="937.50" font-family='"Liberation Serif", "DejaVu Serif", serif' font-size="18.4" text-anchor="middle">90.16</text>
<text x="3564.90" y="938.70" font-family='"DejaVu Sans", "Liberation Sans", sans-serif' font-size="19.5" text-anchor="middle">✓</text>
<text x="3642.10" y="959.90" font-family='"Liberation Serif", "DejaVu Serif", serif' font-size="18.4" text-anchor="middle">87.37</text>
<text x="3752.40" y="959.90" font-family='"Liberation Serif", "DejaVu Serif", serif' font-size="18.4" text-anchor="middle">90.08</text>
<text x="3642.10" y="982.00" font-family='"Liberation Serif", "DejaVu Serif", serif' font-size="18.4" text-anchor="middle">87.71</text>
<text x="3752.40" y="982.00" font-family='"Liberation Serif", "DejaVu Serif", serif' font-size="18.4" text-anchor="middle">90.34</text>
<text x="3564.90" y="983.20" font-family='"DejaVu Sans", "Liberation Sans", sans-serif' font-size="19.5" text-anchor="middle">✓</text>
<text x="3474.30" y="881.20" font-family='"Liberation Serif", "DejaVu Serif", serif' font-size="18.4" font-style="italic">K</text>
<text x="3495.50" y="881.20" font-family='"Liberation Serif", "DejaVu Serif", serif' font-size="18.4">= 1</text>
<text x="3849.10" y="881.20" font-family='"Liberation Serif", "DejaVu Serif", serif' font-size="18.4" text-anchor="middle">16.59</text>
<text x="3474.30" y="926.10" font-family='"Liberation Serif", "DejaVu Serif", serif' font-size="18.4" font-style="italic">K</text>
<text x="3495.50" y="926.10" font-family='"Liberation Serif", "DejaVu Serif", serif' font-size="18.4">= 5</text>
<text x="3849.10" y="926.10" font-family='"Liberation Serif", "DejaVu Serif", serif' font-size="18.4" text-anchor="middle">62.07</text>
<text x="3474.30" y="971.00" font-family='"Liberation Serif", "DejaVu Serif", serif' font-size="18.4" font-style="italic">K</text>
<text x="3495.50" y="971.00" font-family='"Liberation Serif", "DejaVu Serif", serif' font-size="18.4">= 10</text>
<text x="3849.10" y="971.00" font-family='"Liberation Serif", "DejaVu Serif", serif' font-size="18.4" text-anchor="middle">118.92</text>
<text x="3505.90" y="1021.10" font-family='"Liberation Serif", "DejaVu Serif", serif' font-size="16.6" textLength="323.00" lengthAdjust="spacingAndGlyphs">Ablation study on the number of weight updates </text>
<text x="3831.50" y="1021.10" font-family='"Liberation Serif", "DejaVu Serif", serif' font-size="16.6" font-style="italic">K</text>
<text x="3843.50" y="1021.10" font-family='"Liberation Serif", "DejaVu Serif", serif' font-size="16.6">.</text>
</g>
<g id="table-lsp">
<line x1="2979.80" y1="1066.20" x2="3409.70" y2="1066.20" stroke="#7a7a7a" stroke-width="1.1" />
<line x1="2979.80" y1="1089.10" x2="3409.70" y2="1089.10" stroke="#7a7a7a" stroke-width="1.1" />
<line x1="2979.80" y1="1112.30" x2="3409.70" y2="1112.30" stroke="#7a7a7a" stroke-width="1.1" />
<line x1="2979.80" y1="1202.40" x2="3409.70" y2="1202.40" stroke="#7a7a7a" stroke-width="1.1" />
<line x1="2979.80" y1="1225.60" x2="3409.70" y2="1225.60" stroke="#7a7a7a" stroke-width="1.1" />
<line x1="3079.50" y1="1066.20" x2="3079.50" y2="1225.60" stroke="#7a7a7a" stroke-width="1.1" />
<line x1="3112.60" y1="1066.20" x2="3112.60" y2="1225.60" stroke="#7a7a7a" stroke-width="1.1" />
<line x1="3368.60" y1="1066.20" x2="3368.60" y2="1225.60" stroke="#7a7a7a" stroke-width="1.1" />
<text x="2984.00" y="1081.80" font-family='"Liberation Serif", "DejaVu Serif", serif' font-size="18.4">Method</text>
<text x="3095.80" y="1081.80" font-family='"Liberation Serif", "DejaVu Serif", serif' font-size="18.4" text-anchor="middle">OL</text>
<text x="3133.10" y="1081.80" font-family='"Liberation Serif", "DejaVu Serif", serif' font-size="18.4" text-anchor="middle">Sld.</text>
<text x="3174.20" y="1081.80" font-family='"Liberation Serif", "DejaVu Serif", serif' font-size="18.4" text-anchor="middle">Elb.</text>
<text x="3216.00" y="1081.80" font-family='"Liberation Serif", "DejaVu Serif", serif' font-size="18.4" text-anchor="middle">Wri.</text>
<text x="3257.90" y="1081.80" font-family='"Liberation Serif", "DejaVu Serif", serif' font-size="18.4" text-anchor="middle">Hip</text>
<text x="3300.90" y="1081.80" font-family='"Liberation Serif", "DejaVu Serif", serif' font-size="18.4" text-anchor="middle">Kne.</text>
<text x="3345.40" y="1081.80" font-family='"Liberation Serif", "DejaVu Serif", serif' font-size="18.4" text-anchor="middle">Ank.</text>
<text x="3389.10" y="1081.80" font-family='"Liberation Serif", "DejaVu Serif", serif' font-size="18.4" text-anchor="middle">All</text>
<text x="2984.00" y="1104.70" font-family='"Liberation Serif", "DejaVu Serif", serif' font-size="18.4">Source-only</text>
<text x="3095.80" y="1104.70" font-family='"Liberation Serif", "DejaVu Serif", serif' font-size="21" text-anchor="middle">–</text>
<text x="3133.10" y="1104.70" font-family='"Liberation Serif", "DejaVu Serif", serif' font-size="18.4" text-anchor="middle">51.5</text>
<text x="3174.20" y="1104.70" font-family='"Liberation Serif", "DejaVu Serif", serif' font-size="18.4" text-anchor="middle">65.0</text>
<text x="3216.00" y="1104.70" font-family='"Liberation Serif", "DejaVu Serif", serif' font-size="18.4" text-anchor="middle">62.9</text>
<text x="3257.90" y="1104.70" font-family='"Liberation Serif", "DejaVu Serif", serif' font-size="18.4" text-anchor="middle">68.0</text>
<text x="3300.90" y="1104.70" font-family='"Liberation Serif", "DejaVu Serif", serif' font-size="18.4" text-anchor="middle">68.7</text>
<text x="3345.40" y="1104.70" font-family='"Liberation Serif", "DejaVu Serif", serif' font-size="18.4" text-anchor="middle">67.4</text>
<text x="3389.10" y="1104.70" font-family='"Liberation Serif", "DejaVu Serif", serif' font-size="18.4" text-anchor="middle">63.9</text>
<text x="2984.00" y="1127.90" font-family='"Liberation Serif", "DejaVu Serif", serif' font-size="18.4">MMT</text>
<text x="3095.80" y="1129.50" font-family='"Liberation Serif", "DejaVu Serif", serif' font-size="22.5" text-anchor="middle">×</text>
<text x="3133.10" y="1127.90" font-family='"Liberation Serif", "DejaVu Serif", serif' font-size="18.4" text-anchor="middle">60.9</text>
<text x="3174.20" y="1127.90" font-family='"Liberation Serif", "DejaVu Serif", serif' font-size="18.4" text-anchor="middle">70.9</text>
<text x="3216.00" y="1127.90" font-family='"Liberation Serif", "DejaVu Serif", serif' font-size="18.4" text-anchor="middle">70.3</text>
<text x="3257.90" y="1127.90" font-family='"Liberation Serif", "DejaVu Serif", serif' font-size="18.4" text-anchor="middle">81.1</text>
<text x="3300.90" y="1127.90" font-family='"Liberation Serif", "DejaVu Serif", serif' font-size="18.4" text-anchor="middle">79.3</text>
<text x="3345.40" y="1127.90" font-family='"Liberation Serif", "DejaVu Serif", serif' font-size="18.4" text-anchor="middle">72.8</text>
<text x="3389.10" y="1127.90" font-family='"Liberation Serif", "DejaVu Serif", serif' font-size="18.4" text-anchor="middle">71.5</text>
<text x="2984.00" y="1150.30" font-family='"Liberation Serif", "DejaVu Serif", serif' font-size="18.4">RegDA-SF</text>
<text x="3095.80" y="1151.90" font-family='"Liberation Serif", "DejaVu Serif", serif' font-size="22.5" text-anchor="middle">×</text>
<text x="3133.10" y="1150.30" font-family='"Liberation Serif", "DejaVu Serif", serif' font-size="18.4" text-anchor="middle">54.8</text>
<text x="3174.20" y="1150.30" font-family='"Liberation Serif", "DejaVu Serif", serif' font-size="18.4" text-anchor="middle">70.5</text>
<text x="3216.00" y="1150.30" font-family='"Liberation Serif", "DejaVu Serif", serif' font-size="18.4" text-anchor="middle">67.6</text>
<text x="3257.90" y="1150.30" font-family='"Liberation Serif", "DejaVu Serif", serif' font-size="18.4" text-anchor="middle">65.4</text>
<text x="3300.90" y="1150.30" font-family='"Liberation Serif", "DejaVu Serif", serif' font-size="18.4" text-anchor="middle">73.2</text>
<text x="3345.40" y="1150.30" font-family='"Liberation Serif", "DejaVu Serif", serif' font-size="18.4" text-anchor="middle">70.0</text>
<text x="3389.10" y="1150.30" font-family='"Liberation Serif", "DejaVu Serif", serif' font-size="18.4" text-anchor="middle">66.5</text>
<text x="2984.00" y="1172.40" font-family='"Liberation Serif", "DejaVu Serif", serif' font-size="18.4">POST</text>
<text x="3095.80" y="1174.00" font-family='"Liberation Serif", "DejaVu Serif", serif' font-size="22.5" text-anchor="middle">×</text>
<text x="3133.10" y="1172.40" font-family='"Liberation Serif", "DejaVu Serif", serif' font-size="18.4" text-anchor="middle">66.5</text>
<text x="3174.20" y="1172.40" font-family='"Liberation Serif", "DejaVu Serif", serif' font-size="18.4" text-anchor="middle">83.9</text>
<text x="3216.00" y="1172.40" font-family='"Liberation Serif", "DejaVu Serif", serif' font-size="18.4" text-anchor="middle">81.0</text>
<text x="3257.90" y="1172.40" font-family='"Liberation Serif", "DejaVu Serif", serif' font-size="18.4" text-anchor="middle">84.6</text>
<text x="3300.90" y="1172.40" font-family='"Liberation Serif", "DejaVu Serif", serif' font-size="18.4" text-anchor="middle">83.1</text>
<text x="3345.40" y="1172.40" font-family='"Liberation Serif", "DejaVu Serif", serif' font-size="18.4" text-anchor="middle">82.6</text>
<text x="3389.10" y="1172.40" font-family='"Liberation Serif", "DejaVu Serif", serif' font-size="18.4" text-anchor="middle">80.3</text>
<text x="2984.00" y="1194.80" font-family='"Liberation Serif", "DejaVu Serif", serif' font-size="18.4">SP+TR</text>
<text x="3095.80" y="1196.40" font-family='"Liberation Serif", "DejaVu Serif", serif' font-size="22.5" text-anchor="middle">×</text>
<text x="3133.10" y="1194.80" font-family='"Liberation Serif", "DejaVu Serif", serif' font-size="18.4" fill="#0000ff" text-anchor="middle">70.7</text>
<text x="3174.20" y="1194.80" font-family='"Liberation Serif", "DejaVu Serif", serif' font-size="18.4" fill="#ff0000" text-anchor="middle">85.4</text>
<text x="3216.00" y="1194.80" font-family='"Liberation Serif", "DejaVu Serif", serif' font-size="18.4" fill="#ff0000" text-anchor="middle">83.8</text>
<text x="3257.90" y="1194.80" font-family='"Liberation Serif", "DejaVu Serif", serif' font-size="18.4" fill="#ff0000" text-anchor="middle">86.6</text>
<text x="3300.90" y="1194.80" font-family='"Liberation Serif", "DejaVu Serif", serif' font-size="18.4" fill="#ff0000" text-anchor="middle">85.2</text>
<text x="3345.40" y="1194.80" font-family='"Liberation Serif", "DejaVu Serif", serif' font-size="18.4" fill="#ff0000" text-anchor="middle">85.0</text>
<text x="3389.10" y="1194.80" font-family='"Liberation Serif", "DejaVu Serif", serif' font-size="18.4" fill="#ff0000" text-anchor="middle">83.2</text>
<text x="2984.00" y="1218.00" font-family='"Liberation Serif", "DejaVu Serif", serif' font-size="18.4">MeTTA</text>
<text x="3095.80" y="1219.20" font-family='"DejaVu Sans", "Liberation Sans", sans-serif' font-size="19.5" text-anchor="middle">✓</text>
<text x="3133.10" y="1218.00" font-family='"Liberation Serif", "DejaVu Serif", serif' font-size="18.4" fill="#ff0000" text-anchor="middle">71.0</text>
<text x="3174.20" y="1218.00" font-family='"Liberation Serif", "DejaVu Serif", serif' font-size="18.4" fill="#0000ff" text-anchor="middle">84.7</text>
<text x="3216.00" y="1218.00" font-family='"Liberation Serif", "DejaVu Serif", serif' font-size="18.4" fill="#0000ff" text-anchor="middle">83.2</text>
<text x="3257.90" y="1218.00" font-family='"Liberation Serif", "DejaVu Serif", serif' font-size="18.4" fill="#0000ff" text-anchor="middle">85.4</text>
<text x="3300.90" y="1218.00" font-family='"Liberation Serif", "DejaVu Serif", serif' font-size="18.4" fill="#0000ff" text-anchor="middle">84.4</text>
<text x="3345.40" y="1218.00" font-family='"Liberation Serif", "DejaVu Serif", serif' font-size="18.4" fill="#0000ff" text-anchor="middle">84.1</text>
<text x="3389.10" y="1218.00" font-family='"Liberation Serif", "DejaVu Serif", serif' font-size="18.4" fill="#0000ff" text-anchor="middle">82.5</text>
<text x="0.00" y="1258.70" font-family='"Liberation Serif", "DejaVu Serif", serif' font-size="16.6"></text>
</g>
<g id="table-h36m">
<line x1="3464.20" y1="1066.20" x2="3894.40" y2="1066.20" stroke="#7a7a7a" stroke-width="1.1" />
<line x1="3464.20" y1="1089.10" x2="3894.40" y2="1089.10" stroke="#7a7a7a" stroke-width="1.1" />
<line x1="3464.20" y1="1112.30" x2="3894.40" y2="1112.30" stroke="#7a7a7a" stroke-width="1.1" />
<line x1="3464.20" y1="1202.40" x2="3894.40" y2="1202.40" stroke="#7a7a7a" stroke-width="1.1" />
<line x1="3464.20" y1="1225.60" x2="3894.40" y2="1225.60" stroke="#7a7a7a" stroke-width="1.1" />
<line x1="3563.90" y1="1066.20" x2="3563.90" y2="1225.60" stroke="#7a7a7a" stroke-width="1.1" />
<line x1="3597.00" y1="1066.20" x2="3597.00" y2="1225.60" stroke="#7a7a7a" stroke-width="1.1" />
<line x1="3853.00" y1="1066.20" x2="3853.00" y2="1225.60" stroke="#7a7a7a" stroke-width="1.1" />
<text x="3468.40" y="1081.80" font-family='"Liberation Serif", "DejaVu Serif", serif' font-size="18.4">Method</text>
<text x="3580.20" y="1081.80" font-family='"Liberation Serif", "DejaVu Serif", serif' font-size="18.4" text-anchor="middle">OL</text>
<text x="3617.50" y="1081.80" font-family='"Liberation Serif", "DejaVu Serif", serif' font-size="18.4" text-anchor="middle">Sld.</text>
<text x="3658.60" y="1081.80" font-family='"Liberation Serif", "DejaVu Serif", serif' font-size="18.4" text-anchor="middle">Elb.</text>
<text x="3700.40" y="1081.80" font-family='"Liberation Serif", "DejaVu Serif", serif' font-size="18.4" text-anchor="middle">Wri.</text>
<text x="3742.30" y="1081.80" font-family='"Liberation Serif", "DejaVu Serif", serif' font-size="18.4" text-anchor="middle">Hip</text>
<text x="3785.30" y="1081.80" font-family='"Liberation Serif", "DejaVu Serif", serif' font-size="18.4" text-anchor="middle">Kne.</text>
<text x="3829.80" y="1081.80" font-family='"Liberation Serif", "DejaVu Serif", serif' font-size="18.4" text-anchor="middle">Ank.</text>
<text x="3873.50" y="1081.80" font-family='"Liberation Serif", "DejaVu Serif", serif' font-size="18.4" text-anchor="middle">All</text>
<text x="3468.40" y="1104.70" font-family='"Liberation Serif", "DejaVu Serif", serif' font-size="18.4">Source-only</text>
<text x="3580.20" y="1104.70" font-family='"Liberation Serif", "DejaVu Serif", serif' font-size="21" text-anchor="middle">–</text>
<text x="3617.50" y="1104.70" font-family='"Liberation Serif", "DejaVu Serif", serif' font-size="18.4" text-anchor="middle">69.4</text>
<text x="3658.60" y="1104.70" font-family='"Liberation Serif", "DejaVu Serif", serif' font-size="18.4" text-anchor="middle">75.4</text>
<text x="3700.40" y="1104.70" font-family='"Liberation Serif", "DejaVu Serif", serif' font-size="18.4" text-anchor="middle">66.4</text>
<text x="3742.30" y="1104.70" font-family='"Liberation Serif", "DejaVu Serif", serif' font-size="18.4" text-anchor="middle">37.9</text>
<text x="3785.30" y="1104.70" font-family='"Liberation Serif", "DejaVu Serif", serif' font-size="18.4" text-anchor="middle">77.3</text>
<text x="3829.80" y="1104.70" font-family='"Liberation Serif", "DejaVu Serif", serif' font-size="18.4" text-anchor="middle">77.7</text>
<text x="3873.50" y="1104.70" font-family='"Liberation Serif", "DejaVu Serif", serif' font-size="18.4" text-anchor="middle">67.3</text>
<text x="3468.40" y="1127.90" font-family='"Liberation Serif", "DejaVu Serif", serif' font-size="18.4">MMT</text>
<text x="3580.20" y="1129.50" font-family='"Liberation Serif", "DejaVu Serif", serif' font-size="22.5" text-anchor="middle">×</text>
<text x="3617.50" y="1127.90" font-family='"Liberation Serif", "DejaVu Serif", serif' font-size="18.4" text-anchor="middle">73.2</text>
<text x="3658.60" y="1127.90" font-family='"Liberation Serif", "DejaVu Serif", serif' font-size="18.4" text-anchor="middle">83.5</text>
<text x="3700.40" y="1127.90" font-family='"Liberation Serif", "DejaVu Serif", serif' font-size="18.4" text-anchor="middle">72.4</text>
<text x="3742.30" y="1127.90" font-family='"Liberation Serif", "DejaVu Serif", serif' font-size="18.4" text-anchor="middle">45.1</text>
<text x="3785.30" y="1127.90" font-family='"Liberation Serif", "DejaVu Serif", serif' font-size="18.4" text-anchor="middle">80.8</text>
<text x="3829.80" y="1127.90" font-family='"Liberation Serif", "DejaVu Serif", serif' font-size="18.4" text-anchor="middle">83.9</text>
<text x="3873.50" y="1127.90" font-family='"Liberation Serif", "DejaVu Serif", serif' font-size="18.4" text-anchor="middle">73.9</text>
<text x="3468.40" y="1150.30" font-family='"Liberation Serif", "DejaVu Serif", serif' font-size="18.4">RegDA-SF</text>
<text x="3580.20" y="1151.90" font-family='"Liberation Serif", "DejaVu Serif", serif' font-size="22.5" text-anchor="middle">×</text>
<text x="3617.50" y="1150.30" font-family='"Liberation Serif", "DejaVu Serif", serif' font-size="18.4" text-anchor="middle">70.6</text>
<text x="3658.60" y="1150.30" font-family='"Liberation Serif", "DejaVu Serif", serif' font-size="18.4" text-anchor="middle">82.0</text>
<text x="3700.40" y="1150.30" font-family='"Liberation Serif", "DejaVu Serif", serif' font-size="18.4" text-anchor="middle">69.8</text>
<text x="3742.30" y="1150.30" font-family='"Liberation Serif", "DejaVu Serif", serif' font-size="18.4" text-anchor="middle">43.3</text>
<text x="3785.30" y="1150.30" font-family='"Liberation Serif", "DejaVu Serif", serif' font-size="18.4" text-anchor="middle">79.1</text>
<text x="3829.80" y="1150.30" font-family='"Liberation Serif", "DejaVu Serif", serif' font-size="18.4" text-anchor="middle">79.4</text>
<text x="3873.50" y="1150.30" font-family='"Liberation Serif", "DejaVu Serif", serif' font-size="18.4" text-anchor="middle">71.5</text>
<text x="3468.40" y="1172.40" font-family='"Liberation Serif", "DejaVu Serif", serif' font-size="18.4">POST</text>
<text x="3580.20" y="1174.00" font-family='"Liberation Serif", "DejaVu Serif", serif' font-size="22.5" text-anchor="middle">×</text>
<text x="3617.50" y="1172.40" font-family='"Liberation Serif", "DejaVu Serif", serif' font-size="18.4" fill="#ff0000" text-anchor="middle">81.3</text>
<text x="3658.60" y="1172.40" font-family='"Liberation Serif", "DejaVu Serif", serif' font-size="18.4" text-anchor="middle">88.5</text>
<text x="3700.40" y="1172.40" font-family='"Liberation Serif", "DejaVu Serif", serif' font-size="18.4" text-anchor="middle">77.4</text>
<text x="3742.30" y="1172.40" font-family='"Liberation Serif", "DejaVu Serif", serif' font-size="18.4" text-anchor="middle">46.1</text>
<text x="3785.30" y="1172.40" font-family='"Liberation Serif", "DejaVu Serif", serif' font-size="18.4" text-anchor="middle">83.4</text>
<text x="3829.80" y="1172.40" font-family='"Liberation Serif", "DejaVu Serif", serif' font-size="18.4" text-anchor="middle">83.4</text>
<text x="3873.50" y="1172.40" font-family='"Liberation Serif", "DejaVu Serif", serif' font-size="18.4" text-anchor="middle">76.7</text>
<text x="3468.40" y="1194.80" font-family='"Liberation Serif", "DejaVu Serif", serif' font-size="18.4">SP+TR</text>
<text x="3580.20" y="1196.40" font-family='"Liberation Serif", "DejaVu Serif", serif' font-size="22.5" text-anchor="middle">×</text>
<text x="3617.50" y="1194.80" font-family='"Liberation Serif", "DejaVu Serif", serif' font-size="18.4" text-anchor="middle">77.9</text>
<text x="3658.60" y="1194.80" font-family='"Liberation Serif", "DejaVu Serif", serif' font-size="18.4" fill="#ff0000" text-anchor="middle">88.8</text>
<text x="3700.40" y="1194.80" font-family='"Liberation Serif", "DejaVu Serif", serif' font-size="18.4" fill="#0000ff" text-anchor="middle">80.4</text>
<text x="3742.30" y="1194.80" font-family='"Liberation Serif", "DejaVu Serif", serif' font-size="18.4" fill="#ff0000" text-anchor="middle">52.3</text>
<text x="3785.30" y="1194.80" font-family='"Liberation Serif", "DejaVu Serif", serif' font-size="18.4" fill="#ff0000" text-anchor="middle">84.2</text>
<text x="3829.80" y="1194.80" font-family='"Liberation Serif", "DejaVu Serif", serif' font-size="18.4" fill="#ff0000" text-anchor="middle">86.9</text>
<text x="3873.50" y="1194.80" font-family='"Liberation Serif", "DejaVu Serif", serif' font-size="18.4" fill="#ff0000" text-anchor="middle">78.7</text>
<text x="3468.40" y="1218.00" font-family='"Liberation Serif", "DejaVu Serif", serif' font-size="18.4">MeTTA</text>
<text x="3580.20" y="1219.20" font-family='"DejaVu Sans", "Liberation Sans", sans-serif' font-size="19.5" text-anchor="middle">✓</text>
<text x="3617.50" y="1218.00" font-family='"Liberation Serif", "DejaVu Serif", serif' font-size="18.4" fill="#0000ff" text-anchor="middle">78.1</text>
<text x="3658.60" y="1218.00" font-family='"Liberation Serif", "DejaVu Serif", serif' font-size="18.4" fill="#0000ff" text-anchor="middle">88.6</text>
<text x="3700.40" y="1218.00" font-family='"Liberation Serif", "DejaVu Serif", serif' font-size="18.4" fill="#ff0000" text-anchor="middle">80.6</text>
<text x="3742.30" y="1218.00" font-family='"Liberation Serif", "DejaVu Serif", serif' font-size="18.4" fill="#0000ff" text-anchor="middle">51.3</text>
<text x="3785.30" y="1218.00" font-family='"Liberation Serif", "DejaVu Serif", serif' font-size="18.4" fill="#0000ff" text-anchor="middle">83.8</text>
<text x="3829.80" y="1218.00" font-family='"Liberation Serif", "DejaVu Serif", serif' font-size="18.4" fill="#0000ff" text-anchor="middle">86.5</text>
<text x="3873.50" y="1218.00" font-family='"Liberation Serif", "DejaVu Serif", serif' font-size="18.4" fill="#0000ff" text-anchor="middle">78.5</text>
<text x="0.00" y="1258.70" font-family='"Liberation Serif", "DejaVu Serif", serif' font-size="16.6"></text>
</g>
<text x="3036.10" y="1258.70" font-family='"Liberation Serif", "DejaVu Serif", serif' font-size="16.6" textLength="181.00" lengthAdjust="spacingAndGlyphs">PCK@0.05 on SURREAL </text>
<text x="3219.50" y="1258.70" font-family='"DejaVu Sans", "Liberation Sans", sans-serif' font-size="15">→</text>
<text x="3240.50" y="1258.70" font-family='"Liberation Serif", "DejaVu Serif", serif' font-size="16.6" textLength="112.50" lengthAdjust="spacingAndGlyphs">LSP. OL: online.</text>
<text x="3532.50" y="1258.70" font-family='"Liberation Serif", "DejaVu Serif", serif' font-size="16.6" textLength="181.00" lengthAdjust="spacingAndGlyphs">PCK@0.05 on SURREAL </text>
<text x="3716.00" y="1258.70" font-family='"DejaVu Sans", "Liberation Sans", sans-serif' font-size="15">→</text>
<text x="3737.00" y="1258.70" font-family='"Liberation Serif", "DejaVu Serif", serif' font-size="16.6" textLength="89.00" lengthAdjust="spacingAndGlyphs">Human3.6M.</text>
</g>
<g id="conclusion">
<rect x="2938.00" y="1350.00" width="997.00" height="618.50" fill="#fff" rx="38" stroke="#a626a6" stroke-width="1.7"/>
<path d="M2937,1438 L2937,1387 Q2937,1349 2975,1349 L3898,1349 Q3936,1349 3936,1387 L3936,1438 Z" fill="#990099"/>
<text transform="translate(3436.30,1418.40) scale(0.9300,1)" font-family='"Liberation Sans", "DejaVu Sans", sans-serif' font-size="48" font-weight="bold" fill="#fff" text-anchor="middle" textLength="258.06" lengthAdjust="spacingAndGlyphs">Conclusion</text>
<text transform="translate(2987.00,1497.00) scale(0.9430,1)" font-family='"Liberation Sans", "DejaVu Sans", sans-serif' font-size="36.2" font-weight="bold" textLength="953.76" lengthAdjust="spacing">In this paper, we propose MeTTA to achieve test-time</text>
<text transform="translate(2987.00,1545.00) scale(0.9430,1)" font-family='"Liberation Sans", "DejaVu Sans", sans-serif' font-size="36.2" font-weight="bold" textLength="953.76" lengthAdjust="spacing">fast adaptation for HPE. We use novel body-specific</text>
<text transform="translate(2987.00,1593.00) scale(0.9430,1)" font-family='"Liberation Sans", "DejaVu Sans", sans-serif' font-size="36.2" font-weight="bold" textLength="953.76" lengthAdjust="spacing">image inpainting as our auxiliary task to focus on</text>
<text transform="translate(2987.00,1641.00) scale(0.9430,1)" font-family='"Liberation Sans", "DejaVu Sans", sans-serif' font-size="36.2" font-weight="bold" textLength="953.76" lengthAdjust="spacing">human-related semantics in the input image. Under</text>
<text transform="translate(2987.00,1689.00) scale(0.9430,1)" font-family='"Liberation Sans", "DejaVu Sans", sans-serif' font-size="36.2" font-weight="bold" textLength="953.76" lengthAdjust="spacing">the framework of meta-auxiliary learning for TTA, the</text>
<text transform="translate(2987.00,1737.00) scale(0.9430,1)" font-family='"Liberation Sans", "DejaVu Sans", sans-serif' font-size="36.2" font-weight="bold" textLength="953.76" lengthAdjust="spacing">number of weight updates is performed becomes a</text>
<text transform="translate(2987.00,1785.00) scale(0.9430,1)" font-family='"Liberation Sans", "DejaVu Sans", sans-serif' font-size="36.2" font-weight="bold" textLength="953.76" lengthAdjust="spacing">hyper-parameter, which enables fast adaptation by</text>
<text transform="translate(2987.00,1833.00) scale(0.9430,1)" font-family='"Liberation Sans", "DejaVu Sans", sans-serif' font-size="36.2" font-weight="bold" textLength="953.76" lengthAdjust="spacing">setting smaller values.  The performance coupling of</text>
<text transform="translate(2987.00,1881.00) scale(0.9430,1)" font-family='"Liberation Sans", "DejaVu Sans", sans-serif' font-size="36.2" font-weight="bold" textLength="953.76" lengthAdjust="spacing">primary and auxiliary tasks ensures accurate tuning</text>
<text transform="translate(2987.00,1929.00) scale(0.9430,1)" font-family='"Liberation Sans", "DejaVu Sans", sans-serif' font-size="36.2" font-weight="bold" textLength="603.39" lengthAdjust="spacing">and avoids catastrophic forgetting.</text>
</g>
</svg>
</body>
</html>
